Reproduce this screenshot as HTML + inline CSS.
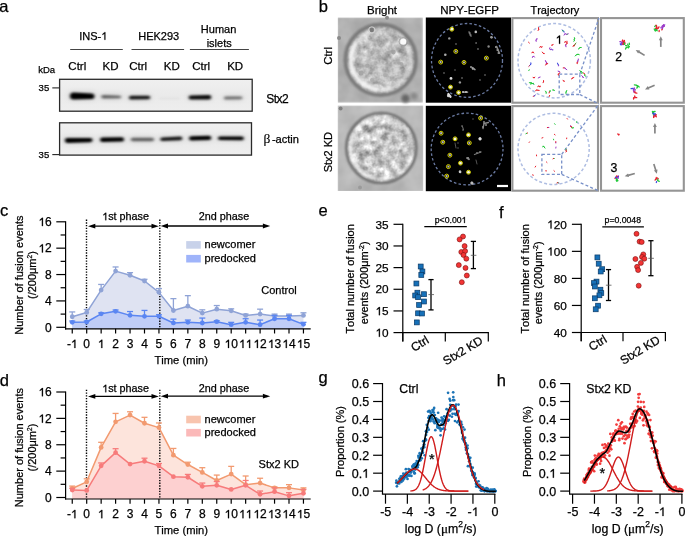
<!DOCTYPE html>
<html><head><meta charset="utf-8"><style>
html,body{margin:0;padding:0;background:#fff;width:685px;height:536px;overflow:hidden}
svg{display:block;font-family:"Liberation Sans", sans-serif;will-change:transform;font-kerning:none;font-variant-ligatures:none}
text{stroke:#000;stroke-width:0.25px}
</style></head><body>
<svg width="685" height="536" viewBox="0 0 685 536">
<defs>
<filter id="blur1" x="-50%" y="-100%" width="200%" height="300%"><feGaussianBlur stdDeviation="1.5 1.3"/></filter>
<linearGradient id="blotbg" x1="0" y1="0" x2="0" y2="1"><stop offset="0" stop-color="#f0f0f0"/><stop offset="0.5" stop-color="#eaeaea"/><stop offset="1" stop-color="#eeeeee"/></linearGradient>
<filter id="blur2" x="-50%" y="-100%" width="200%" height="300%"><feGaussianBlur stdDeviation="3 2.5"/></filter>
<filter id="bl06"><feGaussianBlur stdDeviation="0.6"/></filter>
<filter id="bl04" x="-20%" y="-20%" width="140%" height="140%"><feGaussianBlur stdDeviation="0.35"/></filter>
<filter id="bl1" x="-20%" y="-20%" width="140%" height="140%"><feGaussianBlur stdDeviation="1"/></filter>
<filter id="bl15" x="-20%" y="-20%" width="140%" height="140%"><feGaussianBlur stdDeviation="1.5"/></filter>
<filter id="bl2" x="-20%" y="-20%" width="140%" height="140%"><feGaussianBlur stdDeviation="2"/></filter>
<filter id="mot1" x="0" y="0" width="100%" height="100%" color-interpolation-filters="sRGB">
<feTurbulence type="fractalNoise" baseFrequency="0.13" numOctaves="3" seed="4"/>
<feColorMatrix type="matrix" values="0.33 0.33 0.33 0 0  0.33 0.33 0.33 0 0  0.33 0.33 0.33 0 0  0 0 0 0 1"/>
<feComponentTransfer><feFuncR type="linear" slope="0.95" intercept="0.265"/><feFuncG type="linear" slope="0.95" intercept="0.265"/><feFuncB type="linear" slope="0.95" intercept="0.265"/></feComponentTransfer>
<feGaussianBlur stdDeviation="0.7"/>
</filter>
<filter id="mot2" x="0" y="0" width="100%" height="100%" color-interpolation-filters="sRGB">
<feTurbulence type="fractalNoise" baseFrequency="0.12" numOctaves="3" seed="9"/>
<feColorMatrix type="matrix" values="0.33 0.33 0.33 0 0  0.33 0.33 0.33 0 0  0.33 0.33 0.33 0 0  0 0 0 0 1"/>
<feComponentTransfer><feFuncR type="linear" slope="1.35" intercept="0.11"/><feFuncG type="linear" slope="1.35" intercept="0.11"/><feFuncB type="linear" slope="1.35" intercept="0.11"/></feComponentTransfer>
<feGaussianBlur stdDeviation="0.6"/>
</filter>
<filter id="bgn1" x="0" y="0" width="100%" height="100%" color-interpolation-filters="sRGB">
<feTurbulence type="fractalNoise" baseFrequency="0.05" numOctaves="3" seed="2"/>
<feColorMatrix type="matrix" values="0.33 0.33 0.33 0 0  0.33 0.33 0.33 0 0  0.33 0.33 0.33 0 0  0 0 0 0 1"/>
<feComponentTransfer><feFuncR type="linear" slope="0.25" intercept="0.565"/><feFuncG type="linear" slope="0.25" intercept="0.565"/><feFuncB type="linear" slope="0.25" intercept="0.565"/></feComponentTransfer>
<feGaussianBlur stdDeviation="1.0"/>
</filter>
<filter id="bgn2" x="0" y="0" width="100%" height="100%" color-interpolation-filters="sRGB">
<feTurbulence type="fractalNoise" baseFrequency="0.05" numOctaves="3" seed="5"/>
<feColorMatrix type="matrix" values="0.33 0.33 0.33 0 0  0.33 0.33 0.33 0 0  0.33 0.33 0.33 0 0  0 0 0 0 1"/>
<feComponentTransfer><feFuncR type="linear" slope="0.25" intercept="0.605"/><feFuncG type="linear" slope="0.25" intercept="0.605"/><feFuncB type="linear" slope="0.25" intercept="0.605"/></feComponentTransfer>
<feGaussianBlur stdDeviation="1.0"/>
</filter>
</defs>
<text x="-0.80" y="11.70" font-size="16.5" text-anchor="start" fill="#000" >a</text>
<text x="318.80" y="12.00" font-size="16.5" text-anchor="start" fill="#000" >b</text>
<text x="0.00" y="216.30" font-size="16.5" text-anchor="start" fill="#000" >c</text>
<text x="-0.30" y="386.20" font-size="16.5" text-anchor="start" fill="#000" >d</text>
<text x="318.60" y="216.30" font-size="16.5" text-anchor="start" fill="#000" >e</text>
<text x="499.10" y="217.90" font-size="16.5" text-anchor="start" fill="#000" >f</text>
<text x="318.50" y="383.00" font-size="16.5" text-anchor="start" fill="#000" >g</text>
<text x="496.80" y="386.40" font-size="16.5" text-anchor="start" fill="#000" >h</text>
<text id="t1_0" x="93.30" y="39.80" font-size="11" text-anchor="middle" fill="#000" >INS- </text>
<path d="M590,0 L590,1130 L230,905 L230,1075 L620,1409 L770,1409 L770,0 Z" transform="translate(101.238,39.800) scale(0.00537,-0.00537)" fill="#000" stroke="#000" stroke-width="46.5"/>
<text x="158.70" y="39.80" font-size="11" text-anchor="middle" fill="#000" >HEK293</text>
<text x="218.60" y="33.10" font-size="11" text-anchor="middle" fill="#000" >Human</text>
<text x="219.20" y="47.10" font-size="11" text-anchor="middle" fill="#000" >islets</text>
<line x1="70.20" y1="49.50" x2="122.80" y2="49.50" stroke="#444" stroke-width="1.0" />
<line x1="131.50" y1="49.50" x2="184.10" y2="49.50" stroke="#444" stroke-width="1.0" />
<line x1="189.90" y1="49.50" x2="248.90" y2="49.50" stroke="#444" stroke-width="1.0" />
<text x="77.30" y="70.30" font-size="11.5" text-anchor="middle" fill="#000" >Ctrl</text>
<text x="110.50" y="70.30" font-size="11.5" text-anchor="middle" fill="#000" >KD</text>
<text x="138.10" y="70.30" font-size="11.5" text-anchor="middle" fill="#000" >Ctrl</text>
<text x="171.80" y="70.30" font-size="11.5" text-anchor="middle" fill="#000" >KD</text>
<text x="201.20" y="70.30" font-size="11.5" text-anchor="middle" fill="#000" >Ctrl</text>
<text x="235.20" y="70.30" font-size="11.5" text-anchor="middle" fill="#000" >KD</text>
<text x="38.20" y="73.20" font-size="9.5" text-anchor="start" fill="#000" >kDa</text>
<text x="38.60" y="91.10" font-size="9.5" text-anchor="start" fill="#000" >35</text>
<text x="38.60" y="157.90" font-size="9.5" text-anchor="start" fill="#000" >35</text>
<line x1="52.30" y1="87.90" x2="59.50" y2="87.90" stroke="#222" stroke-width="1.1" />
<line x1="52.30" y1="154.60" x2="59.50" y2="154.60" stroke="#222" stroke-width="1.1" />
<rect x="59.60" y="79.30" width="192.60" height="31.90" fill="url(#blotbg)" stroke="#2a2a2a" stroke-width="1.3" />
<rect x="59.60" y="122.80" width="191.90" height="32.30" fill="url(#blotbg)" stroke="#2a2a2a" stroke-width="1.3" />
<g filter="url(#blur2)" opacity="0.10">
<rect x="69.50" y="91.50" width="25.20" height="9.00" fill="#000"/>
<rect x="100.90" y="93.70" width="20.40" height="6.00" fill="#000"/>
<rect x="128.60" y="94.70" width="21.90" height="6.00" fill="#000"/>
<rect x="188.30" y="94.40" width="23.20" height="6.00" fill="#000"/>
<rect x="223.60" y="95.40" width="19.00" height="5.00" fill="#000"/>
<rect x="64.40" y="137.00" width="28.40" height="7.00" fill="#000"/>
<rect x="99.70" y="136.20" width="24.50" height="7.00" fill="#000"/>
<rect x="130.40" y="136.50" width="23.80" height="6.00" fill="#000"/>
<rect x="159.90" y="135.80" width="22.70" height="6.00" fill="#000"/>
<rect x="188.70" y="134.60" width="22.80" height="7.00" fill="#000"/>
<rect x="217.60" y="135.00" width="26.50" height="6.00" fill="#000"/>
</g>
<g filter="url(#blur1)">
<path d="M73.50,92.50 L91.60,93.40 A2.80,2.80 0 0 1 91.60,99.00 L73.50,99.50 A3.50,3.50 0 0 1 73.50,92.50 Z" fill="#000" fill-opacity="1.0"/>
<path d="M103.10,94.90 L119.70,95.70 A1.30,1.30 0 0 1 119.70,98.30 L103.10,98.50 A1.80,1.80 0 0 1 103.10,94.90 Z" fill="#000" fill-opacity="0.55"/>
<path d="M130.90,95.80 L148.40,95.70 A1.80,1.80 0 0 1 148.40,99.30 L130.90,99.60 A1.90,1.90 0 0 1 130.90,95.80 Z" fill="#000" fill-opacity="0.9"/>
<path d="M159.80,97.70 L179.20,97.70 A0.80,0.80 0 0 1 179.20,99.30 L159.80,99.30 A0.80,0.80 0 0 1 159.80,97.70 Z" fill="#000" fill-opacity="0.05"/>
<path d="M190.60,95.60 L209.00,95.00 A2.20,2.20 0 0 1 209.00,99.40 L190.60,99.40 A1.90,1.90 0 0 1 190.60,95.60 Z" fill="#000" fill-opacity="0.95"/>
<path d="M225.50,96.40 L240.90,96.50 A1.40,1.40 0 0 1 240.90,99.30 L225.50,99.40 A1.50,1.50 0 0 1 225.50,96.40 Z" fill="#000" fill-opacity="0.5"/>
</g>
<g filter="url(#blur1)">
<path d="M67.30,138.10 L90.40,138.00 A2.10,2.10 0 0 1 90.40,142.20 L67.30,142.90 A2.40,2.40 0 0 1 67.30,138.10 Z" fill="#000" fill-opacity="1.0"/>
<path d="M102.30,137.60 L121.80,137.20 A2.20,2.20 0 0 1 121.80,141.60 L102.30,142.00 A2.20,2.20 0 0 1 102.30,137.60 Z" fill="#000" fill-opacity="1.0"/>
<path d="M132.60,137.70 L152.30,137.80 A1.70,1.70 0 0 1 152.30,141.20 L132.60,141.30 A1.80,1.80 0 0 1 132.60,137.70 Z" fill="#000" fill-opacity="0.55"/>
<path d="M162.00,137.50 L180.50,136.60 A1.80,1.80 0 0 1 180.50,140.20 L162.00,140.90 A1.70,1.70 0 0 1 162.00,137.50 Z" fill="#000" fill-opacity="0.9"/>
<path d="M191.25,136.25 L209.05,135.75 A2.15,2.15 0 0 1 209.05,140.05 L191.25,140.55 A2.15,2.15 0 0 1 191.25,136.25 Z" fill="#000" fill-opacity="1.0"/>
<path d="M219.80,136.40 L242.00,136.60 A1.80,1.80 0 0 1 242.00,140.20 L219.80,140.00 A1.80,1.80 0 0 1 219.80,136.40 Z" fill="#000" fill-opacity="1.0"/>
</g>
<text x="266.30" y="103.00" font-size="12" text-anchor="start" fill="#000" letter-spacing="-0.55">Stx2</text>
<text x="263.6" y="143.2" font-size="12"><tspan font-family="Liberation Serif" font-size="13.5" stroke-width="0.15">β</tspan><tspan dx="1.4" font-size="11.1">-actin</tspan></text>
<text x="382.00" y="14.20" font-size="11.5" text-anchor="middle" fill="#000" >Bright</text>
<text x="469.60" y="14.00" font-size="11.5" text-anchor="middle" fill="#000" >NPY-EGFP</text>
<text x="554.90" y="13.80" font-size="11" text-anchor="middle" fill="#000" >Trajectory</text>
<text transform="translate(332.3,55.9) rotate(-90)" font-size="11.3" text-anchor="middle">Ctrl</text>
<text transform="translate(332.3,152.2) rotate(-90)" font-size="11" text-anchor="middle">Stx2 KD</text>
<clipPath id="clipt"><rect x="337.8" y="17.5" width="85.2" height="85.2"/></clipPath>
<clipPath id="cct"><circle cx="380.7" cy="59.8" r="34.8"/></clipPath>
<g clip-path="url(#clipt)">
<rect x="337.8" y="17.5" width="85.2" height="85.2" filter="url(#bgn1)"/>
<g clip-path="url(#cct)"><rect x="345.4" y="24.5" width="70.6" height="70.6" filter="url(#mot1)"/></g>
<g clip-path="url(#cct)" filter="url(#bl15)">
<path d="M378.10,89.49 A29.80,29.80 0 0 1 356.29,42.71" fill="none" stroke="#f8f8f8" stroke-width="4.5" opacity="0.95"/>
<path d="M352.70,49.61 A29.80,29.80 0 0 1 375.53,30.45" fill="none" stroke="#eeeeee" stroke-width="3.5" opacity="0.7"/>
<path d="M406.51,44.90 A29.80,29.80 0 0 1 406.51,74.70" fill="none" stroke="#e8e8e8" stroke-width="3.5" opacity="0.6"/>
<path d="M403.53,78.96 A29.80,29.80 0 0 1 378.10,89.49" fill="none" stroke="#f0f0f0" stroke-width="3.5" opacity="0.7"/>
</g>
<circle cx="380.7" cy="59.8" r="35.3" fill="none" stroke="#7a7a7a" stroke-width="3.8" filter="url(#bl1)"/>
</g>
<g filter="url(#bl06)">
<circle cx="403.30" cy="41.80" r="3.00" fill="#fafafa" stroke="none" stroke-width="1" />
<circle cx="403.30" cy="41.80" r="4.20" fill="none" stroke="#999" stroke-width="0.8" />
<circle cx="371.80" cy="30.00" r="2.20" fill="#7a7a7a" stroke="none" stroke-width="1" />
<circle cx="371.80" cy="30.00" r="3.20" fill="none" stroke="#d0d0d0" stroke-width="0.9" />
<circle cx="393.50" cy="52.10" r="2.30" fill="#9c9c9c" stroke="none" stroke-width="0" opacity="0.8"/>
<circle cx="388.80" cy="52.50" r="1.80" fill="#a8a8a8" stroke="none" stroke-width="0" opacity="0.8"/>
<circle cx="379.30" cy="56.10" r="1.80" fill="#a8a8a8" stroke="none" stroke-width="0" opacity="0.8"/>
<circle cx="367.40" cy="65.60" r="2.20" fill="#a4a4a4" stroke="none" stroke-width="0" opacity="0.8"/>
<circle cx="401.50" cy="64.00" r="2.00" fill="#a4a4a4" stroke="none" stroke-width="0" opacity="0.8"/>
<circle cx="361.00" cy="73.00" r="2.50" fill="#a0a0a0" stroke="none" stroke-width="0" opacity="0.8"/>
<circle cx="372.00" cy="80.00" r="2.00" fill="#a8a8a8" stroke="none" stroke-width="0" opacity="0.8"/>
<circle cx="385.00" cy="75.00" r="2.00" fill="#acacac" stroke="none" stroke-width="0" opacity="0.8"/>
<circle cx="383.00" cy="62.00" r="1.80" fill="#a8a8a8" stroke="none" stroke-width="0" opacity="0.8"/>
<circle cx="399.00" cy="63.00" r="1.80" fill="#a4a4a4" stroke="none" stroke-width="0" opacity="0.8"/>
<circle cx="339.00" cy="38.00" r="2.00" fill="#8a8a8a" stroke="none" stroke-width="1" />
<circle cx="387.00" cy="17.80" r="2.00" fill="#8a8a8a" stroke="none" stroke-width="1" />
</g>
<circle cx="405.50" cy="98.50" r="4.20" fill="#666" stroke="none" stroke-width="0" filter="url(#bl15)"/>
<circle cx="414.00" cy="96.00" r="3.50" fill="#8a8a8a" stroke="none" stroke-width="0" filter="url(#bl15)"/>
<clipPath id="clipb"><rect x="337.7" y="105.5" width="85.5" height="85.6"/></clipPath>
<clipPath id="ccb"><circle cx="381.3" cy="148.0" r="34.5"/></clipPath>
<g clip-path="url(#clipb)">
<rect x="337.7" y="105.5" width="85.5" height="85.6" filter="url(#bgn2)"/>
<g clip-path="url(#ccb)"><rect x="346.3" y="113.0" width="70.0" height="70.0" filter="url(#mot2)"/></g>
<g clip-path="url(#ccb)" filter="url(#bl15)">
<path d="M375.92,178.53 A31.00,31.00 0 0 1 352.17,137.40" fill="none" stroke="#f4f4f4" stroke-width="4" opacity="0.8"/>
<path d="M352.17,137.40 A31.00,31.00 0 0 1 391.90,118.87" fill="none" stroke="#f0f0f0" stroke-width="3.5" opacity="0.6"/>
<path d="M396.80,121.15 A31.00,31.00 0 0 1 412.30,148.00" fill="none" stroke="#eeeeee" stroke-width="3.5" opacity="0.5"/>
<path d="M412.30,148.00 A31.00,31.00 0 0 1 375.92,178.53" fill="none" stroke="#eeeeee" stroke-width="3.5" opacity="0.5"/>
</g>
<circle cx="381.3" cy="148.0" r="35.0" fill="none" stroke="#6e6e6e" stroke-width="2.6" filter="url(#bl1)"/>
</g>
<circle cx="340.60" cy="108.60" r="2.00" fill="#808080" stroke="none" stroke-width="0" filter="url(#bl06)"/>
<circle cx="360.00" cy="187.50" r="2.00" fill="#9a9a9a" stroke="none" stroke-width="0" filter="url(#bl06)"/>
<rect x="425.80" y="17.50" width="85.30" height="85.20" fill="#000" stroke="none" stroke-width="1" />
<g filter="url(#bl06)">
<circle cx="475.80" cy="31.90" r="1.30" fill="#bbb" stroke="none" stroke-width="1" />
<circle cx="469.60" cy="33.00" r="1.00" fill="#888" stroke="none" stroke-width="1" />
<circle cx="470.50" cy="35.00" r="1.00" fill="#888" stroke="none" stroke-width="1" />
<circle cx="449.30" cy="38.40" r="1.20" fill="#999" stroke="none" stroke-width="1" />
<circle cx="491.50" cy="37.30" r="1.30" fill="#999" stroke="none" stroke-width="1" />
<circle cx="496.00" cy="47.00" r="1.00" fill="#aaa" stroke="none" stroke-width="1" />
<circle cx="497.50" cy="50.00" r="1.10" fill="#aaa" stroke="none" stroke-width="1" />
<circle cx="498.50" cy="53.00" r="1.00" fill="#999" stroke="none" stroke-width="1" />
<circle cx="445.30" cy="54.70" r="1.30" fill="#aaa" stroke="none" stroke-width="1" />
<circle cx="472.90" cy="68.60" r="1.20" fill="#bbb" stroke="none" stroke-width="1" />
<circle cx="471.00" cy="67.00" r="1.00" fill="#999" stroke="none" stroke-width="1" />
<circle cx="451.00" cy="78.40" r="1.40" fill="#ddd" stroke="none" stroke-width="1" />
<circle cx="459.90" cy="82.40" r="1.20" fill="#999" stroke="none" stroke-width="1" />
<circle cx="463.00" cy="92.00" r="1.00" fill="#ccc" stroke="none" stroke-width="1" />
<circle cx="466.00" cy="92.00" r="1.00" fill="#ccc" stroke="none" stroke-width="1" />
<circle cx="448.50" cy="95.70" r="1.60" fill="#ccc" stroke="none" stroke-width="1" />
<circle cx="488.60" cy="46.50" r="1.20" fill="#888" stroke="none" stroke-width="1" />
<circle cx="476.10" cy="43.00" r="0.90" fill="#666" stroke="none" stroke-width="1" />
<circle cx="478.00" cy="49.00" r="0.90" fill="#666" stroke="none" stroke-width="1" />
<circle cx="456.00" cy="44.00" r="0.90" fill="#555" stroke="none" stroke-width="1" />
<circle cx="444.00" cy="73.00" r="0.90" fill="#555" stroke="none" stroke-width="1" />
<circle cx="485.00" cy="75.00" r="0.90" fill="#555" stroke="none" stroke-width="1" />
<circle cx="480.00" cy="80.00" r="0.90" fill="#555" stroke="none" stroke-width="1" />
<circle cx="455.00" cy="70.00" r="0.90" fill="#444" stroke="none" stroke-width="1" />
<circle cx="462.00" cy="78.00" r="1.00" fill="#555" stroke="none" stroke-width="1" />
</g>
<ellipse cx="467.0" cy="60.4" rx="35.5" ry="36.9" fill="none" stroke="#6a7aa2" stroke-width="1.3" stroke-dasharray="2.6 2.2"/>
<g filter="url(#bl04)">
<circle cx="451.80" cy="29.20" r="1.60" fill="#f4f4e0" stroke="none" stroke-width="0" />
<circle cx="451.80" cy="29.20" r="1.95" fill="none" stroke="#d8d400" stroke-width="1.0" />
<circle cx="455.80" cy="51.40" r="1.10" fill="#b0b0c0" stroke="none" stroke-width="0" />
<circle cx="455.80" cy="51.40" r="1.95" fill="none" stroke="#d8d400" stroke-width="1.0" />
<circle cx="440.70" cy="62.10" r="1.10" fill="#b0b0c0" stroke="none" stroke-width="0" />
<circle cx="440.70" cy="62.10" r="1.95" fill="none" stroke="#d8d400" stroke-width="1.0" />
<circle cx="464.00" cy="62.40" r="1.10" fill="#b0b0c0" stroke="none" stroke-width="0" />
<circle cx="464.00" cy="62.40" r="1.95" fill="none" stroke="#d8d400" stroke-width="1.0" />
<circle cx="486.40" cy="58.10" r="1.10" fill="#b0b0c0" stroke="none" stroke-width="0" />
<circle cx="486.40" cy="58.10" r="1.95" fill="none" stroke="#d8d400" stroke-width="1.0" />
<circle cx="450.50" cy="87.10" r="1.60" fill="#f4f4e0" stroke="none" stroke-width="0" />
<circle cx="450.50" cy="87.10" r="1.95" fill="none" stroke="#d8d400" stroke-width="1.0" />
<circle cx="458.60" cy="92.50" r="1.60" fill="#f4f4e0" stroke="none" stroke-width="0" />
<circle cx="458.60" cy="92.50" r="1.95" fill="none" stroke="#d8d400" stroke-width="1.0" />
</g>
<rect x="425.80" y="105.80" width="85.30" height="85.40" fill="#000" stroke="none" stroke-width="1" />
<g filter="url(#bl06)">
<circle cx="480.00" cy="138.80" r="1.60" fill="#ddd" stroke="none" stroke-width="1" />
<circle cx="471.90" cy="183.00" r="1.50" fill="#aaa" stroke="none" stroke-width="1" />
<circle cx="460.00" cy="171.80" r="1.30" fill="#bbb" stroke="none" stroke-width="1" />
<circle cx="484.00" cy="122.00" r="1.00" fill="#888" stroke="none" stroke-width="1" />
<circle cx="486.00" cy="125.00" r="1.00" fill="#888" stroke="none" stroke-width="1" />
<circle cx="483.00" cy="127.00" r="1.00" fill="#888" stroke="none" stroke-width="1" />
<circle cx="477.00" cy="153.00" r="1.00" fill="#777" stroke="none" stroke-width="1" />
<circle cx="480.00" cy="152.00" r="1.00" fill="#777" stroke="none" stroke-width="1" />
<circle cx="468.00" cy="158.00" r="1.10" fill="#999" stroke="none" stroke-width="1" />
<circle cx="462.00" cy="126.00" r="0.90" fill="#555" stroke="none" stroke-width="1" />
<circle cx="463.00" cy="130.00" r="0.90" fill="#555" stroke="none" stroke-width="1" />
<circle cx="473.00" cy="119.00" r="0.80" fill="#555" stroke="none" stroke-width="1" />
<circle cx="458.00" cy="143.00" r="0.80" fill="#555" stroke="none" stroke-width="1" />
<circle cx="458.00" cy="148.00" r="0.80" fill="#555" stroke="none" stroke-width="1" />
</g>
<ellipse cx="467.1" cy="149.0" rx="35.9" ry="35.9" fill="none" stroke="#6a7aa2" stroke-width="1.3" stroke-dasharray="2.6 2.2"/>
<g filter="url(#bl04)">
<circle cx="480.60" cy="118.10" r="1.10" fill="#b0b0c0" stroke="none" stroke-width="0" />
<circle cx="480.60" cy="118.10" r="1.95" fill="none" stroke="#d8d400" stroke-width="1.0" />
<circle cx="441.10" cy="133.20" r="1.10" fill="#b0b0c0" stroke="none" stroke-width="0" />
<circle cx="441.10" cy="133.20" r="1.95" fill="none" stroke="#d8d400" stroke-width="1.0" />
<circle cx="455.10" cy="138.80" r="1.60" fill="#f4f4e0" stroke="none" stroke-width="0" />
<circle cx="455.10" cy="138.80" r="1.95" fill="none" stroke="#d8d400" stroke-width="1.0" />
<circle cx="468.50" cy="134.90" r="1.60" fill="#f4f4e0" stroke="none" stroke-width="0" />
<circle cx="468.50" cy="134.90" r="1.95" fill="none" stroke="#d8d400" stroke-width="1.0" />
<circle cx="442.80" cy="142.20" r="1.10" fill="#b0b0c0" stroke="none" stroke-width="0" />
<circle cx="442.80" cy="142.20" r="1.95" fill="none" stroke="#d8d400" stroke-width="1.0" />
<circle cx="469.30" cy="142.90" r="1.10" fill="#b0b0c0" stroke="none" stroke-width="0" />
<circle cx="469.30" cy="142.90" r="1.95" fill="none" stroke="#d8d400" stroke-width="1.0" />
<circle cx="449.90" cy="155.20" r="1.10" fill="#b0b0c0" stroke="none" stroke-width="0" />
<circle cx="449.90" cy="155.20" r="1.95" fill="none" stroke="#d8d400" stroke-width="1.0" />
<circle cx="460.50" cy="163.10" r="1.60" fill="#f4f4e0" stroke="none" stroke-width="0" />
<circle cx="460.50" cy="163.10" r="1.95" fill="none" stroke="#d8d400" stroke-width="1.0" />
<circle cx="448.40" cy="166.60" r="1.10" fill="#b0b0c0" stroke="none" stroke-width="0" />
<circle cx="448.40" cy="166.60" r="1.95" fill="none" stroke="#d8d400" stroke-width="1.0" />
<circle cx="468.50" cy="172.20" r="1.60" fill="#f4f4e0" stroke="none" stroke-width="0" />
<circle cx="468.50" cy="172.20" r="1.95" fill="none" stroke="#d8d400" stroke-width="1.0" />
<circle cx="446.70" cy="176.10" r="1.10" fill="#b0b0c0" stroke="none" stroke-width="0" />
<circle cx="446.70" cy="176.10" r="1.95" fill="none" stroke="#d8d400" stroke-width="1.0" />
</g>
<rect x="497.00" y="184.90" width="11.00" height="2.20" fill="#fff" stroke="none" stroke-width="1" />
<g filter="url(#bl06)" stroke-linecap="round">
<line x1="496.60" y1="46.50" x2="499.40" y2="53.20" stroke="#8a8a8a" stroke-width="1.6" />
<line x1="469.00" y1="31.80" x2="471.00" y2="36.30" stroke="#777" stroke-width="1.3" />
<line x1="472.30" y1="67.50" x2="475.00" y2="69.60" stroke="#999" stroke-width="1.5" />
<line x1="463.50" y1="92.10" x2="467.60" y2="92.10" stroke="#bbb" stroke-width="1.4" />
<line x1="448.30" y1="94.00" x2="450.50" y2="96.80" stroke="#ddd" stroke-width="2.2" />
<line x1="491.30" y1="37.00" x2="491.60" y2="37.60" stroke="#999" stroke-width="1.6" />
<line x1="483.00" y1="128.50" x2="484.00" y2="123.50" stroke="#888" stroke-width="1.3" />
<line x1="484.00" y1="123.50" x2="488.50" y2="122.50" stroke="#888" stroke-width="1.3" />
<line x1="474.50" y1="154.50" x2="481.00" y2="152.00" stroke="#777" stroke-width="1.3" />
<line x1="462.30" y1="126.30" x2="463.50" y2="129.60" stroke="#666" stroke-width="1.1" />
<line x1="467.00" y1="158.00" x2="469.00" y2="159.30" stroke="#888" stroke-width="1.8" />
<line x1="471.90" y1="183.00" x2="472.20" y2="183.30" stroke="#bbb" stroke-width="2.6" />
<line x1="460.00" y1="171.50" x2="460.20" y2="172.20" stroke="#ccc" stroke-width="2.2" />
<line x1="480.00" y1="138.60" x2="480.20" y2="139.00" stroke="#ddd" stroke-width="2.4" />
<line x1="455.00" y1="143.00" x2="456.00" y2="148.00" stroke="#555" stroke-width="1.0" />
<line x1="476.00" y1="160.00" x2="477.00" y2="164.00" stroke="#555" stroke-width="1.0" />
</g>
<rect x="512.40" y="18.10" width="85.60" height="84.60" fill="#fff" stroke="#959595" stroke-width="2.1" />
<rect x="601.00" y="18.10" width="82.80" height="84.60" fill="#fff" stroke="#959595" stroke-width="2.1" />
<rect x="512.40" y="106.10" width="85.60" height="84.60" fill="#fff" stroke="#959595" stroke-width="2.1" />
<rect x="601.00" y="106.10" width="82.80" height="84.60" fill="#fff" stroke="#959595" stroke-width="2.1" />
<ellipse cx="554.2" cy="60.7" rx="36.2" ry="37.2" fill="none" stroke="#aebde2" stroke-width="1.5" stroke-dasharray="3 2.2"/>
<ellipse cx="553.6" cy="148.9" rx="35.6" ry="35.6" fill="none" stroke="#aebde2" stroke-width="1.5" stroke-dasharray="3 2.2"/>
<rect x="559.20" y="74.10" width="20.60" height="20.40" fill="none" stroke="#7890c8" stroke-width="1.3" stroke-dasharray="3 2.2"/>
<rect x="541.90" y="154.30" width="19.80" height="20.10" fill="none" stroke="#7890c8" stroke-width="1.3" stroke-dasharray="3 2.2"/>
<line x1="579.80" y1="74.10" x2="599.00" y2="18.00" stroke="#7890c8" stroke-width="1.3" stroke-dasharray="3 2.2"/>
<line x1="579.80" y1="94.50" x2="599.00" y2="104.00" stroke="#7890c8" stroke-width="1.3" stroke-dasharray="3 2.2"/>
<line x1="561.70" y1="154.30" x2="599.00" y2="104.00" stroke="#7890c8" stroke-width="1.3" stroke-dasharray="3 2.2"/>
<line x1="561.70" y1="174.40" x2="599.00" y2="191.00" stroke="#7890c8" stroke-width="1.3" stroke-dasharray="3 2.2"/>
<line x1="538.50" y1="27.60" x2="538.59" y2="28.71" stroke="#e8202c" stroke-width="1.0" stroke-linecap="round"/>
<line x1="538.59" y1="28.71" x2="538.70" y2="29.59" stroke="#e8202c" stroke-width="1.0" stroke-linecap="round"/>
<line x1="538.70" y1="29.59" x2="538.05" y2="30.60" stroke="#e8202c" stroke-width="1.0" stroke-linecap="round"/>
<line x1="562.20" y1="29.90" x2="562.63" y2="30.81" stroke="#3a48e0" stroke-width="1.0" stroke-linecap="round"/>
<line x1="562.63" y1="30.81" x2="563.76" y2="31.12" stroke="#22c83a" stroke-width="1.0" stroke-linecap="round"/>
<line x1="563.76" y1="31.12" x2="564.08" y2="32.22" stroke="#3a48e0" stroke-width="1.0" stroke-linecap="round"/>
<line x1="568.30" y1="33.80" x2="567.42" y2="34.16" stroke="#9a3cc8" stroke-width="1.0" stroke-linecap="round"/>
<line x1="567.42" y1="34.16" x2="566.65" y2="34.49" stroke="#22c83a" stroke-width="1.0" stroke-linecap="round"/>
<line x1="566.65" y1="34.49" x2="565.90" y2="33.87" stroke="#9a3cc8" stroke-width="1.0" stroke-linecap="round"/>
<line x1="565.90" y1="33.87" x2="564.70" y2="34.04" stroke="#9a3cc8" stroke-width="1.0" stroke-linecap="round"/>
<line x1="564.70" y1="34.04" x2="564.06" y2="35.12" stroke="#9a3cc8" stroke-width="1.0" stroke-linecap="round"/>
<line x1="574.40" y1="37.60" x2="574.63" y2="38.60" stroke="#22c83a" stroke-width="1.0" stroke-linecap="round"/>
<line x1="574.63" y1="38.60" x2="574.21" y2="39.30" stroke="#22c83a" stroke-width="1.0" stroke-linecap="round"/>
<line x1="574.21" y1="39.30" x2="574.41" y2="40.41" stroke="#22c83a" stroke-width="1.0" stroke-linecap="round"/>
<line x1="574.41" y1="40.41" x2="573.83" y2="41.37" stroke="#22c83a" stroke-width="1.0" stroke-linecap="round"/>
<line x1="576.00" y1="43.00" x2="575.19" y2="43.94" stroke="#22c83a" stroke-width="1.0" stroke-linecap="round"/>
<line x1="575.19" y1="43.94" x2="574.73" y2="44.80" stroke="#e8202c" stroke-width="1.0" stroke-linecap="round"/>
<line x1="574.73" y1="44.80" x2="574.38" y2="45.71" stroke="#22c83a" stroke-width="1.0" stroke-linecap="round"/>
<line x1="574.38" y1="45.71" x2="573.40" y2="45.72" stroke="#e8202c" stroke-width="1.0" stroke-linecap="round"/>
<line x1="573.40" y1="45.72" x2="573.05" y2="46.47" stroke="#e8202c" stroke-width="1.0" stroke-linecap="round"/>
<line x1="581.30" y1="47.50" x2="580.01" y2="47.48" stroke="#22c83a" stroke-width="1.0" stroke-linecap="round"/>
<line x1="580.01" y1="47.48" x2="579.32" y2="48.38" stroke="#22c83a" stroke-width="1.0" stroke-linecap="round"/>
<line x1="579.32" y1="48.38" x2="578.33" y2="49.07" stroke="#22c83a" stroke-width="1.0" stroke-linecap="round"/>
<line x1="528.50" y1="42.20" x2="529.42" y2="43.06" stroke="#e8202c" stroke-width="1.0" stroke-linecap="round"/>
<line x1="536.20" y1="41.40" x2="536.05" y2="40.27" stroke="#9a3cc8" stroke-width="1.0" stroke-linecap="round"/>
<line x1="536.05" y1="40.27" x2="536.41" y2="39.08" stroke="#9a3cc8" stroke-width="1.0" stroke-linecap="round"/>
<line x1="536.41" y1="39.08" x2="537.39" y2="38.90" stroke="#9a3cc8" stroke-width="1.0" stroke-linecap="round"/>
<line x1="542.30" y1="46.80" x2="541.45" y2="47.12" stroke="#e8202c" stroke-width="1.0" stroke-linecap="round"/>
<line x1="541.45" y1="47.12" x2="540.71" y2="46.67" stroke="#e8202c" stroke-width="1.0" stroke-linecap="round"/>
<line x1="540.71" y1="46.67" x2="539.65" y2="47.23" stroke="#e8202c" stroke-width="1.0" stroke-linecap="round"/>
<line x1="551.50" y1="45.20" x2="552.40" y2="44.97" stroke="#e8202c" stroke-width="1.0" stroke-linecap="round"/>
<line x1="552.40" y1="44.97" x2="553.18" y2="44.59" stroke="#e8202c" stroke-width="1.0" stroke-linecap="round"/>
<line x1="553.00" y1="49.80" x2="552.14" y2="49.74" stroke="#9a3cc8" stroke-width="1.0" stroke-linecap="round"/>
<line x1="552.14" y1="49.74" x2="551.48" y2="49.28" stroke="#3a48e0" stroke-width="1.0" stroke-linecap="round"/>
<line x1="551.48" y1="49.28" x2="550.40" y2="49.56" stroke="#9a3cc8" stroke-width="1.0" stroke-linecap="round"/>
<line x1="550.40" y1="49.56" x2="549.64" y2="48.87" stroke="#9a3cc8" stroke-width="1.0" stroke-linecap="round"/>
<line x1="549.64" y1="48.87" x2="549.95" y2="47.66" stroke="#9a3cc8" stroke-width="1.0" stroke-linecap="round"/>
<line x1="566.00" y1="46.80" x2="565.79" y2="45.88" stroke="#9a3cc8" stroke-width="1.0" stroke-linecap="round"/>
<line x1="565.79" y1="45.88" x2="565.66" y2="44.97" stroke="#9a3cc8" stroke-width="1.0" stroke-linecap="round"/>
<line x1="565.66" y1="44.97" x2="566.04" y2="44.28" stroke="#9a3cc8" stroke-width="1.0" stroke-linecap="round"/>
<line x1="566.04" y1="44.28" x2="567.08" y2="43.54" stroke="#e8202c" stroke-width="1.0" stroke-linecap="round"/>
<line x1="567.08" y1="43.54" x2="566.87" y2="42.47" stroke="#e8202c" stroke-width="1.0" stroke-linecap="round"/>
<line x1="566.87" y1="42.47" x2="567.05" y2="41.26" stroke="#e8202c" stroke-width="1.0" stroke-linecap="round"/>
<line x1="564.50" y1="42.20" x2="565.24" y2="41.91" stroke="#e8202c" stroke-width="1.0" stroke-linecap="round"/>
<line x1="565.24" y1="41.91" x2="565.98" y2="41.49" stroke="#e8202c" stroke-width="1.0" stroke-linecap="round"/>
<line x1="542.30" y1="52.10" x2="542.90" y2="52.84" stroke="#e8202c" stroke-width="1.0" stroke-linecap="round"/>
<line x1="542.90" y1="52.84" x2="543.47" y2="53.52" stroke="#e8202c" stroke-width="1.0" stroke-linecap="round"/>
<line x1="543.47" y1="53.52" x2="544.35" y2="53.58" stroke="#e8202c" stroke-width="1.0" stroke-linecap="round"/>
<line x1="533.90" y1="52.90" x2="532.98" y2="52.18" stroke="#e8202c" stroke-width="1.0" stroke-linecap="round"/>
<line x1="532.98" y1="52.18" x2="531.82" y2="52.67" stroke="#e8202c" stroke-width="1.0" stroke-linecap="round"/>
<line x1="532.40" y1="57.50" x2="532.89" y2="56.54" stroke="#9a3cc8" stroke-width="1.0" stroke-linecap="round"/>
<line x1="532.89" y1="56.54" x2="533.77" y2="56.32" stroke="#9a3cc8" stroke-width="1.0" stroke-linecap="round"/>
<line x1="533.77" y1="56.32" x2="534.47" y2="57.16" stroke="#9a3cc8" stroke-width="1.0" stroke-linecap="round"/>
<line x1="530.80" y1="62.80" x2="530.86" y2="64.09" stroke="#3a48e0" stroke-width="1.0" stroke-linecap="round"/>
<line x1="530.86" y1="64.09" x2="530.07" y2="65.00" stroke="#3a48e0" stroke-width="1.0" stroke-linecap="round"/>
<line x1="530.07" y1="65.00" x2="529.39" y2="65.83" stroke="#3a48e0" stroke-width="1.0" stroke-linecap="round"/>
<line x1="529.39" y1="65.83" x2="528.81" y2="66.39" stroke="#e8202c" stroke-width="1.0" stroke-linecap="round"/>
<line x1="545.40" y1="60.50" x2="545.92" y2="61.68" stroke="#9a3cc8" stroke-width="1.0" stroke-linecap="round"/>
<line x1="545.92" y1="61.68" x2="546.57" y2="62.36" stroke="#9a3cc8" stroke-width="1.0" stroke-linecap="round"/>
<line x1="546.57" y1="62.36" x2="546.23" y2="63.13" stroke="#9a3cc8" stroke-width="1.0" stroke-linecap="round"/>
<line x1="546.23" y1="63.13" x2="546.69" y2="63.80" stroke="#9a3cc8" stroke-width="1.0" stroke-linecap="round"/>
<line x1="547.70" y1="63.60" x2="546.72" y2="63.75" stroke="#e8202c" stroke-width="1.0" stroke-linecap="round"/>
<line x1="546.72" y1="63.75" x2="546.17" y2="64.34" stroke="#e8202c" stroke-width="1.0" stroke-linecap="round"/>
<line x1="546.17" y1="64.34" x2="545.66" y2="65.09" stroke="#e8202c" stroke-width="1.0" stroke-linecap="round"/>
<line x1="558.40" y1="65.90" x2="558.45" y2="64.95" stroke="#9a3cc8" stroke-width="1.0" stroke-linecap="round"/>
<line x1="558.45" y1="64.95" x2="557.75" y2="63.91" stroke="#3a48e0" stroke-width="1.0" stroke-linecap="round"/>
<line x1="557.75" y1="63.91" x2="557.57" y2="63.13" stroke="#3a48e0" stroke-width="1.0" stroke-linecap="round"/>
<line x1="575.20" y1="56.00" x2="575.99" y2="55.12" stroke="#22c83a" stroke-width="1.0" stroke-linecap="round"/>
<line x1="575.99" y1="55.12" x2="577.00" y2="54.52" stroke="#22c83a" stroke-width="1.0" stroke-linecap="round"/>
<line x1="577.00" y1="54.52" x2="578.22" y2="54.36" stroke="#22c83a" stroke-width="1.0" stroke-linecap="round"/>
<line x1="578.22" y1="54.36" x2="579.29" y2="54.74" stroke="#22c83a" stroke-width="1.0" stroke-linecap="round"/>
<line x1="578.30" y1="59.00" x2="578.23" y2="60.05" stroke="#9a3cc8" stroke-width="1.0" stroke-linecap="round"/>
<line x1="578.23" y1="60.05" x2="577.55" y2="61.10" stroke="#9a3cc8" stroke-width="1.0" stroke-linecap="round"/>
<line x1="577.55" y1="61.10" x2="577.75" y2="61.96" stroke="#9a3cc8" stroke-width="1.0" stroke-linecap="round"/>
<line x1="577.75" y1="61.96" x2="577.04" y2="62.87" stroke="#e8202c" stroke-width="1.0" stroke-linecap="round"/>
<line x1="577.04" y1="62.87" x2="577.31" y2="63.70" stroke="#e8202c" stroke-width="1.0" stroke-linecap="round"/>
<line x1="566.80" y1="69.70" x2="566.00" y2="69.18" stroke="#9a3cc8" stroke-width="1.0" stroke-linecap="round"/>
<line x1="566.00" y1="69.18" x2="565.31" y2="68.28" stroke="#9a3cc8" stroke-width="1.0" stroke-linecap="round"/>
<line x1="565.31" y1="68.28" x2="564.11" y2="67.85" stroke="#9a3cc8" stroke-width="1.0" stroke-linecap="round"/>
<line x1="564.11" y1="67.85" x2="563.20" y2="67.93" stroke="#e8202c" stroke-width="1.0" stroke-linecap="round"/>
<line x1="559.90" y1="72.00" x2="559.05" y2="71.50" stroke="#9a3cc8" stroke-width="1.0" stroke-linecap="round"/>
<line x1="559.05" y1="71.50" x2="558.08" y2="71.20" stroke="#9a3cc8" stroke-width="1.0" stroke-linecap="round"/>
<line x1="558.40" y1="75.10" x2="558.21" y2="74.29" stroke="#e8202c" stroke-width="1.0" stroke-linecap="round"/>
<line x1="558.21" y1="74.29" x2="558.92" y2="73.75" stroke="#e8202c" stroke-width="1.0" stroke-linecap="round"/>
<line x1="558.92" y1="73.75" x2="559.51" y2="72.81" stroke="#e8202c" stroke-width="1.0" stroke-linecap="round"/>
<line x1="529.30" y1="69.70" x2="528.80" y2="70.68" stroke="#22c83a" stroke-width="1.0" stroke-linecap="round"/>
<line x1="533.10" y1="77.40" x2="534.11" y2="77.74" stroke="#e8202c" stroke-width="1.0" stroke-linecap="round"/>
<line x1="534.11" y1="77.74" x2="534.86" y2="77.18" stroke="#e8202c" stroke-width="1.0" stroke-linecap="round"/>
<line x1="538.50" y1="78.10" x2="538.98" y2="77.40" stroke="#9a3cc8" stroke-width="1.0" stroke-linecap="round"/>
<line x1="538.98" y1="77.40" x2="540.14" y2="77.07" stroke="#9a3cc8" stroke-width="1.0" stroke-linecap="round"/>
<line x1="579.80" y1="70.50" x2="580.42" y2="71.37" stroke="#22c83a" stroke-width="1.0" stroke-linecap="round"/>
<line x1="580.42" y1="71.37" x2="581.57" y2="71.70" stroke="#22c83a" stroke-width="1.0" stroke-linecap="round"/>
<line x1="581.57" y1="71.70" x2="582.13" y2="72.83" stroke="#22c83a" stroke-width="1.0" stroke-linecap="round"/>
<line x1="582.13" y1="72.83" x2="581.78" y2="73.54" stroke="#22c83a" stroke-width="1.0" stroke-linecap="round"/>
<line x1="583.60" y1="72.80" x2="584.21" y2="73.66" stroke="#e8202c" stroke-width="1.0" stroke-linecap="round"/>
<line x1="584.21" y1="73.66" x2="584.74" y2="74.55" stroke="#e8202c" stroke-width="1.0" stroke-linecap="round"/>
<line x1="584.74" y1="74.55" x2="584.86" y2="75.67" stroke="#22c83a" stroke-width="1.0" stroke-linecap="round"/>
<line x1="584.86" y1="75.67" x2="585.56" y2="76.18" stroke="#22c83a" stroke-width="1.0" stroke-linecap="round"/>
<line x1="583.60" y1="77.40" x2="582.81" y2="77.15" stroke="#9a3cc8" stroke-width="1.0" stroke-linecap="round"/>
<line x1="582.81" y1="77.15" x2="582.36" y2="76.29" stroke="#9a3cc8" stroke-width="1.0" stroke-linecap="round"/>
<line x1="582.36" y1="76.29" x2="581.72" y2="75.71" stroke="#9a3cc8" stroke-width="1.0" stroke-linecap="round"/>
<line x1="529.30" y1="82.70" x2="530.56" y2="82.76" stroke="#22c83a" stroke-width="1.0" stroke-linecap="round"/>
<line x1="530.56" y1="82.76" x2="531.55" y2="82.89" stroke="#22c83a" stroke-width="1.0" stroke-linecap="round"/>
<line x1="531.55" y1="82.89" x2="532.51" y2="83.54" stroke="#22c83a" stroke-width="1.0" stroke-linecap="round"/>
<line x1="532.51" y1="83.54" x2="533.16" y2="84.04" stroke="#3a48e0" stroke-width="1.0" stroke-linecap="round"/>
<line x1="533.90" y1="84.30" x2="533.29" y2="83.37" stroke="#22c83a" stroke-width="1.0" stroke-linecap="round"/>
<line x1="533.29" y1="83.37" x2="532.33" y2="83.52" stroke="#22c83a" stroke-width="1.0" stroke-linecap="round"/>
<line x1="532.33" y1="83.52" x2="531.13" y2="83.78" stroke="#22c83a" stroke-width="1.0" stroke-linecap="round"/>
<line x1="531.13" y1="83.78" x2="530.39" y2="84.05" stroke="#22c83a" stroke-width="1.0" stroke-linecap="round"/>
<line x1="537.70" y1="86.60" x2="538.84" y2="86.05" stroke="#e8202c" stroke-width="1.0" stroke-linecap="round"/>
<line x1="538.84" y1="86.05" x2="539.83" y2="86.72" stroke="#e8202c" stroke-width="1.0" stroke-linecap="round"/>
<line x1="539.83" y1="86.72" x2="540.64" y2="86.19" stroke="#e8202c" stroke-width="1.0" stroke-linecap="round"/>
<line x1="539.20" y1="90.40" x2="537.94" y2="90.26" stroke="#e8202c" stroke-width="1.0" stroke-linecap="round"/>
<line x1="537.94" y1="90.26" x2="536.73" y2="90.02" stroke="#e8202c" stroke-width="1.0" stroke-linecap="round"/>
<line x1="536.73" y1="90.02" x2="535.59" y2="90.65" stroke="#e8202c" stroke-width="1.0" stroke-linecap="round"/>
<line x1="543.10" y1="82.70" x2="543.51" y2="81.69" stroke="#e8202c" stroke-width="1.0" stroke-linecap="round"/>
<line x1="543.51" y1="81.69" x2="543.54" y2="80.56" stroke="#e8202c" stroke-width="1.0" stroke-linecap="round"/>
<line x1="545.40" y1="91.10" x2="546.14" y2="92.14" stroke="#22c83a" stroke-width="1.0" stroke-linecap="round"/>
<line x1="546.14" y1="92.14" x2="546.15" y2="93.43" stroke="#22c83a" stroke-width="1.0" stroke-linecap="round"/>
<line x1="550.00" y1="90.40" x2="550.15" y2="91.36" stroke="#22c83a" stroke-width="1.0" stroke-linecap="round"/>
<line x1="550.15" y1="91.36" x2="549.35" y2="91.85" stroke="#22c83a" stroke-width="1.0" stroke-linecap="round"/>
<line x1="549.35" y1="91.85" x2="549.12" y2="92.95" stroke="#e8202c" stroke-width="1.0" stroke-linecap="round"/>
<line x1="554.50" y1="90.40" x2="553.56" y2="90.05" stroke="#22c83a" stroke-width="1.0" stroke-linecap="round"/>
<line x1="553.56" y1="90.05" x2="552.53" y2="89.99" stroke="#22c83a" stroke-width="1.0" stroke-linecap="round"/>
<line x1="564.50" y1="81.20" x2="563.71" y2="81.09" stroke="#e8202c" stroke-width="1.0" stroke-linecap="round"/>
<line x1="563.71" y1="81.09" x2="563.05" y2="80.23" stroke="#e8202c" stroke-width="1.0" stroke-linecap="round"/>
<line x1="571.40" y1="78.90" x2="572.25" y2="78.43" stroke="#e8202c" stroke-width="1.0" stroke-linecap="round"/>
<line x1="572.25" y1="78.43" x2="572.82" y2="77.89" stroke="#e8202c" stroke-width="1.0" stroke-linecap="round"/>
<line x1="572.82" y1="77.89" x2="573.83" y2="77.50" stroke="#e8202c" stroke-width="1.0" stroke-linecap="round"/>
<line x1="566.80" y1="90.40" x2="566.31" y2="91.50" stroke="#22c83a" stroke-width="1.0" stroke-linecap="round"/>
<line x1="566.31" y1="91.50" x2="566.01" y2="92.25" stroke="#22c83a" stroke-width="1.0" stroke-linecap="round"/>
<line x1="566.01" y1="92.25" x2="565.93" y2="93.46" stroke="#22c83a" stroke-width="1.0" stroke-linecap="round"/>
<line x1="535.40" y1="95.00" x2="534.67" y2="95.70" stroke="#3a48e0" stroke-width="1.0" stroke-linecap="round"/>
<line x1="534.67" y1="95.70" x2="533.88" y2="95.90" stroke="#3a48e0" stroke-width="1.0" stroke-linecap="round"/>
<line x1="533.88" y1="95.90" x2="533.31" y2="96.51" stroke="#e8202c" stroke-width="1.0" stroke-linecap="round"/>
<line x1="549.20" y1="96.50" x2="549.67" y2="95.37" stroke="#e8202c" stroke-width="1.0" stroke-linecap="round"/>
<line x1="567.50" y1="119.10" x2="567.08" y2="118.52" stroke="#e8202c" stroke-width="1.0" stroke-linecap="round"/>
<line x1="554.60" y1="123.70" x2="555.16" y2="124.46" stroke="#22c83a" stroke-width="1.0" stroke-linecap="round"/>
<line x1="570.60" y1="125.60" x2="570.67" y2="126.48" stroke="#9a3cc8" stroke-width="1.0" stroke-linecap="round"/>
<line x1="570.67" y1="126.48" x2="571.65" y2="126.86" stroke="#e8202c" stroke-width="1.0" stroke-linecap="round"/>
<line x1="571.65" y1="126.86" x2="571.82" y2="127.73" stroke="#e8202c" stroke-width="1.0" stroke-linecap="round"/>
<line x1="571.82" y1="127.73" x2="572.83" y2="127.94" stroke="#22c83a" stroke-width="1.0" stroke-linecap="round"/>
<line x1="572.83" y1="127.94" x2="573.57" y2="127.70" stroke="#22c83a" stroke-width="1.0" stroke-linecap="round"/>
<line x1="576.80" y1="122.50" x2="576.57" y2="121.77" stroke="#22c83a" stroke-width="1.0" stroke-linecap="round"/>
<line x1="548.90" y1="127.50" x2="548.00" y2="127.49" stroke="#9a3cc8" stroke-width="1.0" stroke-linecap="round"/>
<line x1="548.00" y1="127.49" x2="547.34" y2="127.59" stroke="#e8202c" stroke-width="1.0" stroke-linecap="round"/>
<line x1="527.60" y1="133.00" x2="526.72" y2="133.33" stroke="#e8202c" stroke-width="1.0" stroke-linecap="round"/>
<line x1="526.72" y1="133.33" x2="525.92" y2="133.72" stroke="#22c83a" stroke-width="1.0" stroke-linecap="round"/>
<line x1="555.10" y1="134.90" x2="554.36" y2="134.32" stroke="#e8202c" stroke-width="1.0" stroke-linecap="round"/>
<line x1="541.90" y1="138.00" x2="542.90" y2="137.66" stroke="#e8202c" stroke-width="1.0" stroke-linecap="round"/>
<line x1="553.50" y1="139.20" x2="553.65" y2="139.85" stroke="#22c83a" stroke-width="1.0" stroke-linecap="round"/>
<line x1="566.70" y1="138.00" x2="566.65" y2="138.75" stroke="#e8202c" stroke-width="1.0" stroke-linecap="round"/>
<line x1="529.50" y1="141.90" x2="529.13" y2="142.45" stroke="#e8202c" stroke-width="1.0" stroke-linecap="round"/>
<line x1="555.80" y1="143.00" x2="555.76" y2="142.29" stroke="#9a3cc8" stroke-width="1.0" stroke-linecap="round"/>
<line x1="555.76" y1="142.29" x2="555.78" y2="141.58" stroke="#e8202c" stroke-width="1.0" stroke-linecap="round"/>
<line x1="545.00" y1="148.10" x2="544.42" y2="147.33" stroke="#22c83a" stroke-width="1.0" stroke-linecap="round"/>
<line x1="544.42" y1="147.33" x2="544.05" y2="146.73" stroke="#22c83a" stroke-width="1.0" stroke-linecap="round"/>
<line x1="544.05" y1="146.73" x2="543.20" y2="146.37" stroke="#22c83a" stroke-width="1.0" stroke-linecap="round"/>
<line x1="543.20" y1="146.37" x2="542.57" y2="146.77" stroke="#22c83a" stroke-width="1.0" stroke-linecap="round"/>
<line x1="555.80" y1="148.10" x2="555.96" y2="147.03" stroke="#9a3cc8" stroke-width="1.0" stroke-linecap="round"/>
<line x1="565.90" y1="152.00" x2="566.45" y2="151.27" stroke="#e8202c" stroke-width="1.0" stroke-linecap="round"/>
<line x1="566.45" y1="151.27" x2="566.09" y2="150.51" stroke="#e8202c" stroke-width="1.0" stroke-linecap="round"/>
<line x1="566.09" y1="150.51" x2="566.35" y2="149.68" stroke="#e8202c" stroke-width="1.0" stroke-linecap="round"/>
<line x1="566.35" y1="149.68" x2="565.66" y2="149.03" stroke="#22c83a" stroke-width="1.0" stroke-linecap="round"/>
<line x1="536.50" y1="155.00" x2="536.56" y2="155.87" stroke="#e8202c" stroke-width="1.0" stroke-linecap="round"/>
<line x1="554.30" y1="158.50" x2="553.62" y2="158.48" stroke="#22c83a" stroke-width="1.0" stroke-linecap="round"/>
<line x1="553.62" y1="158.48" x2="553.00" y2="158.81" stroke="#e8202c" stroke-width="1.0" stroke-linecap="round"/>
<line x1="547.00" y1="162.50" x2="546.42" y2="161.96" stroke="#e8202c" stroke-width="1.0" stroke-linecap="round"/>
<line x1="535.70" y1="166.20" x2="535.15" y2="167.10" stroke="#e8202c" stroke-width="1.0" stroke-linecap="round"/>
<line x1="546.50" y1="170.90" x2="545.66" y2="170.83" stroke="#e8202c" stroke-width="1.0" stroke-linecap="round"/>
<line x1="554.60" y1="171.30" x2="553.93" y2="170.69" stroke="#e8202c" stroke-width="1.0" stroke-linecap="round"/>
<line x1="533.40" y1="175.20" x2="532.51" y2="174.90" stroke="#e8202c" stroke-width="1.0" stroke-linecap="round"/>
<line x1="559.00" y1="183.00" x2="558.35" y2="182.84" stroke="#9a3cc8" stroke-width="1.0" stroke-linecap="round"/>
<line x1="558.35" y1="182.84" x2="557.64" y2="182.66" stroke="#22c83a" stroke-width="1.0" stroke-linecap="round"/>
<line x1="557.64" y1="182.66" x2="556.98" y2="182.97" stroke="#e8202c" stroke-width="1.0" stroke-linecap="round"/>
<line x1="621.50" y1="43.71" x2="621.99" y2="42.61" stroke="#9a3cc8" stroke-width="1.3" stroke-linecap="round"/>
<line x1="622.93" y1="44.67" x2="624.10" y2="44.23" stroke="#3a48e0" stroke-width="1.3" stroke-linecap="round"/>
<line x1="621.06" y1="44.80" x2="620.25" y2="43.88" stroke="#3a48e0" stroke-width="1.3" stroke-linecap="round"/>
<line x1="621.31" y1="44.65" x2="621.23" y2="42.80" stroke="#3a48e0" stroke-width="1.3" stroke-linecap="round"/>
<line x1="622.35" y1="42.48" x2="621.62" y2="44.06" stroke="#9a3cc8" stroke-width="1.3" stroke-linecap="round"/>
<line x1="619.91" y1="41.70" x2="621.11" y2="41.54" stroke="#9a3cc8" stroke-width="1.3" stroke-linecap="round"/>
<line x1="622.97" y1="41.73" x2="621.89" y2="42.94" stroke="#9a3cc8" stroke-width="1.3" stroke-linecap="round"/>
<line x1="624.56" y1="41.78" x2="623.58" y2="43.07" stroke="#e8202c" stroke-width="1.3" stroke-linecap="round"/>
<line x1="623.95" y1="43.25" x2="624.89" y2="42.35" stroke="#e8202c" stroke-width="1.3" stroke-linecap="round"/>
<line x1="622.32" y1="40.87" x2="622.64" y2="40.03" stroke="#e8202c" stroke-width="1.3" stroke-linecap="round"/>
<line x1="623.38" y1="41.31" x2="623.95" y2="42.83" stroke="#e8202c" stroke-width="1.3" stroke-linecap="round"/>
<line x1="624.99" y1="43.66" x2="623.80" y2="42.91" stroke="#e8202c" stroke-width="1.3" stroke-linecap="round"/>
<line x1="624.43" y1="40.54" x2="623.17" y2="41.73" stroke="#e8202c" stroke-width="1.3" stroke-linecap="round"/>
<line x1="622.55" y1="43.99" x2="624.04" y2="44.13" stroke="#e8202c" stroke-width="1.3" stroke-linecap="round"/>
<line x1="628.34" y1="47.86" x2="629.37" y2="46.33" stroke="#22c83a" stroke-width="1.3" stroke-linecap="round"/>
<line x1="628.38" y1="45.92" x2="627.70" y2="44.17" stroke="#22c83a" stroke-width="1.3" stroke-linecap="round"/>
<line x1="626.78" y1="45.61" x2="625.59" y2="45.56" stroke="#22c83a" stroke-width="1.3" stroke-linecap="round"/>
<line x1="626.33" y1="47.30" x2="625.52" y2="49.07" stroke="#22c83a" stroke-width="1.3" stroke-linecap="round"/>
<line x1="624.63" y1="44.43" x2="624.26" y2="42.89" stroke="#22c83a" stroke-width="1.3" stroke-linecap="round"/>
<line x1="629.45" y1="44.36" x2="629.24" y2="43.09" stroke="#22c83a" stroke-width="1.3" stroke-linecap="round"/>
<line x1="626.60" y1="47.55" x2="628.26" y2="46.71" stroke="#22c83a" stroke-width="1.3" stroke-linecap="round"/>
<line x1="656.48" y1="29.13" x2="656.27" y2="27.99" stroke="#22c83a" stroke-width="1.3" stroke-linecap="round"/>
<line x1="656.29" y1="30.24" x2="657.20" y2="30.72" stroke="#22c83a" stroke-width="1.3" stroke-linecap="round"/>
<line x1="654.20" y1="29.04" x2="655.71" y2="29.69" stroke="#22c83a" stroke-width="1.3" stroke-linecap="round"/>
<line x1="655.51" y1="30.98" x2="655.12" y2="30.16" stroke="#22c83a" stroke-width="1.3" stroke-linecap="round"/>
<line x1="654.95" y1="30.58" x2="655.36" y2="29.61" stroke="#22c83a" stroke-width="1.3" stroke-linecap="round"/>
<line x1="656.23" y1="28.94" x2="656.61" y2="30.40" stroke="#22c83a" stroke-width="1.3" stroke-linecap="round"/>
<line x1="654.67" y1="26.44" x2="655.80" y2="25.54" stroke="#22c83a" stroke-width="1.3" stroke-linecap="round"/>
<line x1="661.81" y1="29.91" x2="662.28" y2="29.12" stroke="#e8202c" stroke-width="1.3" stroke-linecap="round"/>
<line x1="658.99" y1="26.89" x2="658.28" y2="28.19" stroke="#e8202c" stroke-width="1.3" stroke-linecap="round"/>
<line x1="656.59" y1="27.51" x2="656.60" y2="26.32" stroke="#e8202c" stroke-width="1.3" stroke-linecap="round"/>
<line x1="659.17" y1="30.45" x2="659.11" y2="31.54" stroke="#e8202c" stroke-width="1.3" stroke-linecap="round"/>
<line x1="656.82" y1="28.13" x2="655.60" y2="28.41" stroke="#e8202c" stroke-width="1.3" stroke-linecap="round"/>
<line x1="656.04" y1="25.15" x2="656.70" y2="26.04" stroke="#e8202c" stroke-width="1.3" stroke-linecap="round"/>
<line x1="657.42" y1="28.99" x2="658.00" y2="27.67" stroke="#e8202c" stroke-width="1.3" stroke-linecap="round"/>
<line x1="662.72" y1="26.81" x2="662.51" y2="28.53" stroke="#9a3cc8" stroke-width="1.3" stroke-linecap="round"/>
<line x1="661.48" y1="26.90" x2="660.90" y2="27.75" stroke="#9a3cc8" stroke-width="1.3" stroke-linecap="round"/>
<line x1="662.94" y1="26.80" x2="662.06" y2="28.37" stroke="#9a3cc8" stroke-width="1.3" stroke-linecap="round"/>
<line x1="663.56" y1="25.53" x2="664.30" y2="26.31" stroke="#9a3cc8" stroke-width="1.3" stroke-linecap="round"/>
<line x1="662.85" y1="25.88" x2="663.67" y2="24.69" stroke="#9a3cc8" stroke-width="1.3" stroke-linecap="round"/>
<line x1="663.62" y1="26.18" x2="664.67" y2="24.87" stroke="#9a3cc8" stroke-width="1.3" stroke-linecap="round"/>
<line x1="663.19" y1="26.58" x2="662.38" y2="25.76" stroke="#9a3cc8" stroke-width="1.3" stroke-linecap="round"/>
<line x1="638.00" y1="86.28" x2="637.19" y2="86.87" stroke="#22c83a" stroke-width="1.3" stroke-linecap="round"/>
<line x1="636.40" y1="85.37" x2="637.45" y2="85.60" stroke="#22c83a" stroke-width="1.3" stroke-linecap="round"/>
<line x1="636.82" y1="88.15" x2="637.35" y2="87.24" stroke="#22c83a" stroke-width="1.3" stroke-linecap="round"/>
<line x1="636.24" y1="85.04" x2="634.37" y2="84.78" stroke="#22c83a" stroke-width="1.3" stroke-linecap="round"/>
<line x1="637.99" y1="86.09" x2="639.25" y2="86.94" stroke="#22c83a" stroke-width="1.3" stroke-linecap="round"/>
<line x1="633.77" y1="89.76" x2="634.27" y2="87.83" stroke="#9a3cc8" stroke-width="1.3" stroke-linecap="round"/>
<line x1="633.42" y1="90.56" x2="634.27" y2="92.35" stroke="#9a3cc8" stroke-width="1.3" stroke-linecap="round"/>
<line x1="633.57" y1="89.37" x2="634.57" y2="88.79" stroke="#9a3cc8" stroke-width="1.3" stroke-linecap="round"/>
<line x1="633.03" y1="88.51" x2="631.07" y2="88.71" stroke="#3a48e0" stroke-width="1.3" stroke-linecap="round"/>
<line x1="634.86" y1="90.63" x2="635.23" y2="89.58" stroke="#9a3cc8" stroke-width="1.3" stroke-linecap="round"/>
<line x1="633.58" y1="97.73" x2="633.56" y2="99.11" stroke="#e8202c" stroke-width="1.3" stroke-linecap="round"/>
<line x1="634.20" y1="91.83" x2="635.43" y2="92.08" stroke="#e8202c" stroke-width="1.3" stroke-linecap="round"/>
<line x1="634.76" y1="97.91" x2="634.73" y2="95.94" stroke="#e8202c" stroke-width="1.3" stroke-linecap="round"/>
<line x1="635.14" y1="92.84" x2="636.85" y2="93.15" stroke="#e8202c" stroke-width="1.3" stroke-linecap="round"/>
<line x1="635.08" y1="97.30" x2="636.73" y2="97.63" stroke="#e8202c" stroke-width="1.3" stroke-linecap="round"/>
<line x1="653.65" y1="112.31" x2="653.21" y2="113.23" stroke="#22c83a" stroke-width="1.3" stroke-linecap="round"/>
<line x1="653.60" y1="111.73" x2="655.11" y2="111.35" stroke="#22c83a" stroke-width="1.3" stroke-linecap="round"/>
<line x1="653.48" y1="112.85" x2="653.36" y2="114.83" stroke="#22c83a" stroke-width="1.3" stroke-linecap="round"/>
<line x1="652.65" y1="112.63" x2="652.41" y2="111.33" stroke="#22c83a" stroke-width="1.3" stroke-linecap="round"/>
<line x1="654.93" y1="113.33" x2="655.72" y2="114.93" stroke="#3a48e0" stroke-width="1.3" stroke-linecap="round"/>
<line x1="654.20" y1="114.88" x2="653.83" y2="116.46" stroke="#3a48e0" stroke-width="1.3" stroke-linecap="round"/>
<line x1="654.12" y1="114.48" x2="655.50" y2="115.06" stroke="#3a48e0" stroke-width="1.3" stroke-linecap="round"/>
<line x1="653.87" y1="113.38" x2="652.83" y2="113.41" stroke="#3a48e0" stroke-width="1.3" stroke-linecap="round"/>
<line x1="653.91" y1="116.19" x2="653.65" y2="117.24" stroke="#e8202c" stroke-width="1.3" stroke-linecap="round"/>
<line x1="655.19" y1="115.71" x2="656.32" y2="116.82" stroke="#e8202c" stroke-width="1.3" stroke-linecap="round"/>
<line x1="653.90" y1="115.92" x2="653.62" y2="117.47" stroke="#e8202c" stroke-width="1.3" stroke-linecap="round"/>
<line x1="655.39" y1="115.21" x2="656.40" y2="114.82" stroke="#e8202c" stroke-width="1.3" stroke-linecap="round"/>
<line x1="618.17" y1="134.19" x2="619.24" y2="134.39" stroke="#e8202c" stroke-width="1.1" stroke-linecap="round"/>
<line x1="618.82" y1="135.12" x2="617.72" y2="133.94" stroke="#e8202c" stroke-width="1.1" stroke-linecap="round"/>
<line x1="616.93" y1="176.86" x2="618.39" y2="176.25" stroke="#e8202c" stroke-width="1.4" stroke-linecap="round"/>
<line x1="616.26" y1="177.01" x2="615.06" y2="178.36" stroke="#e8202c" stroke-width="1.4" stroke-linecap="round"/>
<line x1="617.29" y1="177.28" x2="616.78" y2="175.92" stroke="#e8202c" stroke-width="1.4" stroke-linecap="round"/>
<line x1="617.44" y1="177.80" x2="618.28" y2="176.31" stroke="#3a48e0" stroke-width="1.4" stroke-linecap="round"/>
<line x1="615.52" y1="177.35" x2="616.66" y2="178.32" stroke="#3a48e0" stroke-width="1.4" stroke-linecap="round"/>
<line x1="617.43" y1="177.33" x2="618.35" y2="178.01" stroke="#9a3cc8" stroke-width="1.4" stroke-linecap="round"/>
<line x1="617.02" y1="179.99" x2="616.52" y2="178.79" stroke="#22c83a" stroke-width="1.4" stroke-linecap="round"/>
<line x1="616.18" y1="180.01" x2="617.83" y2="180.71" stroke="#22c83a" stroke-width="1.4" stroke-linecap="round"/>
<line x1="616.81" y1="179.39" x2="616.89" y2="181.38" stroke="#22c83a" stroke-width="1.4" stroke-linecap="round"/>
<line x1="656.62" y1="179.07" x2="656.22" y2="177.31" stroke="#e8202c" stroke-width="1.2" stroke-linecap="round"/>
<line x1="656.05" y1="178.60" x2="655.06" y2="180.15" stroke="#e8202c" stroke-width="1.2" stroke-linecap="round"/>
<line x1="657.33" y1="177.95" x2="658.29" y2="178.78" stroke="#e8202c" stroke-width="1.2" stroke-linecap="round"/>
<line x1="656.70" y1="181.46" x2="656.28" y2="182.56" stroke="#3a48e0" stroke-width="1.2" stroke-linecap="round"/>
<line x1="657.64" y1="180.50" x2="657.74" y2="179.12" stroke="#22c83a" stroke-width="1.2" stroke-linecap="round"/>
<line x1="658.07" y1="180.73" x2="659.24" y2="181.37" stroke="#22c83a" stroke-width="1.2" stroke-linecap="round"/>
<line x1="644.60" y1="55.40" x2="638.68" y2="51.74" stroke="#858585" stroke-width="1.7" />
<path d="M635.70,49.90 L640.10,50.39 L638.10,53.62 Z" fill="#858585" stroke="none" stroke-width="1" />
<line x1="660.80" y1="46.90" x2="660.80" y2="39.80" stroke="#858585" stroke-width="1.7" />
<path d="M660.80,36.30 L662.70,40.30 L658.90,40.30 Z" fill="#858585" stroke="none" stroke-width="1" />
<line x1="654.60" y1="85.20" x2="648.21" y2="88.00" stroke="#858585" stroke-width="1.7" />
<path d="M645.00,89.40 L647.90,86.06 L649.43,89.54 Z" fill="#858585" stroke="none" stroke-width="1" />
<line x1="654.90" y1="133.60" x2="654.90" y2="126.40" stroke="#858585" stroke-width="1.7" />
<path d="M654.90,122.90 L656.80,126.90 L653.00,126.90 Z" fill="#858585" stroke="none" stroke-width="1" />
<line x1="653.80" y1="163.90" x2="655.85" y2="170.46" stroke="#858585" stroke-width="1.7" />
<path d="M656.90,173.80 L653.89,170.55 L657.52,169.42 Z" fill="#858585" stroke="none" stroke-width="1" />
<line x1="634.80" y1="173.50" x2="628.07" y2="175.36" stroke="#858585" stroke-width="1.7" />
<path d="M624.70,176.30 L628.05,173.40 L629.06,177.06 Z" fill="#858585" stroke="none" stroke-width="1" />
<text id="t1_1" x="558.90" y="43.80" font-size="12" text-anchor="middle" fill="#000" > </text>
<path d="M590,0 L590,1130 L230,905 L230,1075 L620,1409 L770,1409 L770,0 Z" transform="translate(555.556,43.800) scale(0.00586,-0.00586)" fill="#000" stroke="#000" stroke-width="42.7"/>
<text x="618.70" y="61.10" font-size="12.3" text-anchor="middle" fill="#000" >2</text>
<text x="614.00" y="171.70" font-size="12.3" text-anchor="middle" fill="#000" >3</text>
<polygon points="72.25,328.80 72.25,316.75 86.70,312.46 101.15,290.11 115.60,271.12 130.05,275.27 144.50,281.01 158.95,292.35 173.40,310.49 187.85,306.20 202.30,313.12 216.75,309.17 231.20,310.81 245.65,315.43 260.10,314.11 274.55,316.09 289.00,316.09 303.45,315.43 303.45,328.80" fill="#dfe3f2"/>
<polygon points="72.25,328.80 72.25,322.35 86.70,322.02 101.15,313.85 115.60,311.34 130.05,315.36 144.50,316.29 158.95,316.29 173.40,322.95 187.85,322.35 202.30,323.01 216.75,321.70 231.20,324.66 245.65,322.35 260.10,324.66 274.55,318.73 289.00,318.73 303.45,324.33 303.45,328.80" fill="#c0cdf7"/>
<line x1="86.50" y1="219.60" x2="86.50" y2="328.80" stroke="#000" stroke-width="1.4" stroke-dasharray="1.3 1.43"/>
<line x1="159.80" y1="219.60" x2="159.80" y2="328.80" stroke="#000" stroke-width="1.4" stroke-dasharray="1.3 1.43"/>
<polyline points="72.25,316.75 86.70,312.46 101.15,290.11 115.60,271.12 130.05,275.27 144.50,281.01 158.95,292.35 173.40,310.49 187.85,306.20 202.30,313.12 216.75,309.17 231.20,310.81 245.65,315.43 260.10,314.11 274.55,316.09 289.00,316.09 303.45,315.43" fill="none" stroke="#8fa3d6" stroke-width="1.5" stroke-linejoin="round"/>
<line x1="72.25" y1="316.75" x2="72.25" y2="311.94" stroke="#8fa3d6" stroke-width="1.3" />
<line x1="69.25" y1="311.94" x2="75.25" y2="311.94" stroke="#8fa3d6" stroke-width="1.3" />
<circle cx="72.25" cy="316.75" r="2.40" fill="#8fa3d6" stroke="none" stroke-width="1" />
<line x1="86.70" y1="312.46" x2="86.70" y2="309.50" stroke="#8fa3d6" stroke-width="1.3" />
<line x1="83.70" y1="309.50" x2="89.70" y2="309.50" stroke="#8fa3d6" stroke-width="1.3" />
<circle cx="86.70" cy="312.46" r="2.40" fill="#8fa3d6" stroke="none" stroke-width="1" />
<line x1="101.15" y1="290.11" x2="101.15" y2="284.44" stroke="#8fa3d6" stroke-width="1.3" />
<line x1="98.15" y1="284.44" x2="104.15" y2="284.44" stroke="#8fa3d6" stroke-width="1.3" />
<circle cx="101.15" cy="290.11" r="2.40" fill="#8fa3d6" stroke="none" stroke-width="1" />
<line x1="115.60" y1="271.12" x2="115.60" y2="266.96" stroke="#8fa3d6" stroke-width="1.3" />
<line x1="112.60" y1="266.96" x2="118.60" y2="266.96" stroke="#8fa3d6" stroke-width="1.3" />
<circle cx="115.60" cy="271.12" r="2.40" fill="#8fa3d6" stroke="none" stroke-width="1" />
<line x1="130.05" y1="275.27" x2="130.05" y2="272.64" stroke="#8fa3d6" stroke-width="1.3" />
<line x1="127.05" y1="272.64" x2="133.05" y2="272.64" stroke="#8fa3d6" stroke-width="1.3" />
<circle cx="130.05" cy="275.27" r="2.40" fill="#8fa3d6" stroke="none" stroke-width="1" />
<line x1="144.50" y1="281.01" x2="144.50" y2="279.30" stroke="#8fa3d6" stroke-width="1.3" />
<line x1="141.50" y1="279.30" x2="147.50" y2="279.30" stroke="#8fa3d6" stroke-width="1.3" />
<circle cx="144.50" cy="281.01" r="2.40" fill="#8fa3d6" stroke="none" stroke-width="1" />
<line x1="158.95" y1="292.35" x2="158.95" y2="288.59" stroke="#8fa3d6" stroke-width="1.3" />
<line x1="155.95" y1="288.59" x2="161.95" y2="288.59" stroke="#8fa3d6" stroke-width="1.3" />
<circle cx="158.95" cy="292.35" r="2.40" fill="#8fa3d6" stroke="none" stroke-width="1" />
<line x1="173.40" y1="310.49" x2="173.40" y2="298.62" stroke="#8fa3d6" stroke-width="1.3" />
<line x1="170.40" y1="298.62" x2="176.40" y2="298.62" stroke="#8fa3d6" stroke-width="1.3" />
<circle cx="173.40" cy="310.49" r="2.40" fill="#8fa3d6" stroke="none" stroke-width="1" />
<line x1="187.85" y1="306.20" x2="187.85" y2="295.65" stroke="#8fa3d6" stroke-width="1.3" />
<line x1="184.85" y1="295.65" x2="190.85" y2="295.65" stroke="#8fa3d6" stroke-width="1.3" />
<circle cx="187.85" cy="306.20" r="2.40" fill="#8fa3d6" stroke="none" stroke-width="1" />
<line x1="202.30" y1="313.12" x2="202.30" y2="309.83" stroke="#8fa3d6" stroke-width="1.3" />
<line x1="199.30" y1="309.83" x2="205.30" y2="309.83" stroke="#8fa3d6" stroke-width="1.3" />
<circle cx="202.30" cy="313.12" r="2.40" fill="#8fa3d6" stroke="none" stroke-width="1" />
<line x1="216.75" y1="309.17" x2="216.75" y2="305.54" stroke="#8fa3d6" stroke-width="1.3" />
<line x1="213.75" y1="305.54" x2="219.75" y2="305.54" stroke="#8fa3d6" stroke-width="1.3" />
<circle cx="216.75" cy="309.17" r="2.40" fill="#8fa3d6" stroke="none" stroke-width="1" />
<line x1="231.20" y1="310.81" x2="231.20" y2="308.84" stroke="#8fa3d6" stroke-width="1.3" />
<line x1="228.20" y1="308.84" x2="234.20" y2="308.84" stroke="#8fa3d6" stroke-width="1.3" />
<circle cx="231.20" cy="310.81" r="2.40" fill="#8fa3d6" stroke="none" stroke-width="1" />
<line x1="245.65" y1="315.43" x2="245.65" y2="314.11" stroke="#8fa3d6" stroke-width="1.3" />
<line x1="242.65" y1="314.11" x2="248.65" y2="314.11" stroke="#8fa3d6" stroke-width="1.3" />
<circle cx="245.65" cy="315.43" r="2.40" fill="#8fa3d6" stroke="none" stroke-width="1" />
<line x1="260.10" y1="314.11" x2="260.10" y2="309.17" stroke="#8fa3d6" stroke-width="1.3" />
<line x1="257.10" y1="309.17" x2="263.10" y2="309.17" stroke="#8fa3d6" stroke-width="1.3" />
<circle cx="260.10" cy="314.11" r="2.40" fill="#8fa3d6" stroke="none" stroke-width="1" />
<line x1="274.55" y1="316.09" x2="274.55" y2="314.11" stroke="#8fa3d6" stroke-width="1.3" />
<line x1="271.55" y1="314.11" x2="277.55" y2="314.11" stroke="#8fa3d6" stroke-width="1.3" />
<circle cx="274.55" cy="316.09" r="2.40" fill="#8fa3d6" stroke="none" stroke-width="1" />
<line x1="289.00" y1="316.09" x2="289.00" y2="314.11" stroke="#8fa3d6" stroke-width="1.3" />
<line x1="286.00" y1="314.11" x2="292.00" y2="314.11" stroke="#8fa3d6" stroke-width="1.3" />
<circle cx="289.00" cy="316.09" r="2.40" fill="#8fa3d6" stroke="none" stroke-width="1" />
<line x1="303.45" y1="315.43" x2="303.45" y2="312.79" stroke="#8fa3d6" stroke-width="1.3" />
<line x1="300.45" y1="312.79" x2="306.45" y2="312.79" stroke="#8fa3d6" stroke-width="1.3" />
<circle cx="303.45" cy="315.43" r="2.40" fill="#8fa3d6" stroke="none" stroke-width="1" />
<polyline points="72.25,322.35 86.70,322.02 101.15,313.85 115.60,311.34 130.05,315.36 144.50,316.29 158.95,316.29 173.40,322.95 187.85,322.35 202.30,323.01 216.75,321.70 231.20,324.66 245.65,322.35 260.10,324.66 274.55,318.73 289.00,318.73 303.45,324.33" fill="none" stroke="#5b86f2" stroke-width="1.5" stroke-linejoin="round"/>
<line x1="72.25" y1="322.35" x2="72.25" y2="321.04" stroke="#5b86f2" stroke-width="1.3" />
<line x1="69.25" y1="321.04" x2="75.25" y2="321.04" stroke="#5b86f2" stroke-width="1.3" />
<circle cx="72.25" cy="322.35" r="2.40" fill="#5b86f2" stroke="none" stroke-width="1" />
<line x1="86.70" y1="322.02" x2="86.70" y2="321.04" stroke="#5b86f2" stroke-width="1.3" />
<line x1="83.70" y1="321.04" x2="89.70" y2="321.04" stroke="#5b86f2" stroke-width="1.3" />
<circle cx="86.70" cy="322.02" r="2.40" fill="#5b86f2" stroke="none" stroke-width="1" />
<line x1="101.15" y1="313.85" x2="101.15" y2="312.86" stroke="#5b86f2" stroke-width="1.3" />
<line x1="98.15" y1="312.86" x2="104.15" y2="312.86" stroke="#5b86f2" stroke-width="1.3" />
<circle cx="101.15" cy="313.85" r="2.40" fill="#5b86f2" stroke="none" stroke-width="1" />
<line x1="115.60" y1="311.34" x2="115.60" y2="310.02" stroke="#5b86f2" stroke-width="1.3" />
<line x1="112.60" y1="310.02" x2="118.60" y2="310.02" stroke="#5b86f2" stroke-width="1.3" />
<circle cx="115.60" cy="311.34" r="2.40" fill="#5b86f2" stroke="none" stroke-width="1" />
<line x1="130.05" y1="315.36" x2="130.05" y2="311.54" stroke="#5b86f2" stroke-width="1.3" />
<line x1="127.05" y1="311.54" x2="133.05" y2="311.54" stroke="#5b86f2" stroke-width="1.3" />
<circle cx="130.05" cy="315.36" r="2.40" fill="#5b86f2" stroke="none" stroke-width="1" />
<line x1="144.50" y1="316.29" x2="144.50" y2="310.42" stroke="#5b86f2" stroke-width="1.3" />
<line x1="141.50" y1="310.42" x2="147.50" y2="310.42" stroke="#5b86f2" stroke-width="1.3" />
<circle cx="144.50" cy="316.29" r="2.40" fill="#5b86f2" stroke="none" stroke-width="1" />
<line x1="158.95" y1="316.29" x2="158.95" y2="314.77" stroke="#5b86f2" stroke-width="1.3" />
<line x1="155.95" y1="314.77" x2="161.95" y2="314.77" stroke="#5b86f2" stroke-width="1.3" />
<circle cx="158.95" cy="316.29" r="2.40" fill="#5b86f2" stroke="none" stroke-width="1" />
<line x1="173.40" y1="322.95" x2="173.40" y2="319.12" stroke="#5b86f2" stroke-width="1.3" />
<line x1="170.40" y1="319.12" x2="176.40" y2="319.12" stroke="#5b86f2" stroke-width="1.3" />
<circle cx="173.40" cy="322.95" r="2.40" fill="#5b86f2" stroke="none" stroke-width="1" />
<line x1="187.85" y1="322.35" x2="187.85" y2="320.05" stroke="#5b86f2" stroke-width="1.3" />
<line x1="184.85" y1="320.05" x2="190.85" y2="320.05" stroke="#5b86f2" stroke-width="1.3" />
<circle cx="187.85" cy="322.35" r="2.40" fill="#5b86f2" stroke="none" stroke-width="1" />
<line x1="202.30" y1="323.01" x2="202.30" y2="318.07" stroke="#5b86f2" stroke-width="1.3" />
<line x1="199.30" y1="318.07" x2="205.30" y2="318.07" stroke="#5b86f2" stroke-width="1.3" />
<circle cx="202.30" cy="323.01" r="2.40" fill="#5b86f2" stroke="none" stroke-width="1" />
<line x1="216.75" y1="321.70" x2="216.75" y2="320.71" stroke="#5b86f2" stroke-width="1.3" />
<line x1="213.75" y1="320.71" x2="219.75" y2="320.71" stroke="#5b86f2" stroke-width="1.3" />
<circle cx="216.75" cy="321.70" r="2.40" fill="#5b86f2" stroke="none" stroke-width="1" />
<line x1="231.20" y1="324.66" x2="231.20" y2="322.35" stroke="#5b86f2" stroke-width="1.3" />
<line x1="228.20" y1="322.35" x2="234.20" y2="322.35" stroke="#5b86f2" stroke-width="1.3" />
<circle cx="231.20" cy="324.66" r="2.40" fill="#5b86f2" stroke="none" stroke-width="1" />
<line x1="245.65" y1="322.35" x2="245.65" y2="318.73" stroke="#5b86f2" stroke-width="1.3" />
<line x1="242.65" y1="318.73" x2="248.65" y2="318.73" stroke="#5b86f2" stroke-width="1.3" />
<circle cx="245.65" cy="322.35" r="2.40" fill="#5b86f2" stroke="none" stroke-width="1" />
<line x1="260.10" y1="324.66" x2="260.10" y2="320.05" stroke="#5b86f2" stroke-width="1.3" />
<line x1="257.10" y1="320.05" x2="263.10" y2="320.05" stroke="#5b86f2" stroke-width="1.3" />
<circle cx="260.10" cy="324.66" r="2.40" fill="#5b86f2" stroke="none" stroke-width="1" />
<line x1="274.55" y1="318.73" x2="274.55" y2="315.43" stroke="#5b86f2" stroke-width="1.3" />
<line x1="271.55" y1="315.43" x2="277.55" y2="315.43" stroke="#5b86f2" stroke-width="1.3" />
<circle cx="274.55" cy="318.73" r="2.40" fill="#5b86f2" stroke="none" stroke-width="1" />
<line x1="289.00" y1="318.73" x2="289.00" y2="315.43" stroke="#5b86f2" stroke-width="1.3" />
<line x1="286.00" y1="315.43" x2="292.00" y2="315.43" stroke="#5b86f2" stroke-width="1.3" />
<circle cx="289.00" cy="318.73" r="2.40" fill="#5b86f2" stroke="none" stroke-width="1" />
<line x1="303.45" y1="324.33" x2="303.45" y2="322.35" stroke="#5b86f2" stroke-width="1.3" />
<line x1="300.45" y1="322.35" x2="306.45" y2="322.35" stroke="#5b86f2" stroke-width="1.3" />
<circle cx="303.45" cy="324.33" r="2.40" fill="#5b86f2" stroke="none" stroke-width="1" />
<line x1="65.60" y1="221.20" x2="65.60" y2="329.40" stroke="#000" stroke-width="1.2" />
<line x1="65.00" y1="328.80" x2="310.70" y2="328.80" stroke="#000" stroke-width="1.2" />
<line x1="56.30" y1="327.30" x2="65.60" y2="327.30" stroke="#000" stroke-width="1.2" />
<line x1="60.60" y1="314.11" x2="65.60" y2="314.11" stroke="#000" stroke-width="1.2" />
<line x1="56.30" y1="300.92" x2="65.60" y2="300.92" stroke="#000" stroke-width="1.2" />
<line x1="60.60" y1="287.74" x2="65.60" y2="287.74" stroke="#000" stroke-width="1.2" />
<line x1="56.30" y1="274.55" x2="65.60" y2="274.55" stroke="#000" stroke-width="1.2" />
<line x1="60.60" y1="261.36" x2="65.60" y2="261.36" stroke="#000" stroke-width="1.2" />
<line x1="56.30" y1="248.17" x2="65.60" y2="248.17" stroke="#000" stroke-width="1.2" />
<line x1="60.60" y1="234.98" x2="65.60" y2="234.98" stroke="#000" stroke-width="1.2" />
<line x1="56.30" y1="221.80" x2="65.60" y2="221.80" stroke="#000" stroke-width="1.2" />
<text x="51.80" y="331.60" font-size="12" text-anchor="end" fill="#000" >0</text>
<text x="51.80" y="305.22" font-size="12" text-anchor="end" fill="#000" >4</text>
<text x="51.80" y="278.85" font-size="12" text-anchor="end" fill="#000" >8</text>
<text id="t1_2" x="51.80" y="252.47" font-size="12" text-anchor="end" fill="#000" > 2</text>
<path d="M590,0 L590,1130 L230,905 L230,1075 L620,1409 L770,1409 L770,0 Z" transform="translate(38.441,252.470) scale(0.00586,-0.00586)" fill="#000" stroke="#000" stroke-width="42.7"/>
<text id="t1_3" x="51.80" y="226.10" font-size="12" text-anchor="end" fill="#000" > 6</text>
<path d="M590,0 L590,1130 L230,905 L230,1075 L620,1409 L770,1409 L770,0 Z" transform="translate(38.441,226.100) scale(0.00586,-0.00586)" fill="#000" stroke="#000" stroke-width="42.7"/>
<line x1="72.25" y1="328.80" x2="72.25" y2="333.50" stroke="#000" stroke-width="1.2" />
<text id="t1_4" x="72.25" y="348.00" font-size="12" text-anchor="middle" fill="#000" >- </text>
<path d="M590,0 L590,1130 L230,905 L230,1075 L620,1409 L770,1409 L770,0 Z" transform="translate(70.898,348.000) scale(0.00586,-0.00586)" fill="#000" stroke="#000" stroke-width="42.7"/>
<line x1="86.70" y1="328.80" x2="86.70" y2="333.50" stroke="#000" stroke-width="1.2" />
<text x="86.70" y="348.00" font-size="12" text-anchor="middle" fill="#000" >0</text>
<line x1="101.15" y1="328.80" x2="101.15" y2="333.50" stroke="#000" stroke-width="1.2" />
<text id="t1_5" x="101.15" y="348.00" font-size="12" text-anchor="middle" fill="#000" > </text>
<path d="M590,0 L590,1130 L230,905 L230,1075 L620,1409 L770,1409 L770,0 Z" transform="translate(97.806,348.000) scale(0.00586,-0.00586)" fill="#000" stroke="#000" stroke-width="42.7"/>
<line x1="115.60" y1="328.80" x2="115.60" y2="333.50" stroke="#000" stroke-width="1.2" />
<text x="115.60" y="348.00" font-size="12" text-anchor="middle" fill="#000" >2</text>
<line x1="130.05" y1="328.80" x2="130.05" y2="333.50" stroke="#000" stroke-width="1.2" />
<text x="130.05" y="348.00" font-size="12" text-anchor="middle" fill="#000" >3</text>
<line x1="144.50" y1="328.80" x2="144.50" y2="333.50" stroke="#000" stroke-width="1.2" />
<text x="144.50" y="348.00" font-size="12" text-anchor="middle" fill="#000" >4</text>
<line x1="158.95" y1="328.80" x2="158.95" y2="333.50" stroke="#000" stroke-width="1.2" />
<text x="158.95" y="348.00" font-size="12" text-anchor="middle" fill="#000" >5</text>
<line x1="173.40" y1="328.80" x2="173.40" y2="333.50" stroke="#000" stroke-width="1.2" />
<text x="173.40" y="348.00" font-size="12" text-anchor="middle" fill="#000" >6</text>
<line x1="187.85" y1="328.80" x2="187.85" y2="333.50" stroke="#000" stroke-width="1.2" />
<text x="187.85" y="348.00" font-size="12" text-anchor="middle" fill="#000" >7</text>
<line x1="202.30" y1="328.80" x2="202.30" y2="333.50" stroke="#000" stroke-width="1.2" />
<text x="202.30" y="348.00" font-size="12" text-anchor="middle" fill="#000" >8</text>
<line x1="216.75" y1="328.80" x2="216.75" y2="333.50" stroke="#000" stroke-width="1.2" />
<text x="216.75" y="348.00" font-size="12" text-anchor="middle" fill="#000" >9</text>
<line x1="231.20" y1="328.80" x2="231.20" y2="333.50" stroke="#000" stroke-width="1.2" />
<text id="t1_6" x="231.20" y="348.00" font-size="12" text-anchor="middle" fill="#000" > 0</text>
<path d="M590,0 L590,1130 L230,905 L230,1075 L620,1409 L770,1409 L770,0 Z" transform="translate(224.520,348.000) scale(0.00586,-0.00586)" fill="#000" stroke="#000" stroke-width="42.7"/>
<line x1="245.65" y1="328.80" x2="245.65" y2="333.50" stroke="#000" stroke-width="1.2" />
<text id="t1_7" x="245.65" y="348.00" font-size="12" text-anchor="middle" fill="#000" >  </text>
<path d="M590,0 L590,1130 L230,905 L230,1075 L620,1409 L770,1409 L770,0 Z" transform="translate(238.970,348.000) scale(0.00586,-0.00586)" fill="#000" stroke="#000" stroke-width="42.7"/>
<path d="M590,0 L590,1130 L230,905 L230,1075 L620,1409 L770,1409 L770,0 Z" transform="translate(245.642,348.000) scale(0.00586,-0.00586)" fill="#000" stroke="#000" stroke-width="42.7"/>
<line x1="260.10" y1="328.80" x2="260.10" y2="333.50" stroke="#000" stroke-width="1.2" />
<text id="t1_8" x="260.10" y="348.00" font-size="12" text-anchor="middle" fill="#000" > 2</text>
<path d="M590,0 L590,1130 L230,905 L230,1075 L620,1409 L770,1409 L770,0 Z" transform="translate(253.420,348.000) scale(0.00586,-0.00586)" fill="#000" stroke="#000" stroke-width="42.7"/>
<line x1="274.55" y1="328.80" x2="274.55" y2="333.50" stroke="#000" stroke-width="1.2" />
<text id="t1_9" x="274.55" y="348.00" font-size="12" text-anchor="middle" fill="#000" > 3</text>
<path d="M590,0 L590,1130 L230,905 L230,1075 L620,1409 L770,1409 L770,0 Z" transform="translate(267.870,348.000) scale(0.00586,-0.00586)" fill="#000" stroke="#000" stroke-width="42.7"/>
<line x1="289.00" y1="328.80" x2="289.00" y2="333.50" stroke="#000" stroke-width="1.2" />
<text id="t1_10" x="289.00" y="348.00" font-size="12" text-anchor="middle" fill="#000" > 4</text>
<path d="M590,0 L590,1130 L230,905 L230,1075 L620,1409 L770,1409 L770,0 Z" transform="translate(282.320,348.000) scale(0.00586,-0.00586)" fill="#000" stroke="#000" stroke-width="42.7"/>
<line x1="303.45" y1="328.80" x2="303.45" y2="333.50" stroke="#000" stroke-width="1.2" />
<text id="t1_11" x="303.45" y="348.00" font-size="12" text-anchor="middle" fill="#000" > 5</text>
<path d="M590,0 L590,1130 L230,905 L230,1075 L620,1409 L770,1409 L770,0 Z" transform="translate(296.770,348.000) scale(0.00586,-0.00586)" fill="#000" stroke="#000" stroke-width="42.7"/>
<text x="181.20" y="363.80" font-size="11.2" text-anchor="middle" fill="#000" >Time (min)</text>
<text transform="translate(22.6,275.10) rotate(-90)" font-size="11" text-anchor="middle">Number of fusion events</text>
<text transform="translate(36.4,275.10) rotate(-90)" font-size="11" text-anchor="middle">(/200μm<tspan font-size="6.5" dy="-4.2">2</tspan><tspan dy="4.2">)</tspan></text>
<line x1="92.00" y1="226.20" x2="154.80" y2="226.20" stroke="#000" stroke-width="1.3" />
<path d="M88.00,226.20 L95.30,223.80 L95.30,228.60 Z" fill="#000" stroke="none" stroke-width="1" />
<path d="M158.80,226.20 L151.50,223.80 L151.50,228.60 Z" fill="#000" stroke="none" stroke-width="1" />
<line x1="164.70" y1="226.00" x2="266.20" y2="226.00" stroke="#000" stroke-width="1.3" />
<path d="M160.70,226.00 L168.00,223.60 L168.00,228.40 Z" fill="#000" stroke="none" stroke-width="1" />
<path d="M270.20,226.00 L262.90,223.60 L262.90,228.40 Z" fill="#000" stroke="none" stroke-width="1" />
<text id="t1_12" x="125.60" y="220.20" font-size="10.8" text-anchor="middle" fill="#000" > st phase</text>
<path d="M590,0 L590,1130 L230,905 L230,1075 L620,1409 L770,1409 L770,0 Z" transform="translate(102.186,220.200) scale(0.00527,-0.00527)" fill="#000" stroke="#000" stroke-width="47.4"/>
<text x="224.00" y="220.20" font-size="10.8" text-anchor="middle" fill="#000" >2nd phase</text>
<rect x="186.20" y="241.10" width="14.60" height="7.60" fill="#c8d2ea" stroke="none" stroke-width="1" />
<rect x="186.20" y="254.90" width="14.60" height="7.60" fill="#9fb4fa" stroke="none" stroke-width="1" />
<text x="204.60" y="248.40" font-size="11" text-anchor="start" fill="#000" >newcomer</text>
<text x="204.60" y="262.10" font-size="11" text-anchor="start" fill="#000" >predocked</text>
<text x="279.00" y="293.60" font-size="11" text-anchor="middle" fill="#000" >Control</text>
<polygon points="72.25,499.00 72.25,488.47 86.70,481.81 101.15,447.39 115.60,421.87 130.05,415.07 144.50,423.25 158.95,427.60 173.40,455.17 187.85,464.53 202.30,472.44 216.75,480.49 231.20,474.09 245.65,484.64 260.10,483.06 274.55,487.87 289.00,487.87 303.45,490.11 303.45,499.00" fill="#fde4dc"/>
<polygon points="72.25,499.00 72.25,490.05 86.70,490.44 101.15,465.85 115.60,452.66 130.05,464.07 144.50,461.23 158.95,465.85 173.40,476.66 187.85,477.26 202.30,486.29 216.75,485.30 231.20,489.46 245.65,485.30 260.10,494.27 274.55,491.70 289.00,495.85 303.45,493.28 303.45,499.00" fill="#fdd0d0"/>
<line x1="86.50" y1="389.80" x2="86.50" y2="499.00" stroke="#000" stroke-width="1.4" stroke-dasharray="1.3 1.43"/>
<line x1="159.80" y1="389.80" x2="159.80" y2="499.00" stroke="#000" stroke-width="1.4" stroke-dasharray="1.3 1.43"/>
<polyline points="72.25,488.47 86.70,481.81 101.15,447.39 115.60,421.87 130.05,415.07 144.50,423.25 158.95,427.60 173.40,455.17 187.85,464.53 202.30,472.44 216.75,480.49 231.20,474.09 245.65,484.64 260.10,483.06 274.55,487.87 289.00,487.87 303.45,490.11" fill="none" stroke="#f29a70" stroke-width="1.5" stroke-linejoin="round"/>
<line x1="72.25" y1="488.47" x2="72.25" y2="486.09" stroke="#f29a70" stroke-width="1.3" />
<line x1="69.25" y1="486.09" x2="75.25" y2="486.09" stroke="#f29a70" stroke-width="1.3" />
<circle cx="72.25" cy="488.47" r="2.40" fill="#f29a70" stroke="none" stroke-width="1" />
<line x1="86.70" y1="481.81" x2="86.70" y2="478.84" stroke="#f29a70" stroke-width="1.3" />
<line x1="83.70" y1="478.84" x2="89.70" y2="478.84" stroke="#f29a70" stroke-width="1.3" />
<circle cx="86.70" cy="481.81" r="2.40" fill="#f29a70" stroke="none" stroke-width="1" />
<line x1="101.15" y1="447.39" x2="101.15" y2="442.31" stroke="#f29a70" stroke-width="1.3" />
<line x1="98.15" y1="442.31" x2="104.15" y2="442.31" stroke="#f29a70" stroke-width="1.3" />
<circle cx="101.15" cy="447.39" r="2.40" fill="#f29a70" stroke="none" stroke-width="1" />
<line x1="115.60" y1="421.87" x2="115.60" y2="413.43" stroke="#f29a70" stroke-width="1.3" />
<line x1="112.60" y1="413.43" x2="118.60" y2="413.43" stroke="#f29a70" stroke-width="1.3" />
<circle cx="115.60" cy="421.87" r="2.40" fill="#f29a70" stroke="none" stroke-width="1" />
<line x1="130.05" y1="415.07" x2="130.05" y2="411.78" stroke="#f29a70" stroke-width="1.3" />
<line x1="127.05" y1="411.78" x2="133.05" y2="411.78" stroke="#f29a70" stroke-width="1.3" />
<circle cx="130.05" cy="415.07" r="2.40" fill="#f29a70" stroke="none" stroke-width="1" />
<line x1="144.50" y1="423.25" x2="144.50" y2="417.32" stroke="#f29a70" stroke-width="1.3" />
<line x1="141.50" y1="417.32" x2="147.50" y2="417.32" stroke="#f29a70" stroke-width="1.3" />
<circle cx="144.50" cy="423.25" r="2.40" fill="#f29a70" stroke="none" stroke-width="1" />
<line x1="158.95" y1="427.60" x2="158.95" y2="422.99" stroke="#f29a70" stroke-width="1.3" />
<line x1="155.95" y1="422.99" x2="161.95" y2="422.99" stroke="#f29a70" stroke-width="1.3" />
<circle cx="158.95" cy="427.60" r="2.40" fill="#f29a70" stroke="none" stroke-width="1" />
<line x1="173.40" y1="455.17" x2="173.40" y2="448.44" stroke="#f29a70" stroke-width="1.3" />
<line x1="170.40" y1="448.44" x2="176.40" y2="448.44" stroke="#f29a70" stroke-width="1.3" />
<circle cx="173.40" cy="455.17" r="2.40" fill="#f29a70" stroke="none" stroke-width="1" />
<line x1="187.85" y1="464.53" x2="187.85" y2="462.22" stroke="#f29a70" stroke-width="1.3" />
<line x1="184.85" y1="462.22" x2="190.85" y2="462.22" stroke="#f29a70" stroke-width="1.3" />
<circle cx="187.85" cy="464.53" r="2.40" fill="#f29a70" stroke="none" stroke-width="1" />
<line x1="202.30" y1="472.44" x2="202.30" y2="467.70" stroke="#f29a70" stroke-width="1.3" />
<line x1="199.30" y1="467.70" x2="205.30" y2="467.70" stroke="#f29a70" stroke-width="1.3" />
<circle cx="202.30" cy="472.44" r="2.40" fill="#f29a70" stroke="none" stroke-width="1" />
<line x1="216.75" y1="480.49" x2="216.75" y2="475.08" stroke="#f29a70" stroke-width="1.3" />
<line x1="213.75" y1="475.08" x2="219.75" y2="475.08" stroke="#f29a70" stroke-width="1.3" />
<circle cx="216.75" cy="480.49" r="2.40" fill="#f29a70" stroke="none" stroke-width="1" />
<line x1="231.20" y1="474.09" x2="231.20" y2="466.38" stroke="#f29a70" stroke-width="1.3" />
<line x1="228.20" y1="466.38" x2="234.20" y2="466.38" stroke="#f29a70" stroke-width="1.3" />
<circle cx="231.20" cy="474.09" r="2.40" fill="#f29a70" stroke="none" stroke-width="1" />
<line x1="245.65" y1="484.64" x2="245.65" y2="476.00" stroke="#f29a70" stroke-width="1.3" />
<line x1="242.65" y1="476.00" x2="248.65" y2="476.00" stroke="#f29a70" stroke-width="1.3" />
<circle cx="245.65" cy="484.64" r="2.40" fill="#f29a70" stroke="none" stroke-width="1" />
<line x1="260.10" y1="483.06" x2="260.10" y2="478.25" stroke="#f29a70" stroke-width="1.3" />
<line x1="257.10" y1="478.25" x2="263.10" y2="478.25" stroke="#f29a70" stroke-width="1.3" />
<circle cx="260.10" cy="483.06" r="2.40" fill="#f29a70" stroke="none" stroke-width="1" />
<line x1="274.55" y1="487.87" x2="274.55" y2="486.95" stroke="#f29a70" stroke-width="1.3" />
<line x1="271.55" y1="486.95" x2="277.55" y2="486.95" stroke="#f29a70" stroke-width="1.3" />
<circle cx="274.55" cy="487.87" r="2.40" fill="#f29a70" stroke="none" stroke-width="1" />
<line x1="289.00" y1="487.87" x2="289.00" y2="484.64" stroke="#f29a70" stroke-width="1.3" />
<line x1="286.00" y1="484.64" x2="292.00" y2="484.64" stroke="#f29a70" stroke-width="1.3" />
<circle cx="289.00" cy="487.87" r="2.40" fill="#f29a70" stroke="none" stroke-width="1" />
<line x1="303.45" y1="490.11" x2="303.45" y2="487.87" stroke="#f29a70" stroke-width="1.3" />
<line x1="300.45" y1="487.87" x2="306.45" y2="487.87" stroke="#f29a70" stroke-width="1.3" />
<circle cx="303.45" cy="490.11" r="2.40" fill="#f29a70" stroke="none" stroke-width="1" />
<polyline points="72.25,490.05 86.70,490.44 101.15,465.85 115.60,452.66 130.05,464.07 144.50,461.23 158.95,465.85 173.40,476.66 187.85,477.26 202.30,486.29 216.75,485.30 231.20,489.46 245.65,485.30 260.10,494.27 274.55,491.70 289.00,495.85 303.45,493.28" fill="none" stroke="#f77b7b" stroke-width="1.5" stroke-linejoin="round"/>
<line x1="72.25" y1="490.05" x2="72.25" y2="488.27" stroke="#f77b7b" stroke-width="1.3" />
<line x1="69.25" y1="488.27" x2="75.25" y2="488.27" stroke="#f77b7b" stroke-width="1.3" />
<circle cx="72.25" cy="490.05" r="2.40" fill="#f77b7b" stroke="none" stroke-width="1" />
<circle cx="86.70" cy="490.44" r="2.40" fill="#f77b7b" stroke="none" stroke-width="1" />
<line x1="101.15" y1="465.85" x2="101.15" y2="462.95" stroke="#f77b7b" stroke-width="1.3" />
<line x1="98.15" y1="462.95" x2="104.15" y2="462.95" stroke="#f77b7b" stroke-width="1.3" />
<circle cx="101.15" cy="465.85" r="2.40" fill="#f77b7b" stroke="none" stroke-width="1" />
<line x1="115.60" y1="452.66" x2="115.60" y2="448.70" stroke="#f77b7b" stroke-width="1.3" />
<line x1="112.60" y1="448.70" x2="118.60" y2="448.70" stroke="#f77b7b" stroke-width="1.3" />
<circle cx="115.60" cy="452.66" r="2.40" fill="#f77b7b" stroke="none" stroke-width="1" />
<circle cx="130.05" cy="464.07" r="2.40" fill="#f77b7b" stroke="none" stroke-width="1" />
<line x1="144.50" y1="461.23" x2="144.50" y2="458.20" stroke="#f77b7b" stroke-width="1.3" />
<line x1="141.50" y1="458.20" x2="147.50" y2="458.20" stroke="#f77b7b" stroke-width="1.3" />
<circle cx="144.50" cy="461.23" r="2.40" fill="#f77b7b" stroke="none" stroke-width="1" />
<line x1="158.95" y1="465.85" x2="158.95" y2="463.54" stroke="#f77b7b" stroke-width="1.3" />
<line x1="155.95" y1="463.54" x2="161.95" y2="463.54" stroke="#f77b7b" stroke-width="1.3" />
<circle cx="158.95" cy="465.85" r="2.40" fill="#f77b7b" stroke="none" stroke-width="1" />
<circle cx="173.40" cy="476.66" r="2.40" fill="#f77b7b" stroke="none" stroke-width="1" />
<line x1="187.85" y1="477.26" x2="187.85" y2="474.42" stroke="#f77b7b" stroke-width="1.3" />
<line x1="184.85" y1="474.42" x2="190.85" y2="474.42" stroke="#f77b7b" stroke-width="1.3" />
<circle cx="187.85" cy="477.26" r="2.40" fill="#f77b7b" stroke="none" stroke-width="1" />
<line x1="202.30" y1="486.29" x2="202.30" y2="483.06" stroke="#f77b7b" stroke-width="1.3" />
<line x1="199.30" y1="483.06" x2="205.30" y2="483.06" stroke="#f77b7b" stroke-width="1.3" />
<circle cx="202.30" cy="486.29" r="2.40" fill="#f77b7b" stroke="none" stroke-width="1" />
<line x1="216.75" y1="485.30" x2="216.75" y2="481.48" stroke="#f77b7b" stroke-width="1.3" />
<line x1="213.75" y1="481.48" x2="219.75" y2="481.48" stroke="#f77b7b" stroke-width="1.3" />
<circle cx="216.75" cy="485.30" r="2.40" fill="#f77b7b" stroke="none" stroke-width="1" />
<circle cx="231.20" cy="489.46" r="2.40" fill="#f77b7b" stroke="none" stroke-width="1" />
<line x1="245.65" y1="485.30" x2="245.65" y2="480.49" stroke="#f77b7b" stroke-width="1.3" />
<line x1="242.65" y1="480.49" x2="248.65" y2="480.49" stroke="#f77b7b" stroke-width="1.3" />
<circle cx="245.65" cy="485.30" r="2.40" fill="#f77b7b" stroke="none" stroke-width="1" />
<line x1="260.10" y1="494.27" x2="260.10" y2="491.04" stroke="#f77b7b" stroke-width="1.3" />
<line x1="257.10" y1="491.04" x2="263.10" y2="491.04" stroke="#f77b7b" stroke-width="1.3" />
<circle cx="260.10" cy="494.27" r="2.40" fill="#f77b7b" stroke="none" stroke-width="1" />
<line x1="274.55" y1="491.70" x2="274.55" y2="487.87" stroke="#f77b7b" stroke-width="1.3" />
<line x1="271.55" y1="487.87" x2="277.55" y2="487.87" stroke="#f77b7b" stroke-width="1.3" />
<circle cx="274.55" cy="491.70" r="2.40" fill="#f77b7b" stroke="none" stroke-width="1" />
<line x1="289.00" y1="495.85" x2="289.00" y2="492.69" stroke="#f77b7b" stroke-width="1.3" />
<line x1="286.00" y1="492.69" x2="292.00" y2="492.69" stroke="#f77b7b" stroke-width="1.3" />
<circle cx="289.00" cy="495.85" r="2.40" fill="#f77b7b" stroke="none" stroke-width="1" />
<line x1="303.45" y1="493.28" x2="303.45" y2="489.46" stroke="#f77b7b" stroke-width="1.3" />
<line x1="300.45" y1="489.46" x2="306.45" y2="489.46" stroke="#f77b7b" stroke-width="1.3" />
<circle cx="303.45" cy="493.28" r="2.40" fill="#f77b7b" stroke="none" stroke-width="1" />
<line x1="65.60" y1="391.40" x2="65.60" y2="499.60" stroke="#000" stroke-width="1.2" />
<line x1="65.00" y1="499.00" x2="310.70" y2="499.00" stroke="#000" stroke-width="1.2" />
<line x1="56.30" y1="497.50" x2="65.60" y2="497.50" stroke="#000" stroke-width="1.2" />
<line x1="60.60" y1="484.31" x2="65.60" y2="484.31" stroke="#000" stroke-width="1.2" />
<line x1="56.30" y1="471.12" x2="65.60" y2="471.12" stroke="#000" stroke-width="1.2" />
<line x1="60.60" y1="457.94" x2="65.60" y2="457.94" stroke="#000" stroke-width="1.2" />
<line x1="56.30" y1="444.75" x2="65.60" y2="444.75" stroke="#000" stroke-width="1.2" />
<line x1="60.60" y1="431.56" x2="65.60" y2="431.56" stroke="#000" stroke-width="1.2" />
<line x1="56.30" y1="418.37" x2="65.60" y2="418.37" stroke="#000" stroke-width="1.2" />
<line x1="60.60" y1="405.18" x2="65.60" y2="405.18" stroke="#000" stroke-width="1.2" />
<line x1="56.30" y1="392.00" x2="65.60" y2="392.00" stroke="#000" stroke-width="1.2" />
<text x="51.80" y="501.80" font-size="12" text-anchor="end" fill="#000" >0</text>
<text x="51.80" y="475.42" font-size="12" text-anchor="end" fill="#000" >4</text>
<text x="51.80" y="449.05" font-size="12" text-anchor="end" fill="#000" >8</text>
<text id="t1_13" x="51.80" y="422.67" font-size="12" text-anchor="end" fill="#000" > 2</text>
<path d="M590,0 L590,1130 L230,905 L230,1075 L620,1409 L770,1409 L770,0 Z" transform="translate(38.441,422.670) scale(0.00586,-0.00586)" fill="#000" stroke="#000" stroke-width="42.7"/>
<text id="t1_14" x="51.80" y="396.30" font-size="12" text-anchor="end" fill="#000" > 6</text>
<path d="M590,0 L590,1130 L230,905 L230,1075 L620,1409 L770,1409 L770,0 Z" transform="translate(38.441,396.300) scale(0.00586,-0.00586)" fill="#000" stroke="#000" stroke-width="42.7"/>
<line x1="72.25" y1="499.00" x2="72.25" y2="503.70" stroke="#000" stroke-width="1.2" />
<text id="t1_15" x="72.25" y="518.20" font-size="12" text-anchor="middle" fill="#000" >- </text>
<path d="M590,0 L590,1130 L230,905 L230,1075 L620,1409 L770,1409 L770,0 Z" transform="translate(70.898,518.200) scale(0.00586,-0.00586)" fill="#000" stroke="#000" stroke-width="42.7"/>
<line x1="86.70" y1="499.00" x2="86.70" y2="503.70" stroke="#000" stroke-width="1.2" />
<text x="86.70" y="518.20" font-size="12" text-anchor="middle" fill="#000" >0</text>
<line x1="101.15" y1="499.00" x2="101.15" y2="503.70" stroke="#000" stroke-width="1.2" />
<text id="t1_16" x="101.15" y="518.20" font-size="12" text-anchor="middle" fill="#000" > </text>
<path d="M590,0 L590,1130 L230,905 L230,1075 L620,1409 L770,1409 L770,0 Z" transform="translate(97.806,518.200) scale(0.00586,-0.00586)" fill="#000" stroke="#000" stroke-width="42.7"/>
<line x1="115.60" y1="499.00" x2="115.60" y2="503.70" stroke="#000" stroke-width="1.2" />
<text x="115.60" y="518.20" font-size="12" text-anchor="middle" fill="#000" >2</text>
<line x1="130.05" y1="499.00" x2="130.05" y2="503.70" stroke="#000" stroke-width="1.2" />
<text x="130.05" y="518.20" font-size="12" text-anchor="middle" fill="#000" >3</text>
<line x1="144.50" y1="499.00" x2="144.50" y2="503.70" stroke="#000" stroke-width="1.2" />
<text x="144.50" y="518.20" font-size="12" text-anchor="middle" fill="#000" >4</text>
<line x1="158.95" y1="499.00" x2="158.95" y2="503.70" stroke="#000" stroke-width="1.2" />
<text x="158.95" y="518.20" font-size="12" text-anchor="middle" fill="#000" >5</text>
<line x1="173.40" y1="499.00" x2="173.40" y2="503.70" stroke="#000" stroke-width="1.2" />
<text x="173.40" y="518.20" font-size="12" text-anchor="middle" fill="#000" >6</text>
<line x1="187.85" y1="499.00" x2="187.85" y2="503.70" stroke="#000" stroke-width="1.2" />
<text x="187.85" y="518.20" font-size="12" text-anchor="middle" fill="#000" >7</text>
<line x1="202.30" y1="499.00" x2="202.30" y2="503.70" stroke="#000" stroke-width="1.2" />
<text x="202.30" y="518.20" font-size="12" text-anchor="middle" fill="#000" >8</text>
<line x1="216.75" y1="499.00" x2="216.75" y2="503.70" stroke="#000" stroke-width="1.2" />
<text x="216.75" y="518.20" font-size="12" text-anchor="middle" fill="#000" >9</text>
<line x1="231.20" y1="499.00" x2="231.20" y2="503.70" stroke="#000" stroke-width="1.2" />
<text id="t1_17" x="231.20" y="518.20" font-size="12" text-anchor="middle" fill="#000" > 0</text>
<path d="M590,0 L590,1130 L230,905 L230,1075 L620,1409 L770,1409 L770,0 Z" transform="translate(224.520,518.200) scale(0.00586,-0.00586)" fill="#000" stroke="#000" stroke-width="42.7"/>
<line x1="245.65" y1="499.00" x2="245.65" y2="503.70" stroke="#000" stroke-width="1.2" />
<text id="t1_18" x="245.65" y="518.20" font-size="12" text-anchor="middle" fill="#000" >  </text>
<path d="M590,0 L590,1130 L230,905 L230,1075 L620,1409 L770,1409 L770,0 Z" transform="translate(238.970,518.200) scale(0.00586,-0.00586)" fill="#000" stroke="#000" stroke-width="42.7"/>
<path d="M590,0 L590,1130 L230,905 L230,1075 L620,1409 L770,1409 L770,0 Z" transform="translate(245.642,518.200) scale(0.00586,-0.00586)" fill="#000" stroke="#000" stroke-width="42.7"/>
<line x1="260.10" y1="499.00" x2="260.10" y2="503.70" stroke="#000" stroke-width="1.2" />
<text id="t1_19" x="260.10" y="518.20" font-size="12" text-anchor="middle" fill="#000" > 2</text>
<path d="M590,0 L590,1130 L230,905 L230,1075 L620,1409 L770,1409 L770,0 Z" transform="translate(253.420,518.200) scale(0.00586,-0.00586)" fill="#000" stroke="#000" stroke-width="42.7"/>
<line x1="274.55" y1="499.00" x2="274.55" y2="503.70" stroke="#000" stroke-width="1.2" />
<text id="t1_20" x="274.55" y="518.20" font-size="12" text-anchor="middle" fill="#000" > 3</text>
<path d="M590,0 L590,1130 L230,905 L230,1075 L620,1409 L770,1409 L770,0 Z" transform="translate(267.870,518.200) scale(0.00586,-0.00586)" fill="#000" stroke="#000" stroke-width="42.7"/>
<line x1="289.00" y1="499.00" x2="289.00" y2="503.70" stroke="#000" stroke-width="1.2" />
<text id="t1_21" x="289.00" y="518.20" font-size="12" text-anchor="middle" fill="#000" > 4</text>
<path d="M590,0 L590,1130 L230,905 L230,1075 L620,1409 L770,1409 L770,0 Z" transform="translate(282.320,518.200) scale(0.00586,-0.00586)" fill="#000" stroke="#000" stroke-width="42.7"/>
<line x1="303.45" y1="499.00" x2="303.45" y2="503.70" stroke="#000" stroke-width="1.2" />
<text id="t1_22" x="303.45" y="518.20" font-size="12" text-anchor="middle" fill="#000" > 5</text>
<path d="M590,0 L590,1130 L230,905 L230,1075 L620,1409 L770,1409 L770,0 Z" transform="translate(296.770,518.200) scale(0.00586,-0.00586)" fill="#000" stroke="#000" stroke-width="42.7"/>
<text x="181.20" y="534.00" font-size="11.2" text-anchor="middle" fill="#000" >Time (min)</text>
<text transform="translate(22.6,447.60) rotate(-90)" font-size="11" text-anchor="middle">Number of fusion events</text>
<text transform="translate(36.4,447.60) rotate(-90)" font-size="11" text-anchor="middle">(/200μm<tspan font-size="6.5" dy="-4.2">2</tspan><tspan dy="4.2">)</tspan></text>
<line x1="92.00" y1="396.40" x2="154.80" y2="396.40" stroke="#000" stroke-width="1.3" />
<path d="M88.00,396.40 L95.30,394.00 L95.30,398.80 Z" fill="#000" stroke="none" stroke-width="1" />
<path d="M158.80,396.40 L151.50,394.00 L151.50,398.80 Z" fill="#000" stroke="none" stroke-width="1" />
<line x1="164.70" y1="396.20" x2="266.20" y2="396.20" stroke="#000" stroke-width="1.3" />
<path d="M160.70,396.20 L168.00,393.80 L168.00,398.60 Z" fill="#000" stroke="none" stroke-width="1" />
<path d="M270.20,396.20 L262.90,393.80 L262.90,398.60 Z" fill="#000" stroke="none" stroke-width="1" />
<text id="t1_23" x="125.60" y="392.24" font-size="10.8" text-anchor="middle" fill="#000" > st phase</text>
<path d="M590,0 L590,1130 L230,905 L230,1075 L620,1409 L770,1409 L770,0 Z" transform="translate(102.186,392.240) scale(0.00527,-0.00527)" fill="#000" stroke="#000" stroke-width="47.4"/>
<text x="224.00" y="392.24" font-size="10.8" text-anchor="middle" fill="#000" >2nd phase</text>
<rect x="186.20" y="415.70" width="14.60" height="7.60" fill="#f8c4ae" stroke="none" stroke-width="1" />
<rect x="186.20" y="428.90" width="14.60" height="7.60" fill="#fbb9b9" stroke="none" stroke-width="1" />
<text x="204.60" y="423.00" font-size="11" text-anchor="start" fill="#000" >newcomer</text>
<text x="204.60" y="436.10" font-size="11" text-anchor="start" fill="#000" >predocked</text>
<text x="278.80" y="468.00" font-size="11" text-anchor="middle" fill="#000" >Stx2 KD</text>
<line x1="402.80" y1="223.70" x2="402.80" y2="341.40" stroke="#000" stroke-width="1.2" />
<line x1="402.20" y1="332.60" x2="488.90" y2="332.60" stroke="#000" stroke-width="1.2" />
<line x1="402.80" y1="332.60" x2="402.80" y2="341.40" stroke="#000" stroke-width="1.2" />
<line x1="445.30" y1="332.60" x2="445.30" y2="341.40" stroke="#000" stroke-width="1.2" />
<line x1="488.30" y1="332.60" x2="488.30" y2="341.40" stroke="#000" stroke-width="1.2" />
<line x1="393.50" y1="332.60" x2="402.80" y2="332.60" stroke="#000" stroke-width="1.2" />
<text id="t1_24" x="388.60" y="336.80" font-size="11.8" text-anchor="end" fill="#000" > 0</text>
<path d="M590,0 L590,1130 L230,905 L230,1075 L620,1409 L770,1409 L770,0 Z" transform="translate(375.475,336.800) scale(0.00576,-0.00576)" fill="#000" stroke="#000" stroke-width="43.4"/>
<line x1="393.50" y1="310.94" x2="402.80" y2="310.94" stroke="#000" stroke-width="1.2" />
<text id="t1_25" x="388.60" y="315.14" font-size="11.8" text-anchor="end" fill="#000" > 5</text>
<path d="M590,0 L590,1130 L230,905 L230,1075 L620,1409 L770,1409 L770,0 Z" transform="translate(375.475,315.140) scale(0.00576,-0.00576)" fill="#000" stroke="#000" stroke-width="43.4"/>
<line x1="393.50" y1="289.28" x2="402.80" y2="289.28" stroke="#000" stroke-width="1.2" />
<text x="388.60" y="293.48" font-size="11.8" text-anchor="end" fill="#000" >20</text>
<line x1="393.50" y1="267.62" x2="402.80" y2="267.62" stroke="#000" stroke-width="1.2" />
<text x="388.60" y="271.82" font-size="11.8" text-anchor="end" fill="#000" >25</text>
<line x1="393.50" y1="245.96" x2="402.80" y2="245.96" stroke="#000" stroke-width="1.2" />
<text x="388.60" y="250.16" font-size="11.8" text-anchor="end" fill="#000" >30</text>
<line x1="393.50" y1="224.30" x2="402.80" y2="224.30" stroke="#000" stroke-width="1.2" />
<text x="388.60" y="228.50" font-size="11.8" text-anchor="end" fill="#000" >35</text>
<text transform="translate(354.10,278.90) rotate(-90)" font-size="11" text-anchor="middle">Total number of fusion</text>
<text transform="translate(367.60,282.80) rotate(-90)" font-size="11" text-anchor="middle">events (200μm<tspan font-size="7" dy="-4">-2</tspan><tspan dy="4">)</tspan></text>
<line x1="424.30" y1="226.60" x2="466.80" y2="226.60" stroke="#000" stroke-width="1.1" />
<text id="t1_26" x="450.60" y="223.00" font-size="8.7" text-anchor="middle" fill="#000" >p&lt;0.00 </text>
<path d="M590,0 L590,1130 L230,905 L230,1075 L620,1409 L770,1409 L770,0 Z" transform="translate(461.584,223.000) scale(0.00425,-0.00425)" fill="#000" stroke="#000" stroke-width="58.9"/>
<rect x="418.25" y="264.05" width="4.90" height="4.90" fill="#1670b8" stroke="#0b3a66" stroke-width="0.7" />
<rect x="419.95" y="269.05" width="4.90" height="4.90" fill="#1670b8" stroke="#0b3a66" stroke-width="0.7" />
<rect x="418.85" y="272.55" width="4.90" height="4.90" fill="#1670b8" stroke="#0b3a66" stroke-width="0.7" />
<rect x="413.95" y="281.05" width="4.90" height="4.90" fill="#1670b8" stroke="#0b3a66" stroke-width="0.7" />
<rect x="414.95" y="290.25" width="4.90" height="4.90" fill="#1670b8" stroke="#0b3a66" stroke-width="0.7" />
<rect x="412.75" y="293.05" width="4.90" height="4.90" fill="#1670b8" stroke="#0b3a66" stroke-width="0.7" />
<rect x="415.65" y="294.75" width="4.90" height="4.90" fill="#1670b8" stroke="#0b3a66" stroke-width="0.7" />
<rect x="421.45" y="291.75" width="4.90" height="4.90" fill="#1670b8" stroke="#0b3a66" stroke-width="0.7" />
<rect x="421.45" y="299.05" width="4.90" height="4.90" fill="#1670b8" stroke="#0b3a66" stroke-width="0.7" />
<rect x="416.65" y="302.55" width="4.90" height="4.90" fill="#1670b8" stroke="#0b3a66" stroke-width="0.7" />
<rect x="415.65" y="310.85" width="4.90" height="4.90" fill="#1670b8" stroke="#0b3a66" stroke-width="0.7" />
<rect x="419.55" y="311.05" width="4.90" height="4.90" fill="#1670b8" stroke="#0b3a66" stroke-width="0.7" />
<rect x="414.35" y="319.95" width="4.90" height="4.90" fill="#1670b8" stroke="#0b3a66" stroke-width="0.7" />
<circle cx="463.00" cy="236.50" r="2.50" fill="#f23434" stroke="#7a1010" stroke-width="0.6" />
<circle cx="459.60" cy="239.40" r="2.50" fill="#f23434" stroke="#7a1010" stroke-width="0.6" />
<circle cx="464.60" cy="246.10" r="2.50" fill="#f23434" stroke="#7a1010" stroke-width="0.6" />
<circle cx="461.30" cy="252.00" r="2.50" fill="#f23434" stroke="#7a1010" stroke-width="0.6" />
<circle cx="465.10" cy="251.10" r="2.50" fill="#f23434" stroke="#7a1010" stroke-width="0.6" />
<circle cx="463.50" cy="255.00" r="2.50" fill="#f23434" stroke="#7a1010" stroke-width="0.6" />
<circle cx="466.30" cy="258.70" r="2.50" fill="#f23434" stroke="#7a1010" stroke-width="0.6" />
<circle cx="458.80" cy="265.10" r="2.50" fill="#f23434" stroke="#7a1010" stroke-width="0.6" />
<circle cx="465.50" cy="267.90" r="2.50" fill="#f23434" stroke="#7a1010" stroke-width="0.6" />
<circle cx="466.80" cy="275.50" r="2.50" fill="#f23434" stroke="#7a1010" stroke-width="0.6" />
<circle cx="461.80" cy="282.20" r="2.50" fill="#f23434" stroke="#7a1010" stroke-width="0.6" />
<line x1="431.00" y1="279.60" x2="431.00" y2="309.90" stroke="#000" stroke-width="1.3" />
<line x1="428.40" y1="279.60" x2="433.60" y2="279.60" stroke="#000" stroke-width="1.3" />
<line x1="428.40" y1="309.90" x2="433.60" y2="309.90" stroke="#000" stroke-width="1.3" />
<line x1="428.40" y1="294.60" x2="434.00" y2="294.60" stroke="#555" stroke-width="0.8" />
<line x1="473.40" y1="241.40" x2="473.40" y2="268.60" stroke="#000" stroke-width="1.3" />
<line x1="470.80" y1="241.40" x2="476.00" y2="241.40" stroke="#000" stroke-width="1.3" />
<line x1="470.80" y1="268.60" x2="476.00" y2="268.60" stroke="#000" stroke-width="1.3" />
<line x1="470.80" y1="255.30" x2="476.40" y2="255.30" stroke="#555" stroke-width="0.8" />
<text transform="translate(421.90,347.10) rotate(-31)" font-size="12" text-anchor="middle">Ctrl</text>
<text transform="translate(464.90,354.20) rotate(-31)" font-size="12" text-anchor="middle">Stx2 KD</text>
<line x1="581.20" y1="223.70" x2="581.20" y2="341.20" stroke="#000" stroke-width="1.2" />
<line x1="580.60" y1="332.50" x2="666.00" y2="332.50" stroke="#000" stroke-width="1.2" />
<line x1="581.20" y1="332.50" x2="581.20" y2="341.20" stroke="#000" stroke-width="1.2" />
<line x1="623.00" y1="332.50" x2="623.00" y2="341.20" stroke="#000" stroke-width="1.2" />
<line x1="665.40" y1="332.50" x2="665.40" y2="341.20" stroke="#000" stroke-width="1.2" />
<line x1="571.90" y1="332.50" x2="581.20" y2="332.50" stroke="#000" stroke-width="1.2" />
<text x="566.80" y="336.70" font-size="11.8" text-anchor="end" fill="#000" >40</text>
<line x1="571.90" y1="305.45" x2="581.20" y2="305.45" stroke="#000" stroke-width="1.2" />
<text x="566.80" y="309.65" font-size="11.8" text-anchor="end" fill="#000" >60</text>
<line x1="571.90" y1="278.40" x2="581.20" y2="278.40" stroke="#000" stroke-width="1.2" />
<text x="566.80" y="282.60" font-size="11.8" text-anchor="end" fill="#000" >80</text>
<line x1="571.90" y1="251.35" x2="581.20" y2="251.35" stroke="#000" stroke-width="1.2" />
<text id="t1_27" x="566.80" y="255.55" font-size="11.8" text-anchor="end" fill="#000" > 00</text>
<path d="M590,0 L590,1130 L230,905 L230,1075 L620,1409 L770,1409 L770,0 Z" transform="translate(547.112,255.550) scale(0.00576,-0.00576)" fill="#000" stroke="#000" stroke-width="43.4"/>
<line x1="571.90" y1="224.30" x2="581.20" y2="224.30" stroke="#000" stroke-width="1.2" />
<text id="t1_28" x="566.80" y="228.50" font-size="11.8" text-anchor="end" fill="#000" > 20</text>
<path d="M590,0 L590,1130 L230,905 L230,1075 L620,1409 L770,1409 L770,0 Z" transform="translate(547.112,228.500) scale(0.00576,-0.00576)" fill="#000" stroke="#000" stroke-width="43.4"/>
<text transform="translate(528.70,278.90) rotate(-90)" font-size="11" text-anchor="middle">Total number of fusion</text>
<text transform="translate(542.30,282.80) rotate(-90)" font-size="11" text-anchor="middle">events (200μm<tspan font-size="7" dy="-4">-2</tspan><tspan dy="4">)</tspan></text>
<line x1="602.30" y1="226.90" x2="643.90" y2="226.90" stroke="#000" stroke-width="1.1" />
<text x="622.80" y="223.00" font-size="8.7" text-anchor="middle" fill="#000" >p=0.0048</text>
<rect x="594.95" y="254.95" width="4.90" height="4.90" fill="#1670b8" stroke="#0b3a66" stroke-width="0.7" />
<rect x="596.25" y="261.25" width="4.90" height="4.90" fill="#1670b8" stroke="#0b3a66" stroke-width="0.7" />
<rect x="599.75" y="266.75" width="4.90" height="4.90" fill="#1670b8" stroke="#0b3a66" stroke-width="0.7" />
<rect x="598.25" y="269.05" width="4.90" height="4.90" fill="#1670b8" stroke="#0b3a66" stroke-width="0.7" />
<rect x="594.05" y="279.15" width="4.90" height="4.90" fill="#1670b8" stroke="#0b3a66" stroke-width="0.7" />
<rect x="591.45" y="280.65" width="4.90" height="4.90" fill="#1670b8" stroke="#0b3a66" stroke-width="0.7" />
<rect x="592.35" y="284.05" width="4.90" height="4.90" fill="#1670b8" stroke="#0b3a66" stroke-width="0.7" />
<rect x="597.95" y="287.25" width="4.90" height="4.90" fill="#1670b8" stroke="#0b3a66" stroke-width="0.7" />
<rect x="598.85" y="290.65" width="4.90" height="4.90" fill="#1670b8" stroke="#0b3a66" stroke-width="0.7" />
<rect x="596.95" y="292.85" width="4.90" height="4.90" fill="#1670b8" stroke="#0b3a66" stroke-width="0.7" />
<rect x="592.35" y="295.85" width="4.90" height="4.90" fill="#1670b8" stroke="#0b3a66" stroke-width="0.7" />
<rect x="595.65" y="303.25" width="4.90" height="4.90" fill="#1670b8" stroke="#0b3a66" stroke-width="0.7" />
<rect x="593.25" y="306.85" width="4.90" height="4.90" fill="#1670b8" stroke="#0b3a66" stroke-width="0.7" />
<circle cx="636.50" cy="233.80" r="2.50" fill="#f23434" stroke="#7a1010" stroke-width="0.6" />
<circle cx="639.60" cy="241.60" r="2.50" fill="#f23434" stroke="#7a1010" stroke-width="0.6" />
<circle cx="641.70" cy="242.00" r="2.50" fill="#f23434" stroke="#7a1010" stroke-width="0.6" />
<circle cx="643.30" cy="254.40" r="2.50" fill="#f23434" stroke="#7a1010" stroke-width="0.6" />
<circle cx="642.00" cy="257.00" r="2.50" fill="#f23434" stroke="#7a1010" stroke-width="0.6" />
<circle cx="635.40" cy="259.00" r="2.50" fill="#f23434" stroke="#7a1010" stroke-width="0.6" />
<circle cx="644.30" cy="258.70" r="2.50" fill="#f23434" stroke="#7a1010" stroke-width="0.6" />
<circle cx="640.90" cy="262.90" r="2.50" fill="#f23434" stroke="#7a1010" stroke-width="0.6" />
<circle cx="637.10" cy="266.80" r="2.50" fill="#f23434" stroke="#7a1010" stroke-width="0.6" />
<circle cx="638.10" cy="270.10" r="2.50" fill="#f23434" stroke="#7a1010" stroke-width="0.6" />
<circle cx="638.70" cy="285.70" r="2.50" fill="#f23434" stroke="#7a1010" stroke-width="0.6" />
<line x1="608.50" y1="269.60" x2="608.50" y2="300.50" stroke="#000" stroke-width="1.3" />
<line x1="605.90" y1="269.60" x2="611.10" y2="269.60" stroke="#000" stroke-width="1.3" />
<line x1="605.90" y1="300.50" x2="611.10" y2="300.50" stroke="#000" stroke-width="1.3" />
<line x1="605.90" y1="285.20" x2="611.50" y2="285.20" stroke="#555" stroke-width="0.8" />
<line x1="650.90" y1="240.70" x2="650.90" y2="275.70" stroke="#000" stroke-width="1.3" />
<line x1="648.30" y1="240.70" x2="653.50" y2="240.70" stroke="#000" stroke-width="1.3" />
<line x1="648.30" y1="275.70" x2="653.50" y2="275.70" stroke="#000" stroke-width="1.3" />
<line x1="648.30" y1="258.30" x2="653.90" y2="258.30" stroke="#555" stroke-width="0.8" />
<text transform="translate(599.80,346.50) rotate(-31)" font-size="12" text-anchor="middle">Ctrl</text>
<text transform="translate(642.00,353.60) rotate(-31)" font-size="12" text-anchor="middle">Stx2 KD</text>
<line x1="382.50" y1="383.00" x2="382.50" y2="494.10" stroke="#000" stroke-width="1.2" />
<line x1="381.90" y1="494.10" x2="495.40" y2="494.10" stroke="#000" stroke-width="1.2" />
<line x1="373.10" y1="491.10" x2="382.50" y2="491.10" stroke="#000" stroke-width="1.2" />
<text x="369.10" y="495.60" font-size="12.5" text-anchor="end" fill="#000" >0.0</text>
<line x1="373.10" y1="473.18" x2="382.50" y2="473.18" stroke="#000" stroke-width="1.2" />
<text id="t1_29" x="369.10" y="477.68" font-size="12.5" text-anchor="end" fill="#000" >0. </text>
<path d="M590,0 L590,1130 L230,905 L230,1075 L620,1409 L770,1409 L770,0 Z" transform="translate(362.131,477.680) scale(0.00610,-0.00610)" fill="#000" stroke="#000" stroke-width="41.0"/>
<line x1="373.10" y1="455.26" x2="382.50" y2="455.26" stroke="#000" stroke-width="1.2" />
<text x="369.10" y="459.76" font-size="12.5" text-anchor="end" fill="#000" >0.2</text>
<line x1="373.10" y1="437.34" x2="382.50" y2="437.34" stroke="#000" stroke-width="1.2" />
<text x="369.10" y="441.84" font-size="12.5" text-anchor="end" fill="#000" >0.3</text>
<line x1="373.10" y1="419.42" x2="382.50" y2="419.42" stroke="#000" stroke-width="1.2" />
<text x="369.10" y="423.92" font-size="12.5" text-anchor="end" fill="#000" >0.4</text>
<line x1="373.10" y1="401.50" x2="382.50" y2="401.50" stroke="#000" stroke-width="1.2" />
<text x="369.10" y="406.00" font-size="12.5" text-anchor="end" fill="#000" >0.5</text>
<line x1="373.10" y1="383.58" x2="382.50" y2="383.58" stroke="#000" stroke-width="1.2" />
<text x="369.10" y="388.08" font-size="12.5" text-anchor="end" fill="#000" >0.6</text>
<line x1="385.50" y1="494.10" x2="385.50" y2="503.70" stroke="#000" stroke-width="1.2" />
<text x="385.70" y="516.00" font-size="12.5" text-anchor="middle" fill="#000" >-5</text>
<line x1="407.36" y1="494.10" x2="407.36" y2="503.70" stroke="#000" stroke-width="1.2" />
<text x="407.56" y="516.00" font-size="12.5" text-anchor="middle" fill="#000" >-4</text>
<line x1="429.22" y1="494.10" x2="429.22" y2="503.70" stroke="#000" stroke-width="1.2" />
<text x="429.42" y="516.00" font-size="12.5" text-anchor="middle" fill="#000" >-3</text>
<line x1="451.08" y1="494.10" x2="451.08" y2="503.70" stroke="#000" stroke-width="1.2" />
<text x="451.28" y="516.00" font-size="12.5" text-anchor="middle" fill="#000" >-2</text>
<line x1="472.94" y1="494.10" x2="472.94" y2="503.70" stroke="#000" stroke-width="1.2" />
<text id="t1_30" x="473.14" y="516.00" font-size="12.5" text-anchor="middle" fill="#000" >- </text>
<path d="M590,0 L590,1130 L230,905 L230,1075 L620,1409 L770,1409 L770,0 Z" transform="translate(471.734,516.000) scale(0.00610,-0.00610)" fill="#000" stroke="#000" stroke-width="41.0"/>
<line x1="494.80" y1="494.10" x2="494.80" y2="503.70" stroke="#000" stroke-width="1.2" />
<text x="495.00" y="516.00" font-size="12.5" text-anchor="middle" fill="#000" >0</text>
<text x="404.74" y="533.0" font-size="12.3">log D (<tspan font-family="Liberation Serif" font-size="13">μ</tspan>m<tspan font-size="8.5" dy="-6">2</tspan><tspan dy="6">/s)</tspan></text>
<text transform="translate(344.30,441.5) rotate(-90)" font-size="11" text-anchor="middle">Proportion (%)</text>
<text x="399.30" y="392.50" font-size="12.3" text-anchor="start" fill="#000" >Ctrl</text>
<circle cx="396.39" cy="480.66" r="1.35" fill="#1c74b6" stroke="none" stroke-width="1" />
<circle cx="396.15" cy="482.75" r="1.35" fill="#1c74b6" stroke="none" stroke-width="1" />
<circle cx="397.14" cy="483.06" r="1.35" fill="#1c74b6" stroke="none" stroke-width="1" />
<circle cx="396.91" cy="486.35" r="1.35" fill="#1c74b6" stroke="none" stroke-width="1" />
<circle cx="397.69" cy="483.16" r="1.35" fill="#1c74b6" stroke="none" stroke-width="1" />
<circle cx="397.63" cy="483.02" r="1.35" fill="#1c74b6" stroke="none" stroke-width="1" />
<circle cx="398.86" cy="482.22" r="1.35" fill="#1c74b6" stroke="none" stroke-width="1" />
<circle cx="398.73" cy="482.96" r="1.35" fill="#1c74b6" stroke="none" stroke-width="1" />
<circle cx="399.19" cy="481.55" r="1.35" fill="#1c74b6" stroke="none" stroke-width="1" />
<circle cx="399.52" cy="482.09" r="1.35" fill="#1c74b6" stroke="none" stroke-width="1" />
<circle cx="399.25" cy="483.44" r="1.35" fill="#1c74b6" stroke="none" stroke-width="1" />
<circle cx="399.32" cy="478.78" r="1.35" fill="#1c74b6" stroke="none" stroke-width="1" />
<circle cx="400.15" cy="478.46" r="1.35" fill="#1c74b6" stroke="none" stroke-width="1" />
<circle cx="400.79" cy="476.44" r="1.35" fill="#1c74b6" stroke="none" stroke-width="1" />
<circle cx="400.89" cy="479.50" r="1.35" fill="#1c74b6" stroke="none" stroke-width="1" />
<circle cx="401.39" cy="480.13" r="1.35" fill="#1c74b6" stroke="none" stroke-width="1" />
<circle cx="401.75" cy="480.11" r="1.35" fill="#1c74b6" stroke="none" stroke-width="1" />
<circle cx="401.43" cy="481.93" r="1.35" fill="#1c74b6" stroke="none" stroke-width="1" />
<circle cx="402.21" cy="476.21" r="1.35" fill="#1c74b6" stroke="none" stroke-width="1" />
<circle cx="402.97" cy="480.38" r="1.35" fill="#1c74b6" stroke="none" stroke-width="1" />
<circle cx="402.62" cy="480.26" r="1.35" fill="#1c74b6" stroke="none" stroke-width="1" />
<circle cx="402.55" cy="477.79" r="1.35" fill="#1c74b6" stroke="none" stroke-width="1" />
<circle cx="403.34" cy="473.67" r="1.35" fill="#1c74b6" stroke="none" stroke-width="1" />
<circle cx="403.60" cy="476.13" r="1.35" fill="#1c74b6" stroke="none" stroke-width="1" />
<circle cx="404.15" cy="478.67" r="1.35" fill="#1c74b6" stroke="none" stroke-width="1" />
<circle cx="404.12" cy="477.64" r="1.35" fill="#1c74b6" stroke="none" stroke-width="1" />
<circle cx="404.70" cy="474.19" r="1.35" fill="#1c74b6" stroke="none" stroke-width="1" />
<circle cx="404.41" cy="475.70" r="1.35" fill="#1c74b6" stroke="none" stroke-width="1" />
<circle cx="405.53" cy="476.82" r="1.35" fill="#1c74b6" stroke="none" stroke-width="1" />
<circle cx="406.04" cy="475.22" r="1.35" fill="#1c74b6" stroke="none" stroke-width="1" />
<circle cx="406.28" cy="472.53" r="1.35" fill="#1c74b6" stroke="none" stroke-width="1" />
<circle cx="405.86" cy="469.18" r="1.35" fill="#1c74b6" stroke="none" stroke-width="1" />
<circle cx="406.66" cy="476.79" r="1.35" fill="#1c74b6" stroke="none" stroke-width="1" />
<circle cx="406.11" cy="474.97" r="1.35" fill="#1c74b6" stroke="none" stroke-width="1" />
<circle cx="407.28" cy="475.13" r="1.35" fill="#1c74b6" stroke="none" stroke-width="1" />
<circle cx="407.51" cy="478.95" r="1.35" fill="#1c74b6" stroke="none" stroke-width="1" />
<circle cx="407.58" cy="474.89" r="1.35" fill="#1c74b6" stroke="none" stroke-width="1" />
<circle cx="408.25" cy="474.89" r="1.35" fill="#1c74b6" stroke="none" stroke-width="1" />
<circle cx="408.51" cy="469.07" r="1.35" fill="#1c74b6" stroke="none" stroke-width="1" />
<circle cx="409.04" cy="472.07" r="1.35" fill="#1c74b6" stroke="none" stroke-width="1" />
<circle cx="409.14" cy="475.74" r="1.35" fill="#1c74b6" stroke="none" stroke-width="1" />
<circle cx="409.49" cy="469.52" r="1.35" fill="#1c74b6" stroke="none" stroke-width="1" />
<circle cx="409.23" cy="471.94" r="1.35" fill="#1c74b6" stroke="none" stroke-width="1" />
<circle cx="409.76" cy="475.43" r="1.35" fill="#1c74b6" stroke="none" stroke-width="1" />
<circle cx="410.25" cy="472.15" r="1.35" fill="#1c74b6" stroke="none" stroke-width="1" />
<circle cx="410.77" cy="471.93" r="1.35" fill="#1c74b6" stroke="none" stroke-width="1" />
<circle cx="411.01" cy="472.51" r="1.35" fill="#1c74b6" stroke="none" stroke-width="1" />
<circle cx="411.72" cy="469.85" r="1.35" fill="#1c74b6" stroke="none" stroke-width="1" />
<circle cx="411.42" cy="475.93" r="1.35" fill="#1c74b6" stroke="none" stroke-width="1" />
<circle cx="411.90" cy="470.30" r="1.35" fill="#1c74b6" stroke="none" stroke-width="1" />
<circle cx="412.35" cy="466.56" r="1.35" fill="#1c74b6" stroke="none" stroke-width="1" />
<circle cx="412.53" cy="466.81" r="1.35" fill="#1c74b6" stroke="none" stroke-width="1" />
<circle cx="413.04" cy="465.91" r="1.35" fill="#1c74b6" stroke="none" stroke-width="1" />
<circle cx="413.08" cy="465.68" r="1.35" fill="#1c74b6" stroke="none" stroke-width="1" />
<circle cx="413.92" cy="464.44" r="1.35" fill="#1c74b6" stroke="none" stroke-width="1" />
<circle cx="413.78" cy="471.64" r="1.35" fill="#1c74b6" stroke="none" stroke-width="1" />
<circle cx="414.47" cy="465.86" r="1.35" fill="#1c74b6" stroke="none" stroke-width="1" />
<circle cx="414.49" cy="473.41" r="1.35" fill="#1c74b6" stroke="none" stroke-width="1" />
<circle cx="415.21" cy="469.60" r="1.35" fill="#1c74b6" stroke="none" stroke-width="1" />
<circle cx="414.76" cy="473.20" r="1.35" fill="#1c74b6" stroke="none" stroke-width="1" />
<circle cx="415.58" cy="464.38" r="1.35" fill="#1c74b6" stroke="none" stroke-width="1" />
<circle cx="415.65" cy="463.28" r="1.35" fill="#1c74b6" stroke="none" stroke-width="1" />
<circle cx="416.14" cy="467.43" r="1.35" fill="#1c74b6" stroke="none" stroke-width="1" />
<circle cx="416.71" cy="461.10" r="1.35" fill="#1c74b6" stroke="none" stroke-width="1" />
<circle cx="416.42" cy="467.89" r="1.35" fill="#1c74b6" stroke="none" stroke-width="1" />
<circle cx="416.69" cy="464.77" r="1.35" fill="#1c74b6" stroke="none" stroke-width="1" />
<circle cx="417.09" cy="464.07" r="1.35" fill="#1c74b6" stroke="none" stroke-width="1" />
<circle cx="417.73" cy="467.19" r="1.35" fill="#1c74b6" stroke="none" stroke-width="1" />
<circle cx="417.49" cy="461.66" r="1.35" fill="#1c74b6" stroke="none" stroke-width="1" />
<circle cx="418.33" cy="455.96" r="1.35" fill="#1c74b6" stroke="none" stroke-width="1" />
<circle cx="418.28" cy="464.94" r="1.35" fill="#1c74b6" stroke="none" stroke-width="1" />
<circle cx="418.63" cy="457.76" r="1.35" fill="#1c74b6" stroke="none" stroke-width="1" />
<circle cx="419.15" cy="460.61" r="1.35" fill="#1c74b6" stroke="none" stroke-width="1" />
<circle cx="419.67" cy="453.21" r="1.35" fill="#1c74b6" stroke="none" stroke-width="1" />
<circle cx="419.72" cy="456.90" r="1.35" fill="#1c74b6" stroke="none" stroke-width="1" />
<circle cx="420.07" cy="455.38" r="1.35" fill="#1c74b6" stroke="none" stroke-width="1" />
<circle cx="420.51" cy="454.61" r="1.35" fill="#1c74b6" stroke="none" stroke-width="1" />
<circle cx="420.77" cy="455.12" r="1.35" fill="#1c74b6" stroke="none" stroke-width="1" />
<circle cx="420.45" cy="460.35" r="1.35" fill="#1c74b6" stroke="none" stroke-width="1" />
<circle cx="421.36" cy="448.69" r="1.35" fill="#1c74b6" stroke="none" stroke-width="1" />
<circle cx="421.81" cy="458.32" r="1.35" fill="#1c74b6" stroke="none" stroke-width="1" />
<circle cx="422.39" cy="450.81" r="1.35" fill="#1c74b6" stroke="none" stroke-width="1" />
<circle cx="422.96" cy="448.01" r="1.35" fill="#1c74b6" stroke="none" stroke-width="1" />
<circle cx="422.91" cy="452.71" r="1.35" fill="#1c74b6" stroke="none" stroke-width="1" />
<circle cx="423.08" cy="447.17" r="1.35" fill="#1c74b6" stroke="none" stroke-width="1" />
<circle cx="423.12" cy="441.17" r="1.35" fill="#1c74b6" stroke="none" stroke-width="1" />
<circle cx="423.71" cy="444.84" r="1.35" fill="#1c74b6" stroke="none" stroke-width="1" />
<circle cx="424.21" cy="447.22" r="1.35" fill="#1c74b6" stroke="none" stroke-width="1" />
<circle cx="424.66" cy="455.27" r="1.35" fill="#1c74b6" stroke="none" stroke-width="1" />
<circle cx="424.41" cy="444.53" r="1.35" fill="#1c74b6" stroke="none" stroke-width="1" />
<circle cx="425.02" cy="441.10" r="1.35" fill="#1c74b6" stroke="none" stroke-width="1" />
<circle cx="425.49" cy="439.15" r="1.35" fill="#1c74b6" stroke="none" stroke-width="1" />
<circle cx="426.08" cy="439.91" r="1.35" fill="#1c74b6" stroke="none" stroke-width="1" />
<circle cx="425.98" cy="431.35" r="1.35" fill="#1c74b6" stroke="none" stroke-width="1" />
<circle cx="426.08" cy="434.88" r="1.35" fill="#1c74b6" stroke="none" stroke-width="1" />
<circle cx="426.36" cy="430.81" r="1.35" fill="#1c74b6" stroke="none" stroke-width="1" />
<circle cx="426.77" cy="424.86" r="1.35" fill="#1c74b6" stroke="none" stroke-width="1" />
<circle cx="427.01" cy="432.08" r="1.35" fill="#1c74b6" stroke="none" stroke-width="1" />
<circle cx="427.71" cy="427.48" r="1.35" fill="#1c74b6" stroke="none" stroke-width="1" />
<circle cx="428.09" cy="411.54" r="1.35" fill="#1c74b6" stroke="none" stroke-width="1" />
<circle cx="428.32" cy="417.74" r="1.35" fill="#1c74b6" stroke="none" stroke-width="1" />
<circle cx="428.76" cy="429.66" r="1.35" fill="#1c74b6" stroke="none" stroke-width="1" />
<circle cx="428.64" cy="421.10" r="1.35" fill="#1c74b6" stroke="none" stroke-width="1" />
<circle cx="429.18" cy="416.02" r="1.35" fill="#1c74b6" stroke="none" stroke-width="1" />
<circle cx="429.29" cy="410.79" r="1.35" fill="#1c74b6" stroke="none" stroke-width="1" />
<circle cx="429.72" cy="416.80" r="1.35" fill="#1c74b6" stroke="none" stroke-width="1" />
<circle cx="430.35" cy="420.44" r="1.35" fill="#1c74b6" stroke="none" stroke-width="1" />
<circle cx="430.34" cy="421.13" r="1.35" fill="#1c74b6" stroke="none" stroke-width="1" />
<circle cx="430.17" cy="411.67" r="1.35" fill="#1c74b6" stroke="none" stroke-width="1" />
<circle cx="430.91" cy="413.42" r="1.35" fill="#1c74b6" stroke="none" stroke-width="1" />
<circle cx="431.11" cy="418.55" r="1.35" fill="#1c74b6" stroke="none" stroke-width="1" />
<circle cx="431.22" cy="416.20" r="1.35" fill="#1c74b6" stroke="none" stroke-width="1" />
<circle cx="431.72" cy="417.59" r="1.35" fill="#1c74b6" stroke="none" stroke-width="1" />
<circle cx="432.50" cy="410.05" r="1.35" fill="#1c74b6" stroke="none" stroke-width="1" />
<circle cx="433.01" cy="419.46" r="1.35" fill="#1c74b6" stroke="none" stroke-width="1" />
<circle cx="432.75" cy="411.90" r="1.35" fill="#1c74b6" stroke="none" stroke-width="1" />
<circle cx="433.46" cy="409.78" r="1.35" fill="#1c74b6" stroke="none" stroke-width="1" />
<circle cx="433.82" cy="412.54" r="1.35" fill="#1c74b6" stroke="none" stroke-width="1" />
<circle cx="433.53" cy="421.57" r="1.35" fill="#1c74b6" stroke="none" stroke-width="1" />
<circle cx="434.14" cy="407.95" r="1.35" fill="#1c74b6" stroke="none" stroke-width="1" />
<circle cx="434.45" cy="421.56" r="1.35" fill="#1c74b6" stroke="none" stroke-width="1" />
<circle cx="434.83" cy="415.09" r="1.35" fill="#1c74b6" stroke="none" stroke-width="1" />
<circle cx="434.68" cy="423.25" r="1.35" fill="#1c74b6" stroke="none" stroke-width="1" />
<circle cx="435.33" cy="430.13" r="1.35" fill="#1c74b6" stroke="none" stroke-width="1" />
<circle cx="436.01" cy="418.45" r="1.35" fill="#1c74b6" stroke="none" stroke-width="1" />
<circle cx="436.38" cy="418.77" r="1.35" fill="#1c74b6" stroke="none" stroke-width="1" />
<circle cx="436.85" cy="421.71" r="1.35" fill="#1c74b6" stroke="none" stroke-width="1" />
<circle cx="436.60" cy="420.20" r="1.35" fill="#1c74b6" stroke="none" stroke-width="1" />
<circle cx="437.49" cy="426.44" r="1.35" fill="#1c74b6" stroke="none" stroke-width="1" />
<circle cx="437.49" cy="427.53" r="1.35" fill="#1c74b6" stroke="none" stroke-width="1" />
<circle cx="437.28" cy="424.64" r="1.35" fill="#1c74b6" stroke="none" stroke-width="1" />
<circle cx="438.15" cy="412.77" r="1.35" fill="#1c74b6" stroke="none" stroke-width="1" />
<circle cx="438.18" cy="419.73" r="1.35" fill="#1c74b6" stroke="none" stroke-width="1" />
<circle cx="438.72" cy="427.96" r="1.35" fill="#1c74b6" stroke="none" stroke-width="1" />
<circle cx="438.88" cy="421.91" r="1.35" fill="#1c74b6" stroke="none" stroke-width="1" />
<circle cx="439.54" cy="428.21" r="1.35" fill="#1c74b6" stroke="none" stroke-width="1" />
<circle cx="439.61" cy="428.22" r="1.35" fill="#1c74b6" stroke="none" stroke-width="1" />
<circle cx="439.78" cy="420.59" r="1.35" fill="#1c74b6" stroke="none" stroke-width="1" />
<circle cx="440.42" cy="428.66" r="1.35" fill="#1c74b6" stroke="none" stroke-width="1" />
<circle cx="440.56" cy="435.30" r="1.35" fill="#1c74b6" stroke="none" stroke-width="1" />
<circle cx="440.70" cy="430.64" r="1.35" fill="#1c74b6" stroke="none" stroke-width="1" />
<circle cx="441.46" cy="424.64" r="1.35" fill="#1c74b6" stroke="none" stroke-width="1" />
<circle cx="441.33" cy="424.26" r="1.35" fill="#1c74b6" stroke="none" stroke-width="1" />
<circle cx="441.59" cy="417.58" r="1.35" fill="#1c74b6" stroke="none" stroke-width="1" />
<circle cx="441.93" cy="429.00" r="1.35" fill="#1c74b6" stroke="none" stroke-width="1" />
<circle cx="442.01" cy="420.32" r="1.35" fill="#1c74b6" stroke="none" stroke-width="1" />
<circle cx="442.56" cy="421.96" r="1.35" fill="#1c74b6" stroke="none" stroke-width="1" />
<circle cx="443.51" cy="425.16" r="1.35" fill="#1c74b6" stroke="none" stroke-width="1" />
<circle cx="443.10" cy="419.04" r="1.35" fill="#1c74b6" stroke="none" stroke-width="1" />
<circle cx="443.66" cy="420.74" r="1.35" fill="#1c74b6" stroke="none" stroke-width="1" />
<circle cx="443.68" cy="428.43" r="1.35" fill="#1c74b6" stroke="none" stroke-width="1" />
<circle cx="444.13" cy="416.25" r="1.35" fill="#1c74b6" stroke="none" stroke-width="1" />
<circle cx="445.01" cy="429.51" r="1.35" fill="#1c74b6" stroke="none" stroke-width="1" />
<circle cx="445.16" cy="420.93" r="1.35" fill="#1c74b6" stroke="none" stroke-width="1" />
<circle cx="445.08" cy="420.41" r="1.35" fill="#1c74b6" stroke="none" stroke-width="1" />
<circle cx="445.56" cy="416.86" r="1.35" fill="#1c74b6" stroke="none" stroke-width="1" />
<circle cx="445.66" cy="423.18" r="1.35" fill="#1c74b6" stroke="none" stroke-width="1" />
<circle cx="445.99" cy="417.86" r="1.35" fill="#1c74b6" stroke="none" stroke-width="1" />
<circle cx="446.27" cy="417.59" r="1.35" fill="#1c74b6" stroke="none" stroke-width="1" />
<circle cx="446.59" cy="409.21" r="1.35" fill="#1c74b6" stroke="none" stroke-width="1" />
<circle cx="447.23" cy="420.02" r="1.35" fill="#1c74b6" stroke="none" stroke-width="1" />
<circle cx="447.62" cy="413.34" r="1.35" fill="#1c74b6" stroke="none" stroke-width="1" />
<circle cx="447.91" cy="414.66" r="1.35" fill="#1c74b6" stroke="none" stroke-width="1" />
<circle cx="448.05" cy="420.81" r="1.35" fill="#1c74b6" stroke="none" stroke-width="1" />
<circle cx="448.06" cy="392.79" r="1.35" fill="#1c74b6" stroke="none" stroke-width="1" />
<circle cx="448.71" cy="410.79" r="1.35" fill="#1c74b6" stroke="none" stroke-width="1" />
<circle cx="448.80" cy="419.87" r="1.35" fill="#1c74b6" stroke="none" stroke-width="1" />
<circle cx="449.60" cy="398.89" r="1.35" fill="#1c74b6" stroke="none" stroke-width="1" />
<circle cx="449.83" cy="415.65" r="1.35" fill="#1c74b6" stroke="none" stroke-width="1" />
<circle cx="450.19" cy="404.81" r="1.35" fill="#1c74b6" stroke="none" stroke-width="1" />
<circle cx="450.22" cy="400.69" r="1.35" fill="#1c74b6" stroke="none" stroke-width="1" />
<circle cx="450.16" cy="411.00" r="1.35" fill="#1c74b6" stroke="none" stroke-width="1" />
<circle cx="451.20" cy="408.99" r="1.35" fill="#1c74b6" stroke="none" stroke-width="1" />
<circle cx="451.59" cy="409.40" r="1.35" fill="#1c74b6" stroke="none" stroke-width="1" />
<circle cx="451.19" cy="406.11" r="1.35" fill="#1c74b6" stroke="none" stroke-width="1" />
<circle cx="451.94" cy="416.75" r="1.35" fill="#1c74b6" stroke="none" stroke-width="1" />
<circle cx="452.53" cy="413.78" r="1.35" fill="#1c74b6" stroke="none" stroke-width="1" />
<circle cx="452.25" cy="405.71" r="1.35" fill="#1c74b6" stroke="none" stroke-width="1" />
<circle cx="453.31" cy="397.09" r="1.35" fill="#1c74b6" stroke="none" stroke-width="1" />
<circle cx="453.08" cy="400.16" r="1.35" fill="#1c74b6" stroke="none" stroke-width="1" />
<circle cx="453.20" cy="392.34" r="1.35" fill="#1c74b6" stroke="none" stroke-width="1" />
<circle cx="454.16" cy="400.15" r="1.35" fill="#1c74b6" stroke="none" stroke-width="1" />
<circle cx="454.20" cy="409.22" r="1.35" fill="#1c74b6" stroke="none" stroke-width="1" />
<circle cx="454.26" cy="406.82" r="1.35" fill="#1c74b6" stroke="none" stroke-width="1" />
<circle cx="454.98" cy="421.00" r="1.35" fill="#1c74b6" stroke="none" stroke-width="1" />
<circle cx="454.56" cy="413.84" r="1.35" fill="#1c74b6" stroke="none" stroke-width="1" />
<circle cx="455.86" cy="414.86" r="1.35" fill="#1c74b6" stroke="none" stroke-width="1" />
<circle cx="455.49" cy="406.41" r="1.35" fill="#1c74b6" stroke="none" stroke-width="1" />
<circle cx="456.10" cy="404.56" r="1.35" fill="#1c74b6" stroke="none" stroke-width="1" />
<circle cx="456.23" cy="413.82" r="1.35" fill="#1c74b6" stroke="none" stroke-width="1" />
<circle cx="456.77" cy="414.87" r="1.35" fill="#1c74b6" stroke="none" stroke-width="1" />
<circle cx="457.20" cy="422.32" r="1.35" fill="#1c74b6" stroke="none" stroke-width="1" />
<circle cx="457.07" cy="413.67" r="1.35" fill="#1c74b6" stroke="none" stroke-width="1" />
<circle cx="457.81" cy="412.22" r="1.35" fill="#1c74b6" stroke="none" stroke-width="1" />
<circle cx="457.85" cy="412.06" r="1.35" fill="#1c74b6" stroke="none" stroke-width="1" />
<circle cx="458.06" cy="421.25" r="1.35" fill="#1c74b6" stroke="none" stroke-width="1" />
<circle cx="458.50" cy="404.61" r="1.35" fill="#1c74b6" stroke="none" stroke-width="1" />
<circle cx="458.61" cy="411.05" r="1.35" fill="#1c74b6" stroke="none" stroke-width="1" />
<circle cx="458.98" cy="420.49" r="1.35" fill="#1c74b6" stroke="none" stroke-width="1" />
<circle cx="459.76" cy="424.45" r="1.35" fill="#1c74b6" stroke="none" stroke-width="1" />
<circle cx="459.78" cy="424.50" r="1.35" fill="#1c74b6" stroke="none" stroke-width="1" />
<circle cx="460.44" cy="423.01" r="1.35" fill="#1c74b6" stroke="none" stroke-width="1" />
<circle cx="460.57" cy="425.41" r="1.35" fill="#1c74b6" stroke="none" stroke-width="1" />
<circle cx="460.51" cy="423.91" r="1.35" fill="#1c74b6" stroke="none" stroke-width="1" />
<circle cx="460.59" cy="423.75" r="1.35" fill="#1c74b6" stroke="none" stroke-width="1" />
<circle cx="461.23" cy="421.92" r="1.35" fill="#1c74b6" stroke="none" stroke-width="1" />
<circle cx="461.80" cy="424.62" r="1.35" fill="#1c74b6" stroke="none" stroke-width="1" />
<circle cx="462.05" cy="432.79" r="1.35" fill="#1c74b6" stroke="none" stroke-width="1" />
<circle cx="462.14" cy="431.40" r="1.35" fill="#1c74b6" stroke="none" stroke-width="1" />
<circle cx="462.94" cy="436.69" r="1.35" fill="#1c74b6" stroke="none" stroke-width="1" />
<circle cx="462.54" cy="438.86" r="1.35" fill="#1c74b6" stroke="none" stroke-width="1" />
<circle cx="462.98" cy="427.37" r="1.35" fill="#1c74b6" stroke="none" stroke-width="1" />
<circle cx="463.66" cy="440.43" r="1.35" fill="#1c74b6" stroke="none" stroke-width="1" />
<circle cx="464.52" cy="429.56" r="1.35" fill="#1c74b6" stroke="none" stroke-width="1" />
<circle cx="464.37" cy="442.09" r="1.35" fill="#1c74b6" stroke="none" stroke-width="1" />
<circle cx="464.31" cy="440.37" r="1.35" fill="#1c74b6" stroke="none" stroke-width="1" />
<circle cx="465.05" cy="437.68" r="1.35" fill="#1c74b6" stroke="none" stroke-width="1" />
<circle cx="465.39" cy="443.83" r="1.35" fill="#1c74b6" stroke="none" stroke-width="1" />
<circle cx="465.78" cy="443.42" r="1.35" fill="#1c74b6" stroke="none" stroke-width="1" />
<circle cx="465.74" cy="447.53" r="1.35" fill="#1c74b6" stroke="none" stroke-width="1" />
<circle cx="465.95" cy="449.87" r="1.35" fill="#1c74b6" stroke="none" stroke-width="1" />
<circle cx="466.51" cy="449.95" r="1.35" fill="#1c74b6" stroke="none" stroke-width="1" />
<circle cx="466.91" cy="453.34" r="1.35" fill="#1c74b6" stroke="none" stroke-width="1" />
<circle cx="467.53" cy="445.61" r="1.35" fill="#1c74b6" stroke="none" stroke-width="1" />
<circle cx="467.98" cy="454.16" r="1.35" fill="#1c74b6" stroke="none" stroke-width="1" />
<circle cx="467.56" cy="448.36" r="1.35" fill="#1c74b6" stroke="none" stroke-width="1" />
<circle cx="467.93" cy="466.17" r="1.35" fill="#1c74b6" stroke="none" stroke-width="1" />
<circle cx="468.37" cy="457.53" r="1.35" fill="#1c74b6" stroke="none" stroke-width="1" />
<circle cx="468.63" cy="456.94" r="1.35" fill="#1c74b6" stroke="none" stroke-width="1" />
<circle cx="469.14" cy="461.21" r="1.35" fill="#1c74b6" stroke="none" stroke-width="1" />
<circle cx="469.46" cy="457.84" r="1.35" fill="#1c74b6" stroke="none" stroke-width="1" />
<circle cx="469.72" cy="460.65" r="1.35" fill="#1c74b6" stroke="none" stroke-width="1" />
<circle cx="470.32" cy="464.80" r="1.35" fill="#1c74b6" stroke="none" stroke-width="1" />
<circle cx="470.24" cy="463.78" r="1.35" fill="#1c74b6" stroke="none" stroke-width="1" />
<circle cx="470.33" cy="457.86" r="1.35" fill="#1c74b6" stroke="none" stroke-width="1" />
<circle cx="470.51" cy="466.66" r="1.35" fill="#1c74b6" stroke="none" stroke-width="1" />
<circle cx="470.97" cy="467.64" r="1.35" fill="#1c74b6" stroke="none" stroke-width="1" />
<circle cx="471.28" cy="470.78" r="1.35" fill="#1c74b6" stroke="none" stroke-width="1" />
<circle cx="471.37" cy="470.27" r="1.35" fill="#1c74b6" stroke="none" stroke-width="1" />
<circle cx="472.36" cy="475.04" r="1.35" fill="#1c74b6" stroke="none" stroke-width="1" />
<circle cx="472.55" cy="473.20" r="1.35" fill="#1c74b6" stroke="none" stroke-width="1" />
<circle cx="472.71" cy="467.63" r="1.35" fill="#1c74b6" stroke="none" stroke-width="1" />
<circle cx="472.90" cy="472.12" r="1.35" fill="#1c74b6" stroke="none" stroke-width="1" />
<circle cx="473.04" cy="474.15" r="1.35" fill="#1c74b6" stroke="none" stroke-width="1" />
<circle cx="473.53" cy="474.07" r="1.35" fill="#1c74b6" stroke="none" stroke-width="1" />
<circle cx="474.57" cy="473.32" r="1.35" fill="#1c74b6" stroke="none" stroke-width="1" />
<circle cx="473.82" cy="477.07" r="1.35" fill="#1c74b6" stroke="none" stroke-width="1" />
<circle cx="474.76" cy="474.85" r="1.35" fill="#1c74b6" stroke="none" stroke-width="1" />
<circle cx="475.23" cy="477.80" r="1.35" fill="#1c74b6" stroke="none" stroke-width="1" />
<circle cx="475.39" cy="480.40" r="1.35" fill="#1c74b6" stroke="none" stroke-width="1" />
<circle cx="475.59" cy="478.13" r="1.35" fill="#1c74b6" stroke="none" stroke-width="1" />
<circle cx="476.19" cy="486.56" r="1.35" fill="#1c74b6" stroke="none" stroke-width="1" />
<circle cx="476.02" cy="483.80" r="1.35" fill="#1c74b6" stroke="none" stroke-width="1" />
<circle cx="476.77" cy="482.86" r="1.35" fill="#1c74b6" stroke="none" stroke-width="1" />
<circle cx="477.32" cy="485.48" r="1.35" fill="#1c74b6" stroke="none" stroke-width="1" />
<circle cx="476.98" cy="484.63" r="1.35" fill="#1c74b6" stroke="none" stroke-width="1" />
<circle cx="477.36" cy="485.90" r="1.35" fill="#1c74b6" stroke="none" stroke-width="1" />
<circle cx="477.93" cy="486.35" r="1.35" fill="#1c74b6" stroke="none" stroke-width="1" />
<circle cx="478.47" cy="481.25" r="1.35" fill="#1c74b6" stroke="none" stroke-width="1" />
<circle cx="478.88" cy="485.06" r="1.35" fill="#1c74b6" stroke="none" stroke-width="1" />
<circle cx="479.02" cy="486.53" r="1.35" fill="#1c74b6" stroke="none" stroke-width="1" />
<circle cx="478.98" cy="484.75" r="1.35" fill="#1c74b6" stroke="none" stroke-width="1" />
<circle cx="479.18" cy="487.49" r="1.35" fill="#1c74b6" stroke="none" stroke-width="1" />
<circle cx="479.86" cy="486.11" r="1.35" fill="#1c74b6" stroke="none" stroke-width="1" />
<circle cx="480.21" cy="487.22" r="1.35" fill="#1c74b6" stroke="none" stroke-width="1" />
<circle cx="480.14" cy="485.63" r="1.35" fill="#1c74b6" stroke="none" stroke-width="1" />
<circle cx="480.76" cy="490.34" r="1.35" fill="#1c74b6" stroke="none" stroke-width="1" />
<circle cx="481.15" cy="487.43" r="1.35" fill="#1c74b6" stroke="none" stroke-width="1" />
<circle cx="481.65" cy="488.58" r="1.35" fill="#1c74b6" stroke="none" stroke-width="1" />
<circle cx="481.44" cy="490.60" r="1.35" fill="#1c74b6" stroke="none" stroke-width="1" />
<circle cx="482.16" cy="487.69" r="1.35" fill="#1c74b6" stroke="none" stroke-width="1" />
<circle cx="482.02" cy="490.56" r="1.35" fill="#1c74b6" stroke="none" stroke-width="1" />
<circle cx="482.53" cy="487.33" r="1.35" fill="#1c74b6" stroke="none" stroke-width="1" />
<circle cx="482.94" cy="489.01" r="1.35" fill="#1c74b6" stroke="none" stroke-width="1" />
<circle cx="483.68" cy="488.92" r="1.35" fill="#1c74b6" stroke="none" stroke-width="1" />
<circle cx="484.47" cy="489.89" r="1.35" fill="#1c74b6" stroke="none" stroke-width="1" />
<circle cx="483.98" cy="488.94" r="1.35" fill="#1c74b6" stroke="none" stroke-width="1" />
<circle cx="484.36" cy="491.10" r="1.35" fill="#1c74b6" stroke="none" stroke-width="1" />
<circle cx="484.81" cy="490.27" r="1.35" fill="#1c74b6" stroke="none" stroke-width="1" />
<circle cx="484.51" cy="491.10" r="1.35" fill="#1c74b6" stroke="none" stroke-width="1" />
<circle cx="485.38" cy="490.21" r="1.35" fill="#1c74b6" stroke="none" stroke-width="1" />
<circle cx="485.17" cy="490.72" r="1.35" fill="#1c74b6" stroke="none" stroke-width="1" />
<circle cx="486.24" cy="489.96" r="1.35" fill="#1c74b6" stroke="none" stroke-width="1" />
<circle cx="486.51" cy="491.10" r="1.35" fill="#1c74b6" stroke="none" stroke-width="1" />
<circle cx="486.58" cy="488.56" r="1.35" fill="#1c74b6" stroke="none" stroke-width="1" />
<circle cx="486.55" cy="488.02" r="1.35" fill="#1c74b6" stroke="none" stroke-width="1" />
<circle cx="487.52" cy="491.10" r="1.35" fill="#1c74b6" stroke="none" stroke-width="1" />
<circle cx="487.47" cy="491.08" r="1.35" fill="#1c74b6" stroke="none" stroke-width="1" />
<circle cx="487.75" cy="490.75" r="1.35" fill="#1c74b6" stroke="none" stroke-width="1" />
<circle cx="488.19" cy="489.57" r="1.35" fill="#1c74b6" stroke="none" stroke-width="1" />
<circle cx="487.90" cy="488.81" r="1.35" fill="#1c74b6" stroke="none" stroke-width="1" />
<circle cx="488.78" cy="491.10" r="1.35" fill="#1c74b6" stroke="none" stroke-width="1" />
<circle cx="489.25" cy="491.10" r="1.35" fill="#1c74b6" stroke="none" stroke-width="1" />
<circle cx="489.39" cy="491.10" r="1.35" fill="#1c74b6" stroke="none" stroke-width="1" />
<circle cx="489.66" cy="491.10" r="1.35" fill="#1c74b6" stroke="none" stroke-width="1" />
<circle cx="489.69" cy="491.10" r="1.35" fill="#1c74b6" stroke="none" stroke-width="1" />
<circle cx="490.42" cy="490.89" r="1.35" fill="#1c74b6" stroke="none" stroke-width="1" />
<circle cx="490.62" cy="491.10" r="1.35" fill="#1c74b6" stroke="none" stroke-width="1" />
<circle cx="490.89" cy="489.49" r="1.35" fill="#1c74b6" stroke="none" stroke-width="1" />
<circle cx="491.06" cy="490.24" r="1.35" fill="#1c74b6" stroke="none" stroke-width="1" />
<circle cx="491.75" cy="491.10" r="1.35" fill="#1c74b6" stroke="none" stroke-width="1" />
<circle cx="492.17" cy="491.10" r="1.35" fill="#1c74b6" stroke="none" stroke-width="1" />
<circle cx="492.26" cy="491.10" r="1.35" fill="#1c74b6" stroke="none" stroke-width="1" />
<circle cx="492.71" cy="489.64" r="1.35" fill="#1c74b6" stroke="none" stroke-width="1" />
<circle cx="493.14" cy="491.10" r="1.35" fill="#1c74b6" stroke="none" stroke-width="1" />
<circle cx="493.52" cy="491.10" r="1.35" fill="#1c74b6" stroke="none" stroke-width="1" />
<circle cx="493.48" cy="491.10" r="1.35" fill="#1c74b6" stroke="none" stroke-width="1" />
<circle cx="493.68" cy="490.92" r="1.35" fill="#1c74b6" stroke="none" stroke-width="1" />
<circle cx="493.95" cy="491.10" r="1.35" fill="#1c74b6" stroke="none" stroke-width="1" />
<circle cx="494.38" cy="489.34" r="1.35" fill="#1c74b6" stroke="none" stroke-width="1" />
<circle cx="494.84" cy="491.06" r="1.35" fill="#1c74b6" stroke="none" stroke-width="1" />
<circle cx="495.25" cy="490.78" r="1.35" fill="#1c74b6" stroke="none" stroke-width="1" />
<circle cx="495.21" cy="491.10" r="1.35" fill="#1c74b6" stroke="none" stroke-width="1" />
<circle cx="495.68" cy="491.10" r="1.35" fill="#1c74b6" stroke="none" stroke-width="1" />
<path d="M397.09,483.22 L397.40,482.93 L397.71,482.65 L398.02,482.36 L398.32,482.07 L398.63,481.78 L398.94,481.48 L399.25,481.19 L399.56,480.89 L399.87,480.59 L400.18,480.28 L400.49,479.98 L400.80,479.67 L401.11,479.36 L401.42,479.05 L401.73,478.73 L402.04,478.42 L402.35,478.10 L402.66,477.78 L402.97,477.45 L403.28,477.13 L403.59,476.80 L403.90,476.47 L404.21,476.14 L404.52,475.81 L404.83,475.49 L405.14,475.16 L405.45,474.84 L405.76,474.52 L406.07,474.21 L406.38,473.90 L406.69,473.60 L407.00,473.31 L407.31,473.02 L407.62,472.73 L407.93,472.46 L408.24,472.19 L408.55,471.93 L408.86,471.67 L409.17,471.43 L409.48,471.19 L409.79,470.96 L410.09,470.74 L410.40,470.53 L410.71,470.32 L411.02,470.12 L411.33,469.93 L411.64,469.74 L411.95,469.56 L412.26,469.38 L412.57,469.20 L412.88,469.03 L413.19,468.85 L413.50,468.67 L413.81,468.49 L414.12,468.31 L414.43,468.11 L414.74,467.92 L415.05,467.71 L415.36,467.49 L415.67,467.26 L415.98,466.97 L416.29,466.56 L416.60,466.06 L416.91,465.48 L417.22,464.84 L417.53,464.14 L417.84,463.41 L418.15,462.67 L418.46,461.92 L418.77,461.18 L419.08,460.47 L419.39,459.78 L419.70,459.06 L420.01,458.31 L420.32,457.50 L420.63,456.65 L420.94,455.75 L421.25,454.78 L421.56,453.75 L421.87,452.66 L422.17,451.50 L422.48,450.27 L422.79,448.96 L423.10,447.56 L423.41,446.09 L423.72,444.56 L424.03,442.99 L424.34,441.38 L424.65,439.76 L424.96,438.14 L425.27,436.54 L425.58,434.98 L425.89,433.43 L426.20,431.89 L426.51,430.36 L426.82,428.86 L427.13,427.39 L427.44,425.96 L427.75,424.59 L428.06,423.28 L428.37,422.04 L428.68,420.89 L428.99,419.84 L429.30,418.88 L429.61,418.02 L429.92,417.26 L430.23,416.61 L430.54,416.06 L430.85,415.62 L431.16,415.28 L431.47,415.03 L431.78,414.88 L432.09,414.83 L432.40,414.86 L432.71,414.99 L433.02,415.20 L433.33,415.50 L433.64,415.87 L433.94,416.31 L434.25,416.82 L434.56,417.39 L434.87,418.00 L435.18,418.66 L435.49,419.33 L435.80,420.01 L436.11,420.68 L436.42,421.34 L436.73,421.98 L437.04,422.59 L437.35,423.16 L437.66,423.68 L437.97,424.15 L438.28,424.56 L438.59,424.91 L438.90,425.19 L439.21,425.40 L439.52,425.54 L439.83,425.61 L440.14,425.60 L440.45,425.52 L440.76,425.36 L441.07,425.18 L441.38,425.04 L441.69,424.92 L442.00,424.80 L442.31,424.68 L442.62,424.53 L442.93,424.35 L443.24,424.11 L443.55,423.81 L443.86,423.42 L444.17,422.95 L444.48,422.36 L444.79,421.66 L445.10,420.84 L445.41,419.97 L445.72,419.07 L446.02,418.15 L446.33,417.22 L446.64,416.28 L446.95,415.34 L447.26,414.41 L447.57,413.50 L447.88,412.60 L448.19,411.73 L448.50,410.89 L448.81,410.09 L449.12,409.33 L449.43,408.62 L449.74,407.96 L450.05,407.34 L450.36,406.78 L450.67,406.28 L450.98,405.83 L451.29,405.46 L451.60,405.15 L451.91,404.92 L452.22,404.76 L452.53,404.68 L452.84,404.68 L453.15,404.76 L453.46,404.92 L453.77,405.16 L454.08,405.47 L454.39,405.86 L454.70,406.33 L455.01,406.86 L455.32,407.47 L455.63,408.14 L455.94,408.88 L456.25,409.68 L456.56,410.54 L456.87,411.46 L457.18,412.44 L457.49,413.46 L457.79,414.54 L458.10,415.66 L458.41,416.82 L458.72,418.02 L459.03,419.26 L459.34,420.53 L459.65,421.83 L459.96,423.15 L460.27,424.49 L460.58,425.85 L460.89,427.22 L461.20,428.60 L461.51,429.97 L461.82,431.29 L462.13,432.56 L462.44,433.77 L462.75,434.95 L463.06,436.10 L463.37,437.22 L463.68,438.33 L463.99,439.44 L464.30,440.55 L464.61,441.67 L464.92,442.82 L465.23,444.00 L465.54,445.21 L465.85,446.48 L466.16,447.81 L466.47,449.20 L466.78,450.60 L467.09,451.99 L467.40,453.36 L467.71,454.71 L468.02,456.05 L468.33,457.36 L468.64,458.65 L468.95,459.92 L469.26,461.17 L469.57,462.39 L469.87,463.58 L470.18,464.75 L470.49,465.89 L470.80,467.00 L471.11,468.08 L471.42,469.13 L471.73,470.17 L472.04,471.20 L472.35,472.22 L472.66,473.21 L472.97,474.18 L473.28,475.13 L473.59,476.05 L473.90,476.95 L474.21,477.82 L474.52,478.65 L474.83,479.45 L475.14,480.22 L475.45,480.95 L475.76,481.64 L476.07,482.28 L476.38,482.89 L476.69,483.45 L477.00,483.96 L477.31,484.44 L477.62,484.88 L477.93,485.31 L478.24,485.71 L478.55,486.10 L478.86,486.46 L479.17,486.80 L479.48,487.13 L479.79,487.44 L480.10,487.73 L480.41,488.00 L480.72,488.26 L481.03,488.50 L481.34,488.73 L481.64,488.94 L481.95,489.14 L482.26,489.33 L482.57,489.50 L482.88,489.66 L483.19,489.82 L483.50,489.96 L483.81,490.09 L484.12,490.22 L484.43,490.33 L484.74,490.44 L485.05,490.53 L485.36,490.62 L485.67,490.71 L485.98,490.79 L486.29,490.86 L486.60,490.92 L486.91,490.98 L487.22,491.03 L487.53,491.08 L487.84,491.13 L488.15,491.17 L488.46,491.20 L488.77,491.24 L489.08,491.27 L489.39,491.29 L489.70,491.31 L490.01,491.33 L490.32,491.35 L490.63,491.36 L490.94,491.37 L491.25,491.38 L491.56,491.39 L491.87,491.39 L492.18,491.40 L492.49,491.40 L492.80,491.40 L493.11,491.39 L493.42,491.39 L493.72,491.38 L494.03,491.38 L494.34,491.37 L494.65,491.36 L494.96,491.35 L495.27,491.34 L495.58,491.32 L495.89,491.31" fill="none" stroke="#000" stroke-width="1.6" stroke-linejoin="round"/>
<path d="M397.09,483.36 L397.41,483.06 L397.74,482.75 L398.06,482.44 L398.39,482.12 L398.71,481.80 L399.04,481.47 L399.36,481.14 L399.69,480.80 L400.01,480.46 L400.34,480.12 L400.67,479.77 L400.99,479.43 L401.32,479.08 L401.64,478.72 L401.97,478.37 L402.29,478.01 L402.62,477.66 L402.94,477.30 L403.27,476.95 L403.59,476.59 L403.92,476.24 L404.24,475.89 L404.57,475.55 L404.90,475.20 L405.22,474.86 L405.55,474.53 L405.87,474.20 L406.20,473.87 L406.52,473.56 L406.85,473.24 L407.17,472.94 L407.50,472.64 L407.82,472.36 L408.15,472.08 L408.47,471.81 L408.80,471.55 L409.13,471.30 L409.45,471.06 L409.78,470.83 L410.10,470.62 L410.43,470.42 L410.75,470.23 L411.08,470.05 L411.40,469.89 L411.73,469.74 L412.05,469.60 L412.38,469.48 L412.71,469.38 L413.03,469.29 L413.36,469.21 L413.68,469.15 L414.01,469.10 L414.33,469.07 L414.66,469.06 L414.98,469.06 L415.31,469.08 L415.63,469.13 L415.96,469.19 L416.28,469.27 L416.61,469.37 L416.94,469.50 L417.26,469.64 L417.59,469.80 L417.91,469.97 L418.24,470.17 L418.56,470.38 L418.89,470.61 L419.21,470.86 L419.54,471.12 L419.86,471.40 L420.19,471.69 L420.51,471.99 L420.84,472.31 L421.17,472.63 L421.49,472.97 L421.82,473.32 L422.14,473.68 L422.47,474.05 L422.79,474.42 L423.12,474.81 L423.44,475.19 L423.77,475.59 L424.09,475.98 L424.42,476.38 L424.75,476.79 L425.07,477.19 L425.40,477.60 L425.72,478.00 L426.05,478.41 L426.37,478.81 L426.70,479.22 L427.02,479.62 L427.35,480.01 L427.67,480.40 L428.00,480.79 L428.32,481.18 L428.65,481.55 L428.98,481.93 L429.30,482.29 L429.63,482.65 L429.95,483.00 L430.28,483.35 L430.60,483.68 L430.93,484.01 L431.25,484.33 L431.58,484.64 L431.90,484.95 L432.23,485.24 L432.55,485.53 L432.88,485.80 L433.21,486.07 L433.53,486.33 L433.86,486.58 L434.18,486.82 L434.51,487.05 L434.83,487.27 L435.16,487.48 L435.48,487.69 L435.81,487.88 L436.13,488.07 L436.46,488.25 L436.79,488.42 L437.11,488.59 L437.44,488.74 L437.76,488.89 L438.09,489.03 L438.41,489.16 L438.74,489.29 L439.06,489.41 L439.39,489.52 L439.71,489.63 L440.04,489.73 L440.36,489.82 L440.69,489.91 L441.02,490.00 L441.34,490.08 L441.67,490.15 L441.99,490.22 L442.32,490.29 L442.64,490.35 L442.97,490.41 L443.29,490.46 L443.62,490.51 L443.94,490.56 L444.27,490.60 L444.59,490.64 L444.92,490.68 L445.25,490.71 L445.57,490.74 L445.90,490.77 L446.22,490.80 L446.55,490.83 L446.87,490.85 L447.20,490.87 L447.52,490.89 L447.85,490.91 L448.17,490.93 L448.50,490.94 L448.83,490.96 L449.15,490.97 L449.48,490.98 L449.80,490.99 L450.13,491.00 L450.45,491.01 L450.78,491.02 L451.10,491.03 L451.43,491.04 L451.75,491.04 L452.08,491.05 L452.40,491.05 L452.73,491.06 L453.06,491.06 L453.38,491.07 L453.71,491.07 L454.03,491.07 L454.36,491.08 L454.68,491.08 L455.01,491.08 L455.33,491.08 L455.66,491.08 L455.98,491.09 L456.31,491.09 L456.63,491.09 L456.96,491.09 L457.29,491.09 L457.61,491.09 L457.94,491.09 L458.26,491.09 L458.59,491.09 L458.91,491.10 L459.24,491.10 L459.56,491.10 L459.89,491.10 L460.21,491.10 L460.54,491.10 L460.87,491.10 L461.19,491.10 L461.52,491.10 L461.84,491.10 L462.17,491.10 L462.49,491.10 L462.82,491.10 L463.14,491.10 L463.47,491.10 L463.79,491.10 L464.12,491.10 L464.44,491.10 L464.77,491.10 L465.10,491.10 L465.42,491.10 L465.75,491.10 L466.07,491.10 L466.40,491.10 L466.72,491.10 L467.05,491.10 L467.37,491.10 L467.70,491.10 L468.02,491.10 L468.35,491.10" fill="none" stroke="#d01c1c" stroke-width="1.4"/>
<path d="M410.42,490.99 L410.68,490.97 L410.95,490.95 L411.21,490.92 L411.48,490.89 L411.74,490.86 L412.01,490.82 L412.27,490.78 L412.54,490.73 L412.80,490.67 L413.07,490.61 L413.33,490.54 L413.59,490.46 L413.86,490.37 L414.12,490.27 L414.39,490.15 L414.65,490.02 L414.92,489.88 L415.18,489.72 L415.45,489.55 L415.71,489.35 L415.98,489.13 L416.24,488.89 L416.50,488.63 L416.77,488.34 L417.03,488.03 L417.30,487.68 L417.56,487.31 L417.83,486.90 L418.09,486.45 L418.36,485.97 L418.62,485.45 L418.88,484.89 L419.15,484.29 L419.41,483.65 L419.68,482.96 L419.94,482.23 L420.21,481.45 L420.47,480.62 L420.74,479.74 L421.00,478.81 L421.27,477.84 L421.53,476.82 L421.79,475.74 L422.06,474.63 L422.32,473.46 L422.59,472.25 L422.85,471.00 L423.12,469.71 L423.38,468.38 L423.65,467.02 L423.91,465.62 L424.18,464.20 L424.44,462.76 L424.70,461.30 L424.97,459.83 L425.23,458.35 L425.50,456.87 L425.76,455.39 L426.03,453.93 L426.29,452.48 L426.56,451.06 L426.82,449.67 L427.08,448.31 L427.35,447.00 L427.61,445.75 L427.88,444.55 L428.14,443.41 L428.41,442.34 L428.67,441.35 L428.94,440.44 L429.20,439.62 L429.47,438.89 L429.73,438.26 L429.99,437.72 L430.26,437.29 L430.52,436.97 L430.79,436.75 L431.05,436.64 L431.32,436.64 L431.58,436.74 L431.85,436.96 L432.11,437.29 L432.38,437.72 L432.64,438.25 L432.90,438.88 L433.17,439.61 L433.43,440.43 L433.70,441.33 L433.96,442.32 L434.23,443.39 L434.49,444.52 L434.76,445.72 L435.02,446.98 L435.28,448.29 L435.55,449.64 L435.81,451.03 L436.08,452.45 L436.34,453.90 L436.61,455.37 L436.87,456.84 L437.14,458.32 L437.40,459.80 L437.67,461.27 L437.93,462.73 L438.19,464.18 L438.46,465.60 L438.72,466.99 L438.99,468.35 L439.25,469.68 L439.52,470.98 L439.78,472.23 L440.05,473.44 L440.31,474.60 L440.58,475.72 L440.84,476.80 L441.10,477.82 L441.37,478.80 L441.63,479.72 L441.90,480.60 L442.16,481.43 L442.43,482.21 L442.69,482.95 L442.96,483.64 L443.22,484.28 L443.48,484.88 L443.75,485.44 L444.01,485.96 L444.28,486.44 L444.54,486.89 L444.81,487.30 L445.07,487.68 L445.34,488.02 L445.60,488.34 L445.87,488.63 L446.13,488.89 L446.39,489.13 L446.66,489.35 L446.92,489.54 L447.19,489.72 L447.45,489.88 L447.72,490.02 L447.98,490.15 L448.25,490.26 L448.51,490.37 L448.78,490.46 L449.04,490.54 L449.30,490.61 L449.57,490.67 L449.83,490.73 L450.10,490.78 L450.36,490.82 L450.63,490.86 L450.89,490.89 L451.16,490.92 L451.42,490.95 L451.68,490.97 L451.95,490.99 L452.21,491.00 L452.48,491.02 L452.74,491.03 L453.01,491.04 L453.27,491.05 L453.54,491.06 L453.80,491.06 L454.07,491.07 L454.33,491.08 L454.59,491.08 L454.86,491.08 L455.12,491.09 L455.39,491.09 L455.65,491.09 L455.92,491.09 L456.18,491.09 L456.45,491.09 L456.71,491.10 L456.98,491.10 L457.24,491.10 L457.50,491.10 L457.77,491.10 L458.03,491.10 L458.30,491.10 L458.56,491.10 L458.83,491.10 L459.09,491.10 L459.36,491.10 L459.62,491.10 L459.88,491.10 L460.15,491.10 L460.41,491.10 L460.68,491.10 L460.94,491.10 L461.21,491.10 L461.47,491.10 L461.74,491.10 L462.00,491.10 L462.27,491.10 L462.53,491.10 L462.79,491.10 L463.06,491.10 L463.32,491.10 L463.59,491.10 L463.85,491.10 L464.12,491.10 L464.38,491.10 L464.65,491.10 L464.91,491.10 L465.18,491.10 L465.44,491.10 L465.70,491.10 L465.97,491.10 L466.23,491.10 L466.50,491.10 L466.76,491.10 L467.03,491.10 L467.29,491.10 L467.56,491.10 L467.82,491.10 L468.08,491.10 L468.35,491.10" fill="none" stroke="#d01c1c" stroke-width="1.4"/>
<path d="M422.66,490.02 L422.94,489.93 L423.22,489.83 L423.50,489.73 L423.78,489.61 L424.06,489.49 L424.34,489.37 L424.63,489.23 L424.91,489.08 L425.19,488.93 L425.47,488.76 L425.75,488.59 L426.03,488.40 L426.31,488.20 L426.59,487.98 L426.87,487.76 L427.15,487.52 L427.43,487.27 L427.71,487.00 L427.99,486.71 L428.27,486.41 L428.55,486.10 L428.83,485.76 L429.11,485.41 L429.39,485.04 L429.67,484.65 L429.95,484.23 L430.24,483.80 L430.52,483.35 L430.80,482.87 L431.08,482.38 L431.36,481.86 L431.64,481.31 L431.92,480.74 L432.20,480.15 L432.48,479.53 L432.76,478.88 L433.04,478.21 L433.32,477.51 L433.60,476.79 L433.88,476.03 L434.16,475.25 L434.44,474.44 L434.72,473.60 L435.00,472.74 L435.28,471.84 L435.56,470.92 L435.84,469.97 L436.13,468.99 L436.41,467.98 L436.69,466.94 L436.97,465.88 L437.25,464.79 L437.53,463.67 L437.81,462.53 L438.09,461.36 L438.37,460.16 L438.65,458.94 L438.93,457.70 L439.21,456.44 L439.49,455.16 L439.77,453.85 L440.05,452.53 L440.33,451.19 L440.61,449.83 L440.89,448.46 L441.17,447.08 L441.45,445.68 L441.74,444.28 L442.02,442.87 L442.30,441.45 L442.58,440.03 L442.86,438.61 L443.14,437.19 L443.42,435.77 L443.70,434.36 L443.98,432.96 L444.26,431.56 L444.54,430.18 L444.82,428.81 L445.10,427.45 L445.38,426.12 L445.66,424.81 L445.94,423.52 L446.22,422.26 L446.50,421.02 L446.78,419.82 L447.06,418.65 L447.34,417.52 L447.63,416.42 L447.91,415.37 L448.19,414.35 L448.47,413.38 L448.75,412.46 L449.03,411.59 L449.31,410.76 L449.59,409.99 L449.87,409.27 L450.15,408.61 L450.43,408.00 L450.71,407.45 L450.99,406.97 L451.27,406.54 L451.55,406.17 L451.83,405.86 L452.11,405.62 L452.39,405.44 L452.67,405.32 L452.95,405.27 L453.24,405.28 L453.52,405.34 L453.80,405.46 L454.08,405.64 L454.36,405.88 L454.64,406.17 L454.92,406.51 L455.20,406.91 L455.48,407.36 L455.76,407.87 L456.04,408.42 L456.32,409.03 L456.60,409.68 L456.88,410.38 L457.16,411.13 L457.44,411.93 L457.72,412.77 L458.00,413.65 L458.28,414.57 L458.56,415.53 L458.84,416.53 L459.13,417.56 L459.41,418.63 L459.69,419.72 L459.97,420.85 L460.25,422.00 L460.53,423.18 L460.81,424.39 L461.09,425.62 L461.37,426.86 L461.65,428.12 L461.93,429.40 L462.21,430.70 L462.49,432.00 L462.77,433.32 L463.05,434.64 L463.33,435.97 L463.61,437.30 L463.89,438.64 L464.17,439.97 L464.45,441.31 L464.74,442.64 L465.02,443.97 L465.30,445.29 L465.58,446.60 L465.86,447.91 L466.14,449.20 L466.42,450.48 L466.70,451.75 L466.98,453.00 L467.26,454.24 L467.54,455.46 L467.82,456.67 L468.10,457.85 L468.38,459.02 L468.66,460.16 L468.94,461.28 L469.22,462.39 L469.50,463.47 L469.78,464.52 L470.06,465.55 L470.34,466.56 L470.63,467.55 L470.91,468.51 L471.19,469.44 L471.47,470.35 L471.75,471.24 L472.03,472.10 L472.31,472.93 L472.59,473.74 L472.87,474.52 L473.15,475.28 L473.43,476.02 L473.71,476.73 L473.99,477.41 L474.27,478.07 L474.55,478.71 L474.83,479.32 L475.11,479.91 L475.39,480.48 L475.67,481.03 L475.95,481.55 L476.23,482.06 L476.52,482.54 L476.80,483.00 L477.08,483.44 L477.36,483.86 L477.64,484.27 L477.92,484.65 L478.20,485.02 L478.48,485.37 L478.76,485.70 L479.04,486.02 L479.32,486.32 L479.60,486.61 L479.88,486.88 L480.16,487.14 L480.44,487.39 L480.72,487.62 L481.00,487.84 L481.28,488.05 L481.56,488.25 L481.84,488.43 L482.13,488.61 L482.41,488.77 L482.69,488.93 L482.97,489.07 L483.25,489.21 L483.53,489.34 L483.81,489.46 L484.09,489.58" fill="none" stroke="#d01c1c" stroke-width="1.4"/>
<text x="431.80" y="463.70" font-size="14.5" text-anchor="middle" fill="#000" >*</text>
<line x1="569.60" y1="383.00" x2="569.60" y2="494.10" stroke="#000" stroke-width="1.2" />
<line x1="569.00" y1="494.10" x2="682.50" y2="494.10" stroke="#000" stroke-width="1.2" />
<line x1="560.20" y1="491.10" x2="569.60" y2="491.10" stroke="#000" stroke-width="1.2" />
<text x="556.20" y="495.60" font-size="12.5" text-anchor="end" fill="#000" >0.0</text>
<line x1="560.20" y1="473.18" x2="569.60" y2="473.18" stroke="#000" stroke-width="1.2" />
<text id="t1_31" x="556.20" y="477.68" font-size="12.5" text-anchor="end" fill="#000" >0. </text>
<path d="M590,0 L590,1130 L230,905 L230,1075 L620,1409 L770,1409 L770,0 Z" transform="translate(549.231,477.680) scale(0.00610,-0.00610)" fill="#000" stroke="#000" stroke-width="41.0"/>
<line x1="560.20" y1="455.26" x2="569.60" y2="455.26" stroke="#000" stroke-width="1.2" />
<text x="556.20" y="459.76" font-size="12.5" text-anchor="end" fill="#000" >0.2</text>
<line x1="560.20" y1="437.34" x2="569.60" y2="437.34" stroke="#000" stroke-width="1.2" />
<text x="556.20" y="441.84" font-size="12.5" text-anchor="end" fill="#000" >0.3</text>
<line x1="560.20" y1="419.42" x2="569.60" y2="419.42" stroke="#000" stroke-width="1.2" />
<text x="556.20" y="423.92" font-size="12.5" text-anchor="end" fill="#000" >0.4</text>
<line x1="560.20" y1="401.50" x2="569.60" y2="401.50" stroke="#000" stroke-width="1.2" />
<text x="556.20" y="406.00" font-size="12.5" text-anchor="end" fill="#000" >0.5</text>
<line x1="560.20" y1="383.58" x2="569.60" y2="383.58" stroke="#000" stroke-width="1.2" />
<text x="556.20" y="388.08" font-size="12.5" text-anchor="end" fill="#000" >0.6</text>
<line x1="572.60" y1="494.10" x2="572.60" y2="503.70" stroke="#000" stroke-width="1.2" />
<text x="572.80" y="516.00" font-size="12.5" text-anchor="middle" fill="#000" >-5</text>
<line x1="594.46" y1="494.10" x2="594.46" y2="503.70" stroke="#000" stroke-width="1.2" />
<text x="594.66" y="516.00" font-size="12.5" text-anchor="middle" fill="#000" >-4</text>
<line x1="616.32" y1="494.10" x2="616.32" y2="503.70" stroke="#000" stroke-width="1.2" />
<text x="616.52" y="516.00" font-size="12.5" text-anchor="middle" fill="#000" >-3</text>
<line x1="638.18" y1="494.10" x2="638.18" y2="503.70" stroke="#000" stroke-width="1.2" />
<text x="638.38" y="516.00" font-size="12.5" text-anchor="middle" fill="#000" >-2</text>
<line x1="660.04" y1="494.10" x2="660.04" y2="503.70" stroke="#000" stroke-width="1.2" />
<text id="t1_32" x="660.24" y="516.00" font-size="12.5" text-anchor="middle" fill="#000" >- </text>
<path d="M590,0 L590,1130 L230,905 L230,1075 L620,1409 L770,1409 L770,0 Z" transform="translate(658.834,516.000) scale(0.00610,-0.00610)" fill="#000" stroke="#000" stroke-width="41.0"/>
<line x1="681.90" y1="494.10" x2="681.90" y2="503.70" stroke="#000" stroke-width="1.2" />
<text x="682.10" y="516.00" font-size="12.5" text-anchor="middle" fill="#000" >0</text>
<text x="591.84" y="533.0" font-size="12.3">log D (<tspan font-family="Liberation Serif" font-size="13">μ</tspan>m<tspan font-size="8.5" dy="-6">2</tspan><tspan dy="6">/s)</tspan></text>
<text transform="translate(531.40,441.5) rotate(-90)" font-size="11" text-anchor="middle">Proportion (%)</text>
<text x="586.30" y="392.50" font-size="12.3" text-anchor="start" fill="#000" >Stx2 KD</text>
<circle cx="583.41" cy="481.53" r="1.35" fill="#f23c3c" stroke="none" stroke-width="1" />
<circle cx="583.79" cy="480.09" r="1.35" fill="#f23c3c" stroke="none" stroke-width="1" />
<circle cx="584.43" cy="482.54" r="1.35" fill="#f23c3c" stroke="none" stroke-width="1" />
<circle cx="584.20" cy="478.67" r="1.35" fill="#f23c3c" stroke="none" stroke-width="1" />
<circle cx="585.51" cy="480.45" r="1.35" fill="#f23c3c" stroke="none" stroke-width="1" />
<circle cx="585.14" cy="482.41" r="1.35" fill="#f23c3c" stroke="none" stroke-width="1" />
<circle cx="585.59" cy="479.96" r="1.35" fill="#f23c3c" stroke="none" stroke-width="1" />
<circle cx="586.33" cy="476.77" r="1.35" fill="#f23c3c" stroke="none" stroke-width="1" />
<circle cx="586.23" cy="476.81" r="1.35" fill="#f23c3c" stroke="none" stroke-width="1" />
<circle cx="586.58" cy="479.58" r="1.35" fill="#f23c3c" stroke="none" stroke-width="1" />
<circle cx="586.65" cy="475.06" r="1.35" fill="#f23c3c" stroke="none" stroke-width="1" />
<circle cx="587.14" cy="476.13" r="1.35" fill="#f23c3c" stroke="none" stroke-width="1" />
<circle cx="587.06" cy="474.37" r="1.35" fill="#f23c3c" stroke="none" stroke-width="1" />
<circle cx="587.63" cy="474.02" r="1.35" fill="#f23c3c" stroke="none" stroke-width="1" />
<circle cx="587.98" cy="477.06" r="1.35" fill="#f23c3c" stroke="none" stroke-width="1" />
<circle cx="588.03" cy="472.81" r="1.35" fill="#f23c3c" stroke="none" stroke-width="1" />
<circle cx="588.87" cy="474.63" r="1.35" fill="#f23c3c" stroke="none" stroke-width="1" />
<circle cx="589.04" cy="468.57" r="1.35" fill="#f23c3c" stroke="none" stroke-width="1" />
<circle cx="588.75" cy="470.06" r="1.35" fill="#f23c3c" stroke="none" stroke-width="1" />
<circle cx="589.76" cy="471.23" r="1.35" fill="#f23c3c" stroke="none" stroke-width="1" />
<circle cx="589.63" cy="473.40" r="1.35" fill="#f23c3c" stroke="none" stroke-width="1" />
<circle cx="590.34" cy="470.03" r="1.35" fill="#f23c3c" stroke="none" stroke-width="1" />
<circle cx="590.30" cy="469.15" r="1.35" fill="#f23c3c" stroke="none" stroke-width="1" />
<circle cx="590.73" cy="472.40" r="1.35" fill="#f23c3c" stroke="none" stroke-width="1" />
<circle cx="591.25" cy="462.14" r="1.35" fill="#f23c3c" stroke="none" stroke-width="1" />
<circle cx="591.97" cy="466.76" r="1.35" fill="#f23c3c" stroke="none" stroke-width="1" />
<circle cx="591.38" cy="462.41" r="1.35" fill="#f23c3c" stroke="none" stroke-width="1" />
<circle cx="592.00" cy="470.10" r="1.35" fill="#f23c3c" stroke="none" stroke-width="1" />
<circle cx="592.32" cy="461.40" r="1.35" fill="#f23c3c" stroke="none" stroke-width="1" />
<circle cx="593.01" cy="469.89" r="1.35" fill="#f23c3c" stroke="none" stroke-width="1" />
<circle cx="592.98" cy="467.26" r="1.35" fill="#f23c3c" stroke="none" stroke-width="1" />
<circle cx="593.47" cy="463.08" r="1.35" fill="#f23c3c" stroke="none" stroke-width="1" />
<circle cx="594.03" cy="464.12" r="1.35" fill="#f23c3c" stroke="none" stroke-width="1" />
<circle cx="594.19" cy="471.25" r="1.35" fill="#f23c3c" stroke="none" stroke-width="1" />
<circle cx="594.20" cy="466.84" r="1.35" fill="#f23c3c" stroke="none" stroke-width="1" />
<circle cx="594.51" cy="460.12" r="1.35" fill="#f23c3c" stroke="none" stroke-width="1" />
<circle cx="594.87" cy="455.55" r="1.35" fill="#f23c3c" stroke="none" stroke-width="1" />
<circle cx="595.30" cy="458.89" r="1.35" fill="#f23c3c" stroke="none" stroke-width="1" />
<circle cx="595.35" cy="462.37" r="1.35" fill="#f23c3c" stroke="none" stroke-width="1" />
<circle cx="595.88" cy="458.33" r="1.35" fill="#f23c3c" stroke="none" stroke-width="1" />
<circle cx="596.36" cy="464.46" r="1.35" fill="#f23c3c" stroke="none" stroke-width="1" />
<circle cx="596.41" cy="458.43" r="1.35" fill="#f23c3c" stroke="none" stroke-width="1" />
<circle cx="596.72" cy="464.44" r="1.35" fill="#f23c3c" stroke="none" stroke-width="1" />
<circle cx="597.24" cy="459.47" r="1.35" fill="#f23c3c" stroke="none" stroke-width="1" />
<circle cx="597.69" cy="459.55" r="1.35" fill="#f23c3c" stroke="none" stroke-width="1" />
<circle cx="597.44" cy="455.94" r="1.35" fill="#f23c3c" stroke="none" stroke-width="1" />
<circle cx="597.85" cy="459.52" r="1.35" fill="#f23c3c" stroke="none" stroke-width="1" />
<circle cx="598.77" cy="453.87" r="1.35" fill="#f23c3c" stroke="none" stroke-width="1" />
<circle cx="598.74" cy="458.56" r="1.35" fill="#f23c3c" stroke="none" stroke-width="1" />
<circle cx="598.78" cy="454.56" r="1.35" fill="#f23c3c" stroke="none" stroke-width="1" />
<circle cx="599.41" cy="454.44" r="1.35" fill="#f23c3c" stroke="none" stroke-width="1" />
<circle cx="600.11" cy="463.71" r="1.35" fill="#f23c3c" stroke="none" stroke-width="1" />
<circle cx="599.85" cy="456.59" r="1.35" fill="#f23c3c" stroke="none" stroke-width="1" />
<circle cx="600.08" cy="456.31" r="1.35" fill="#f23c3c" stroke="none" stroke-width="1" />
<circle cx="600.58" cy="459.03" r="1.35" fill="#f23c3c" stroke="none" stroke-width="1" />
<circle cx="601.38" cy="455.18" r="1.35" fill="#f23c3c" stroke="none" stroke-width="1" />
<circle cx="601.11" cy="460.99" r="1.35" fill="#f23c3c" stroke="none" stroke-width="1" />
<circle cx="601.74" cy="453.16" r="1.35" fill="#f23c3c" stroke="none" stroke-width="1" />
<circle cx="602.18" cy="453.04" r="1.35" fill="#f23c3c" stroke="none" stroke-width="1" />
<circle cx="602.39" cy="453.55" r="1.35" fill="#f23c3c" stroke="none" stroke-width="1" />
<circle cx="602.46" cy="444.95" r="1.35" fill="#f23c3c" stroke="none" stroke-width="1" />
<circle cx="603.04" cy="452.80" r="1.35" fill="#f23c3c" stroke="none" stroke-width="1" />
<circle cx="603.23" cy="453.64" r="1.35" fill="#f23c3c" stroke="none" stroke-width="1" />
<circle cx="603.71" cy="456.49" r="1.35" fill="#f23c3c" stroke="none" stroke-width="1" />
<circle cx="603.92" cy="452.25" r="1.35" fill="#f23c3c" stroke="none" stroke-width="1" />
<circle cx="604.17" cy="456.93" r="1.35" fill="#f23c3c" stroke="none" stroke-width="1" />
<circle cx="604.00" cy="447.94" r="1.35" fill="#f23c3c" stroke="none" stroke-width="1" />
<circle cx="604.94" cy="455.24" r="1.35" fill="#f23c3c" stroke="none" stroke-width="1" />
<circle cx="605.05" cy="451.82" r="1.35" fill="#f23c3c" stroke="none" stroke-width="1" />
<circle cx="604.86" cy="444.29" r="1.35" fill="#f23c3c" stroke="none" stroke-width="1" />
<circle cx="605.71" cy="447.27" r="1.35" fill="#f23c3c" stroke="none" stroke-width="1" />
<circle cx="606.11" cy="450.59" r="1.35" fill="#f23c3c" stroke="none" stroke-width="1" />
<circle cx="606.32" cy="445.55" r="1.35" fill="#f23c3c" stroke="none" stroke-width="1" />
<circle cx="606.03" cy="450.89" r="1.35" fill="#f23c3c" stroke="none" stroke-width="1" />
<circle cx="606.80" cy="446.86" r="1.35" fill="#f23c3c" stroke="none" stroke-width="1" />
<circle cx="607.05" cy="449.49" r="1.35" fill="#f23c3c" stroke="none" stroke-width="1" />
<circle cx="607.54" cy="452.77" r="1.35" fill="#f23c3c" stroke="none" stroke-width="1" />
<circle cx="607.34" cy="446.50" r="1.35" fill="#f23c3c" stroke="none" stroke-width="1" />
<circle cx="608.33" cy="443.67" r="1.35" fill="#f23c3c" stroke="none" stroke-width="1" />
<circle cx="608.71" cy="448.52" r="1.35" fill="#f23c3c" stroke="none" stroke-width="1" />
<circle cx="609.04" cy="451.16" r="1.35" fill="#f23c3c" stroke="none" stroke-width="1" />
<circle cx="609.19" cy="448.03" r="1.35" fill="#f23c3c" stroke="none" stroke-width="1" />
<circle cx="609.50" cy="455.70" r="1.35" fill="#f23c3c" stroke="none" stroke-width="1" />
<circle cx="610.10" cy="447.17" r="1.35" fill="#f23c3c" stroke="none" stroke-width="1" />
<circle cx="610.27" cy="448.73" r="1.35" fill="#f23c3c" stroke="none" stroke-width="1" />
<circle cx="610.36" cy="433.92" r="1.35" fill="#f23c3c" stroke="none" stroke-width="1" />
<circle cx="610.87" cy="445.27" r="1.35" fill="#f23c3c" stroke="none" stroke-width="1" />
<circle cx="611.29" cy="449.29" r="1.35" fill="#f23c3c" stroke="none" stroke-width="1" />
<circle cx="611.74" cy="437.36" r="1.35" fill="#f23c3c" stroke="none" stroke-width="1" />
<circle cx="611.86" cy="441.73" r="1.35" fill="#f23c3c" stroke="none" stroke-width="1" />
<circle cx="611.85" cy="440.08" r="1.35" fill="#f23c3c" stroke="none" stroke-width="1" />
<circle cx="612.25" cy="438.82" r="1.35" fill="#f23c3c" stroke="none" stroke-width="1" />
<circle cx="612.75" cy="438.14" r="1.35" fill="#f23c3c" stroke="none" stroke-width="1" />
<circle cx="613.09" cy="440.45" r="1.35" fill="#f23c3c" stroke="none" stroke-width="1" />
<circle cx="613.59" cy="433.29" r="1.35" fill="#f23c3c" stroke="none" stroke-width="1" />
<circle cx="613.15" cy="434.86" r="1.35" fill="#f23c3c" stroke="none" stroke-width="1" />
<circle cx="613.77" cy="439.44" r="1.35" fill="#f23c3c" stroke="none" stroke-width="1" />
<circle cx="613.98" cy="437.27" r="1.35" fill="#f23c3c" stroke="none" stroke-width="1" />
<circle cx="614.88" cy="440.70" r="1.35" fill="#f23c3c" stroke="none" stroke-width="1" />
<circle cx="615.11" cy="433.88" r="1.35" fill="#f23c3c" stroke="none" stroke-width="1" />
<circle cx="615.32" cy="430.98" r="1.35" fill="#f23c3c" stroke="none" stroke-width="1" />
<circle cx="615.76" cy="430.91" r="1.35" fill="#f23c3c" stroke="none" stroke-width="1" />
<circle cx="615.72" cy="430.59" r="1.35" fill="#f23c3c" stroke="none" stroke-width="1" />
<circle cx="616.32" cy="434.04" r="1.35" fill="#f23c3c" stroke="none" stroke-width="1" />
<circle cx="616.51" cy="424.54" r="1.35" fill="#f23c3c" stroke="none" stroke-width="1" />
<circle cx="616.84" cy="433.66" r="1.35" fill="#f23c3c" stroke="none" stroke-width="1" />
<circle cx="617.10" cy="432.04" r="1.35" fill="#f23c3c" stroke="none" stroke-width="1" />
<circle cx="617.70" cy="433.71" r="1.35" fill="#f23c3c" stroke="none" stroke-width="1" />
<circle cx="618.04" cy="431.19" r="1.35" fill="#f23c3c" stroke="none" stroke-width="1" />
<circle cx="617.71" cy="432.72" r="1.35" fill="#f23c3c" stroke="none" stroke-width="1" />
<circle cx="618.26" cy="420.19" r="1.35" fill="#f23c3c" stroke="none" stroke-width="1" />
<circle cx="618.74" cy="428.81" r="1.35" fill="#f23c3c" stroke="none" stroke-width="1" />
<circle cx="619.18" cy="440.26" r="1.35" fill="#f23c3c" stroke="none" stroke-width="1" />
<circle cx="618.93" cy="433.43" r="1.35" fill="#f23c3c" stroke="none" stroke-width="1" />
<circle cx="619.43" cy="438.81" r="1.35" fill="#f23c3c" stroke="none" stroke-width="1" />
<circle cx="619.90" cy="426.32" r="1.35" fill="#f23c3c" stroke="none" stroke-width="1" />
<circle cx="620.76" cy="423.69" r="1.35" fill="#f23c3c" stroke="none" stroke-width="1" />
<circle cx="620.39" cy="433.71" r="1.35" fill="#f23c3c" stroke="none" stroke-width="1" />
<circle cx="620.83" cy="428.01" r="1.35" fill="#f23c3c" stroke="none" stroke-width="1" />
<circle cx="621.24" cy="432.59" r="1.35" fill="#f23c3c" stroke="none" stroke-width="1" />
<circle cx="621.54" cy="429.36" r="1.35" fill="#f23c3c" stroke="none" stroke-width="1" />
<circle cx="621.93" cy="422.32" r="1.35" fill="#f23c3c" stroke="none" stroke-width="1" />
<circle cx="622.19" cy="433.72" r="1.35" fill="#f23c3c" stroke="none" stroke-width="1" />
<circle cx="622.47" cy="438.61" r="1.35" fill="#f23c3c" stroke="none" stroke-width="1" />
<circle cx="622.91" cy="428.22" r="1.35" fill="#f23c3c" stroke="none" stroke-width="1" />
<circle cx="623.22" cy="429.44" r="1.35" fill="#f23c3c" stroke="none" stroke-width="1" />
<circle cx="623.57" cy="428.72" r="1.35" fill="#f23c3c" stroke="none" stroke-width="1" />
<circle cx="623.89" cy="426.94" r="1.35" fill="#f23c3c" stroke="none" stroke-width="1" />
<circle cx="623.80" cy="436.18" r="1.35" fill="#f23c3c" stroke="none" stroke-width="1" />
<circle cx="624.47" cy="443.13" r="1.35" fill="#f23c3c" stroke="none" stroke-width="1" />
<circle cx="624.78" cy="427.10" r="1.35" fill="#f23c3c" stroke="none" stroke-width="1" />
<circle cx="625.26" cy="434.88" r="1.35" fill="#f23c3c" stroke="none" stroke-width="1" />
<circle cx="625.55" cy="439.16" r="1.35" fill="#f23c3c" stroke="none" stroke-width="1" />
<circle cx="626.09" cy="438.93" r="1.35" fill="#f23c3c" stroke="none" stroke-width="1" />
<circle cx="625.80" cy="426.60" r="1.35" fill="#f23c3c" stroke="none" stroke-width="1" />
<circle cx="626.29" cy="431.56" r="1.35" fill="#f23c3c" stroke="none" stroke-width="1" />
<circle cx="626.70" cy="430.76" r="1.35" fill="#f23c3c" stroke="none" stroke-width="1" />
<circle cx="626.79" cy="427.62" r="1.35" fill="#f23c3c" stroke="none" stroke-width="1" />
<circle cx="627.20" cy="435.61" r="1.35" fill="#f23c3c" stroke="none" stroke-width="1" />
<circle cx="627.50" cy="437.76" r="1.35" fill="#f23c3c" stroke="none" stroke-width="1" />
<circle cx="627.78" cy="435.96" r="1.35" fill="#f23c3c" stroke="none" stroke-width="1" />
<circle cx="628.82" cy="436.95" r="1.35" fill="#f23c3c" stroke="none" stroke-width="1" />
<circle cx="628.52" cy="432.05" r="1.35" fill="#f23c3c" stroke="none" stroke-width="1" />
<circle cx="629.24" cy="434.87" r="1.35" fill="#f23c3c" stroke="none" stroke-width="1" />
<circle cx="628.96" cy="429.14" r="1.35" fill="#f23c3c" stroke="none" stroke-width="1" />
<circle cx="629.57" cy="431.46" r="1.35" fill="#f23c3c" stroke="none" stroke-width="1" />
<circle cx="629.65" cy="428.61" r="1.35" fill="#f23c3c" stroke="none" stroke-width="1" />
<circle cx="630.22" cy="423.87" r="1.35" fill="#f23c3c" stroke="none" stroke-width="1" />
<circle cx="630.88" cy="418.93" r="1.35" fill="#f23c3c" stroke="none" stroke-width="1" />
<circle cx="631.27" cy="417.38" r="1.35" fill="#f23c3c" stroke="none" stroke-width="1" />
<circle cx="631.29" cy="425.11" r="1.35" fill="#f23c3c" stroke="none" stroke-width="1" />
<circle cx="631.52" cy="423.91" r="1.35" fill="#f23c3c" stroke="none" stroke-width="1" />
<circle cx="631.72" cy="427.52" r="1.35" fill="#f23c3c" stroke="none" stroke-width="1" />
<circle cx="632.13" cy="417.84" r="1.35" fill="#f23c3c" stroke="none" stroke-width="1" />
<circle cx="632.71" cy="413.93" r="1.35" fill="#f23c3c" stroke="none" stroke-width="1" />
<circle cx="632.25" cy="426.01" r="1.35" fill="#f23c3c" stroke="none" stroke-width="1" />
<circle cx="632.91" cy="416.97" r="1.35" fill="#f23c3c" stroke="none" stroke-width="1" />
<circle cx="633.05" cy="422.86" r="1.35" fill="#f23c3c" stroke="none" stroke-width="1" />
<circle cx="633.88" cy="421.04" r="1.35" fill="#f23c3c" stroke="none" stroke-width="1" />
<circle cx="633.61" cy="417.91" r="1.35" fill="#f23c3c" stroke="none" stroke-width="1" />
<circle cx="634.47" cy="420.71" r="1.35" fill="#f23c3c" stroke="none" stroke-width="1" />
<circle cx="634.27" cy="411.50" r="1.35" fill="#f23c3c" stroke="none" stroke-width="1" />
<circle cx="634.61" cy="426.05" r="1.35" fill="#f23c3c" stroke="none" stroke-width="1" />
<circle cx="635.59" cy="420.02" r="1.35" fill="#f23c3c" stroke="none" stroke-width="1" />
<circle cx="635.79" cy="415.40" r="1.35" fill="#f23c3c" stroke="none" stroke-width="1" />
<circle cx="635.61" cy="420.76" r="1.35" fill="#f23c3c" stroke="none" stroke-width="1" />
<circle cx="635.70" cy="410.59" r="1.35" fill="#f23c3c" stroke="none" stroke-width="1" />
<circle cx="636.23" cy="422.54" r="1.35" fill="#f23c3c" stroke="none" stroke-width="1" />
<circle cx="636.94" cy="411.24" r="1.35" fill="#f23c3c" stroke="none" stroke-width="1" />
<circle cx="637.10" cy="420.88" r="1.35" fill="#f23c3c" stroke="none" stroke-width="1" />
<circle cx="637.18" cy="411.46" r="1.35" fill="#f23c3c" stroke="none" stroke-width="1" />
<circle cx="637.88" cy="406.49" r="1.35" fill="#f23c3c" stroke="none" stroke-width="1" />
<circle cx="638.41" cy="394.31" r="1.35" fill="#f23c3c" stroke="none" stroke-width="1" />
<circle cx="638.08" cy="401.83" r="1.35" fill="#f23c3c" stroke="none" stroke-width="1" />
<circle cx="638.67" cy="397.83" r="1.35" fill="#f23c3c" stroke="none" stroke-width="1" />
<circle cx="638.80" cy="408.52" r="1.35" fill="#f23c3c" stroke="none" stroke-width="1" />
<circle cx="639.61" cy="394.09" r="1.35" fill="#f23c3c" stroke="none" stroke-width="1" />
<circle cx="639.67" cy="410.58" r="1.35" fill="#f23c3c" stroke="none" stroke-width="1" />
<circle cx="639.79" cy="410.69" r="1.35" fill="#f23c3c" stroke="none" stroke-width="1" />
<circle cx="639.85" cy="417.97" r="1.35" fill="#f23c3c" stroke="none" stroke-width="1" />
<circle cx="640.77" cy="407.55" r="1.35" fill="#f23c3c" stroke="none" stroke-width="1" />
<circle cx="640.83" cy="401.90" r="1.35" fill="#f23c3c" stroke="none" stroke-width="1" />
<circle cx="641.26" cy="413.87" r="1.35" fill="#f23c3c" stroke="none" stroke-width="1" />
<circle cx="641.49" cy="412.26" r="1.35" fill="#f23c3c" stroke="none" stroke-width="1" />
<circle cx="641.96" cy="413.17" r="1.35" fill="#f23c3c" stroke="none" stroke-width="1" />
<circle cx="641.73" cy="412.57" r="1.35" fill="#f23c3c" stroke="none" stroke-width="1" />
<circle cx="642.28" cy="414.70" r="1.35" fill="#f23c3c" stroke="none" stroke-width="1" />
<circle cx="642.90" cy="420.29" r="1.35" fill="#f23c3c" stroke="none" stroke-width="1" />
<circle cx="643.60" cy="402.04" r="1.35" fill="#f23c3c" stroke="none" stroke-width="1" />
<circle cx="643.53" cy="425.35" r="1.35" fill="#f23c3c" stroke="none" stroke-width="1" />
<circle cx="643.74" cy="418.75" r="1.35" fill="#f23c3c" stroke="none" stroke-width="1" />
<circle cx="643.91" cy="410.74" r="1.35" fill="#f23c3c" stroke="none" stroke-width="1" />
<circle cx="644.22" cy="406.91" r="1.35" fill="#f23c3c" stroke="none" stroke-width="1" />
<circle cx="644.65" cy="415.69" r="1.35" fill="#f23c3c" stroke="none" stroke-width="1" />
<circle cx="644.82" cy="416.87" r="1.35" fill="#f23c3c" stroke="none" stroke-width="1" />
<circle cx="645.38" cy="415.41" r="1.35" fill="#f23c3c" stroke="none" stroke-width="1" />
<circle cx="645.67" cy="418.19" r="1.35" fill="#f23c3c" stroke="none" stroke-width="1" />
<circle cx="646.50" cy="411.68" r="1.35" fill="#f23c3c" stroke="none" stroke-width="1" />
<circle cx="646.27" cy="421.23" r="1.35" fill="#f23c3c" stroke="none" stroke-width="1" />
<circle cx="646.90" cy="425.25" r="1.35" fill="#f23c3c" stroke="none" stroke-width="1" />
<circle cx="646.82" cy="422.90" r="1.35" fill="#f23c3c" stroke="none" stroke-width="1" />
<circle cx="647.50" cy="420.32" r="1.35" fill="#f23c3c" stroke="none" stroke-width="1" />
<circle cx="648.20" cy="414.39" r="1.35" fill="#f23c3c" stroke="none" stroke-width="1" />
<circle cx="647.73" cy="413.25" r="1.35" fill="#f23c3c" stroke="none" stroke-width="1" />
<circle cx="647.90" cy="426.31" r="1.35" fill="#f23c3c" stroke="none" stroke-width="1" />
<circle cx="648.80" cy="433.61" r="1.35" fill="#f23c3c" stroke="none" stroke-width="1" />
<circle cx="648.85" cy="434.11" r="1.35" fill="#f23c3c" stroke="none" stroke-width="1" />
<circle cx="649.09" cy="415.01" r="1.35" fill="#f23c3c" stroke="none" stroke-width="1" />
<circle cx="649.59" cy="430.59" r="1.35" fill="#f23c3c" stroke="none" stroke-width="1" />
<circle cx="649.86" cy="426.91" r="1.35" fill="#f23c3c" stroke="none" stroke-width="1" />
<circle cx="650.43" cy="420.10" r="1.35" fill="#f23c3c" stroke="none" stroke-width="1" />
<circle cx="650.53" cy="435.48" r="1.35" fill="#f23c3c" stroke="none" stroke-width="1" />
<circle cx="650.59" cy="434.03" r="1.35" fill="#f23c3c" stroke="none" stroke-width="1" />
<circle cx="650.77" cy="437.24" r="1.35" fill="#f23c3c" stroke="none" stroke-width="1" />
<circle cx="650.93" cy="441.07" r="1.35" fill="#f23c3c" stroke="none" stroke-width="1" />
<circle cx="651.41" cy="432.60" r="1.35" fill="#f23c3c" stroke="none" stroke-width="1" />
<circle cx="652.29" cy="432.58" r="1.35" fill="#f23c3c" stroke="none" stroke-width="1" />
<circle cx="651.95" cy="448.30" r="1.35" fill="#f23c3c" stroke="none" stroke-width="1" />
<circle cx="652.65" cy="435.67" r="1.35" fill="#f23c3c" stroke="none" stroke-width="1" />
<circle cx="653.28" cy="442.76" r="1.35" fill="#f23c3c" stroke="none" stroke-width="1" />
<circle cx="653.43" cy="442.05" r="1.35" fill="#f23c3c" stroke="none" stroke-width="1" />
<circle cx="653.99" cy="443.27" r="1.35" fill="#f23c3c" stroke="none" stroke-width="1" />
<circle cx="654.10" cy="451.24" r="1.35" fill="#f23c3c" stroke="none" stroke-width="1" />
<circle cx="654.63" cy="448.04" r="1.35" fill="#f23c3c" stroke="none" stroke-width="1" />
<circle cx="654.39" cy="452.18" r="1.35" fill="#f23c3c" stroke="none" stroke-width="1" />
<circle cx="654.64" cy="441.19" r="1.35" fill="#f23c3c" stroke="none" stroke-width="1" />
<circle cx="655.68" cy="441.51" r="1.35" fill="#f23c3c" stroke="none" stroke-width="1" />
<circle cx="655.58" cy="451.40" r="1.35" fill="#f23c3c" stroke="none" stroke-width="1" />
<circle cx="655.83" cy="457.63" r="1.35" fill="#f23c3c" stroke="none" stroke-width="1" />
<circle cx="655.98" cy="449.84" r="1.35" fill="#f23c3c" stroke="none" stroke-width="1" />
<circle cx="656.86" cy="456.25" r="1.35" fill="#f23c3c" stroke="none" stroke-width="1" />
<circle cx="656.89" cy="450.43" r="1.35" fill="#f23c3c" stroke="none" stroke-width="1" />
<circle cx="657.21" cy="451.04" r="1.35" fill="#f23c3c" stroke="none" stroke-width="1" />
<circle cx="657.23" cy="453.48" r="1.35" fill="#f23c3c" stroke="none" stroke-width="1" />
<circle cx="657.73" cy="461.88" r="1.35" fill="#f23c3c" stroke="none" stroke-width="1" />
<circle cx="657.92" cy="465.05" r="1.35" fill="#f23c3c" stroke="none" stroke-width="1" />
<circle cx="658.32" cy="465.08" r="1.35" fill="#f23c3c" stroke="none" stroke-width="1" />
<circle cx="658.75" cy="464.42" r="1.35" fill="#f23c3c" stroke="none" stroke-width="1" />
<circle cx="658.85" cy="468.10" r="1.35" fill="#f23c3c" stroke="none" stroke-width="1" />
<circle cx="659.08" cy="462.83" r="1.35" fill="#f23c3c" stroke="none" stroke-width="1" />
<circle cx="659.82" cy="465.58" r="1.35" fill="#f23c3c" stroke="none" stroke-width="1" />
<circle cx="659.67" cy="468.65" r="1.35" fill="#f23c3c" stroke="none" stroke-width="1" />
<circle cx="660.61" cy="470.70" r="1.35" fill="#f23c3c" stroke="none" stroke-width="1" />
<circle cx="660.96" cy="468.85" r="1.35" fill="#f23c3c" stroke="none" stroke-width="1" />
<circle cx="660.52" cy="467.94" r="1.35" fill="#f23c3c" stroke="none" stroke-width="1" />
<circle cx="661.62" cy="477.41" r="1.35" fill="#f23c3c" stroke="none" stroke-width="1" />
<circle cx="661.30" cy="472.78" r="1.35" fill="#f23c3c" stroke="none" stroke-width="1" />
<circle cx="662.17" cy="474.94" r="1.35" fill="#f23c3c" stroke="none" stroke-width="1" />
<circle cx="662.00" cy="476.79" r="1.35" fill="#f23c3c" stroke="none" stroke-width="1" />
<circle cx="662.66" cy="476.60" r="1.35" fill="#f23c3c" stroke="none" stroke-width="1" />
<circle cx="662.51" cy="476.27" r="1.35" fill="#f23c3c" stroke="none" stroke-width="1" />
<circle cx="663.26" cy="473.16" r="1.35" fill="#f23c3c" stroke="none" stroke-width="1" />
<circle cx="663.44" cy="477.89" r="1.35" fill="#f23c3c" stroke="none" stroke-width="1" />
<circle cx="664.14" cy="479.61" r="1.35" fill="#f23c3c" stroke="none" stroke-width="1" />
<circle cx="664.25" cy="481.90" r="1.35" fill="#f23c3c" stroke="none" stroke-width="1" />
<circle cx="664.13" cy="478.40" r="1.35" fill="#f23c3c" stroke="none" stroke-width="1" />
<circle cx="664.77" cy="482.08" r="1.35" fill="#f23c3c" stroke="none" stroke-width="1" />
<circle cx="664.83" cy="481.38" r="1.35" fill="#f23c3c" stroke="none" stroke-width="1" />
<circle cx="665.37" cy="480.36" r="1.35" fill="#f23c3c" stroke="none" stroke-width="1" />
<circle cx="666.04" cy="482.15" r="1.35" fill="#f23c3c" stroke="none" stroke-width="1" />
<circle cx="666.36" cy="483.47" r="1.35" fill="#f23c3c" stroke="none" stroke-width="1" />
<circle cx="666.31" cy="483.56" r="1.35" fill="#f23c3c" stroke="none" stroke-width="1" />
<circle cx="666.38" cy="482.13" r="1.35" fill="#f23c3c" stroke="none" stroke-width="1" />
<circle cx="666.92" cy="484.20" r="1.35" fill="#f23c3c" stroke="none" stroke-width="1" />
<circle cx="667.76" cy="484.17" r="1.35" fill="#f23c3c" stroke="none" stroke-width="1" />
<circle cx="667.50" cy="484.29" r="1.35" fill="#f23c3c" stroke="none" stroke-width="1" />
<circle cx="667.48" cy="485.94" r="1.35" fill="#f23c3c" stroke="none" stroke-width="1" />
<circle cx="667.81" cy="485.22" r="1.35" fill="#f23c3c" stroke="none" stroke-width="1" />
<circle cx="668.18" cy="486.56" r="1.35" fill="#f23c3c" stroke="none" stroke-width="1" />
<circle cx="669.09" cy="484.66" r="1.35" fill="#f23c3c" stroke="none" stroke-width="1" />
<circle cx="669.03" cy="485.99" r="1.35" fill="#f23c3c" stroke="none" stroke-width="1" />
<circle cx="669.25" cy="489.74" r="1.35" fill="#f23c3c" stroke="none" stroke-width="1" />
<circle cx="669.85" cy="487.69" r="1.35" fill="#f23c3c" stroke="none" stroke-width="1" />
<circle cx="670.32" cy="486.00" r="1.35" fill="#f23c3c" stroke="none" stroke-width="1" />
<circle cx="670.35" cy="488.24" r="1.35" fill="#f23c3c" stroke="none" stroke-width="1" />
<circle cx="670.50" cy="488.80" r="1.35" fill="#f23c3c" stroke="none" stroke-width="1" />
<circle cx="671.08" cy="487.00" r="1.35" fill="#f23c3c" stroke="none" stroke-width="1" />
<circle cx="671.55" cy="490.20" r="1.35" fill="#f23c3c" stroke="none" stroke-width="1" />
<circle cx="671.23" cy="488.79" r="1.35" fill="#f23c3c" stroke="none" stroke-width="1" />
<circle cx="671.61" cy="488.26" r="1.35" fill="#f23c3c" stroke="none" stroke-width="1" />
<circle cx="672.81" cy="488.10" r="1.35" fill="#f23c3c" stroke="none" stroke-width="1" />
<circle cx="672.72" cy="490.87" r="1.35" fill="#f23c3c" stroke="none" stroke-width="1" />
<circle cx="673.02" cy="491.10" r="1.35" fill="#f23c3c" stroke="none" stroke-width="1" />
<circle cx="672.88" cy="487.77" r="1.35" fill="#f23c3c" stroke="none" stroke-width="1" />
<circle cx="673.30" cy="490.97" r="1.35" fill="#f23c3c" stroke="none" stroke-width="1" />
<circle cx="673.81" cy="490.19" r="1.35" fill="#f23c3c" stroke="none" stroke-width="1" />
<circle cx="674.52" cy="486.99" r="1.35" fill="#f23c3c" stroke="none" stroke-width="1" />
<circle cx="674.53" cy="490.93" r="1.35" fill="#f23c3c" stroke="none" stroke-width="1" />
<circle cx="674.40" cy="491.10" r="1.35" fill="#f23c3c" stroke="none" stroke-width="1" />
<circle cx="675.54" cy="486.92" r="1.35" fill="#f23c3c" stroke="none" stroke-width="1" />
<circle cx="675.87" cy="489.32" r="1.35" fill="#f23c3c" stroke="none" stroke-width="1" />
<circle cx="676.00" cy="490.25" r="1.35" fill="#f23c3c" stroke="none" stroke-width="1" />
<circle cx="675.81" cy="487.24" r="1.35" fill="#f23c3c" stroke="none" stroke-width="1" />
<circle cx="676.24" cy="490.95" r="1.35" fill="#f23c3c" stroke="none" stroke-width="1" />
<circle cx="676.66" cy="489.09" r="1.35" fill="#f23c3c" stroke="none" stroke-width="1" />
<circle cx="677.08" cy="490.96" r="1.35" fill="#f23c3c" stroke="none" stroke-width="1" />
<circle cx="677.83" cy="491.10" r="1.35" fill="#f23c3c" stroke="none" stroke-width="1" />
<circle cx="677.33" cy="490.28" r="1.35" fill="#f23c3c" stroke="none" stroke-width="1" />
<circle cx="677.81" cy="490.01" r="1.35" fill="#f23c3c" stroke="none" stroke-width="1" />
<circle cx="678.31" cy="489.54" r="1.35" fill="#f23c3c" stroke="none" stroke-width="1" />
<circle cx="678.48" cy="489.68" r="1.35" fill="#f23c3c" stroke="none" stroke-width="1" />
<circle cx="678.81" cy="491.10" r="1.35" fill="#f23c3c" stroke="none" stroke-width="1" />
<circle cx="678.87" cy="491.10" r="1.35" fill="#f23c3c" stroke="none" stroke-width="1" />
<circle cx="679.59" cy="488.81" r="1.35" fill="#f23c3c" stroke="none" stroke-width="1" />
<circle cx="679.81" cy="490.49" r="1.35" fill="#f23c3c" stroke="none" stroke-width="1" />
<circle cx="680.25" cy="491.10" r="1.35" fill="#f23c3c" stroke="none" stroke-width="1" />
<circle cx="680.77" cy="489.58" r="1.35" fill="#f23c3c" stroke="none" stroke-width="1" />
<circle cx="680.77" cy="489.52" r="1.35" fill="#f23c3c" stroke="none" stroke-width="1" />
<circle cx="681.13" cy="489.66" r="1.35" fill="#f23c3c" stroke="none" stroke-width="1" />
<circle cx="681.55" cy="491.10" r="1.35" fill="#f23c3c" stroke="none" stroke-width="1" />
<circle cx="681.68" cy="491.10" r="1.35" fill="#f23c3c" stroke="none" stroke-width="1" />
<circle cx="682.16" cy="490.31" r="1.35" fill="#f23c3c" stroke="none" stroke-width="1" />
<circle cx="681.97" cy="489.75" r="1.35" fill="#f23c3c" stroke="none" stroke-width="1" />
<circle cx="682.52" cy="491.10" r="1.35" fill="#f23c3c" stroke="none" stroke-width="1" />
<path d="M584.19,483.07 L584.50,482.68 L584.81,482.27 L585.12,481.85 L585.43,481.42 L585.74,480.98 L586.05,480.52 L586.37,480.06 L586.68,479.58 L586.99,479.09 L587.30,478.59 L587.61,478.08 L587.92,477.56 L588.23,477.03 L588.55,476.50 L588.86,475.95 L589.17,475.40 L589.48,474.84 L589.79,474.27 L590.10,473.70 L590.41,473.12 L590.73,472.54 L591.04,471.96 L591.35,471.37 L591.66,470.78 L591.97,470.19 L592.28,469.61 L592.59,469.02 L592.91,468.44 L593.22,467.85 L593.53,467.28 L593.84,466.71 L594.15,466.14 L594.46,465.59 L594.77,465.04 L595.09,464.50 L595.40,463.97 L595.71,463.46 L596.02,462.96 L596.33,462.47 L596.64,462.00 L596.95,461.54 L597.27,461.10 L597.58,460.68 L597.89,460.28 L598.20,459.90 L598.51,459.54 L598.82,459.20 L599.13,458.88 L599.45,458.59 L599.76,458.32 L600.07,458.07 L600.38,457.85 L600.69,457.66 L601.00,457.49 L601.31,457.35 L601.63,457.24 L601.94,457.15 L602.25,457.09 L602.56,457.06 L602.87,457.05 L603.18,457.08 L603.49,457.13 L603.81,457.22 L604.12,457.33 L604.43,457.48 L604.74,457.65 L605.05,457.85 L605.36,458.08 L605.67,458.33 L605.99,458.62 L606.30,458.93 L606.61,459.26 L606.92,459.62 L607.23,460.00 L607.54,460.40 L607.85,460.83 L608.17,461.27 L608.48,461.74 L608.79,462.22 L609.10,462.72 L609.41,463.24 L609.72,463.77 L610.03,464.31 L610.35,464.87 L610.66,465.44 L610.97,466.02 L611.28,466.60 L611.59,467.19 L611.90,467.79 L612.21,468.40 L612.53,469.01 L612.84,469.62 L613.15,470.23 L613.46,470.84 L613.77,471.46 L614.08,472.07 L614.39,472.67 L614.71,473.28 L615.02,473.88 L615.33,474.47 L615.64,475.06 L615.95,475.64 L616.26,476.21 L616.57,476.78 L616.89,477.33 L617.20,477.88 L617.51,478.41 L617.82,478.93 L618.13,479.45 L618.44,479.95 L618.75,480.44 L619.07,480.91 L619.38,481.37 L619.69,481.82 L620.00,482.26 L620.31,482.69 L620.62,483.10 L620.93,483.49 L621.25,483.88 L621.56,484.25 L621.87,484.61 L622.18,484.95 L622.49,485.28 L622.80,485.60 L623.11,485.91 L623.43,486.20 L623.74,486.48 L624.05,486.75 L624.36,487.00 L624.67,487.25 L624.98,487.48 L625.29,487.70 L625.61,487.91 L625.92,488.11 L626.23,488.30 L626.54,488.49 L626.85,488.66 L627.16,488.82 L627.47,488.97 L627.79,489.12 L628.10,489.25 L628.41,489.38 L628.72,489.50 L629.03,489.62 L629.34,489.72 L629.65,489.82 L629.97,489.92 L630.28,490.01 L630.59,490.09 L630.90,490.16 L631.21,490.24 L631.52,490.30 L631.83,490.37 L632.15,490.42 L632.46,490.48 L632.77,490.53 L633.08,490.58 L633.39,490.62 L633.70,490.66 L634.01,490.70 L634.33,490.73 L634.64,490.76 L634.95,490.79 L635.26,490.82 L635.57,490.84 L635.88,490.87 L636.19,490.89 L636.51,490.91 L636.82,490.92 L637.13,490.94 L637.44,490.96 L637.75,490.97 L638.06,490.98 L638.37,490.99 L638.69,491.00 L639.00,491.01 L639.31,491.02 L639.62,491.03 L639.93,491.04 L640.24,491.04 L640.55,491.05 L640.87,491.05 L641.18,491.06 L641.49,491.06 L641.80,491.07 L642.11,491.07 L642.42,491.07 L642.73,491.08 L643.05,491.08 L643.36,491.08 L643.67,491.08 L643.98,491.08 L644.29,491.09 L644.60,491.09 L644.91,491.09 L645.23,491.09 L645.54,491.09 L645.85,491.09 L646.16,491.09 L646.47,491.09 L646.78,491.09 L647.09,491.10 L647.41,491.10 L647.72,491.10 L648.03,491.10 L648.34,491.10 L648.65,491.10 L648.96,491.10 L649.27,491.10 L649.59,491.10 L649.90,491.10 L650.21,491.10 L650.52,491.10 L650.83,491.10 L651.14,491.10 L651.45,491.10 L651.77,491.10 L652.08,491.10 L652.39,491.10" fill="none" stroke="#d01c1c" stroke-width="1.4"/>
<path d="M590.31,491.09 L590.59,491.09 L590.87,491.09 L591.16,491.09 L591.44,491.09 L591.72,491.09 L592.01,491.08 L592.29,491.08 L592.57,491.08 L592.86,491.07 L593.14,491.07 L593.42,491.06 L593.71,491.06 L593.99,491.05 L594.28,491.04 L594.56,491.03 L594.84,491.02 L595.13,491.01 L595.41,490.99 L595.69,490.98 L595.98,490.96 L596.26,490.94 L596.54,490.91 L596.83,490.89 L597.11,490.85 L597.39,490.82 L597.68,490.78 L597.96,490.74 L598.24,490.69 L598.53,490.64 L598.81,490.58 L599.09,490.51 L599.38,490.44 L599.66,490.35 L599.94,490.26 L600.23,490.16 L600.51,490.05 L600.80,489.93 L601.08,489.80 L601.36,489.65 L601.65,489.50 L601.93,489.32 L602.21,489.13 L602.50,488.93 L602.78,488.71 L603.06,488.47 L603.35,488.21 L603.63,487.93 L603.91,487.63 L604.20,487.31 L604.48,486.97 L604.76,486.60 L605.05,486.21 L605.33,485.79 L605.61,485.35 L605.90,484.89 L606.18,484.39 L606.47,483.87 L606.75,483.33 L607.03,482.76 L607.32,482.16 L607.60,481.53 L607.88,480.88 L608.17,480.21 L608.45,479.51 L608.73,478.78 L609.02,478.04 L609.30,477.27 L609.58,476.49 L609.87,475.68 L610.15,474.86 L610.43,474.03 L610.72,473.18 L611.00,472.33 L611.28,471.47 L611.57,470.61 L611.85,469.74 L612.13,468.88 L612.42,468.03 L612.70,467.18 L612.99,466.35 L613.27,465.53 L613.55,464.73 L613.84,463.95 L614.12,463.20 L614.40,462.48 L614.69,461.79 L614.97,461.14 L615.25,460.53 L615.54,459.95 L615.82,459.43 L616.10,458.95 L616.39,458.52 L616.67,458.14 L616.95,457.82 L617.24,457.55 L617.52,457.34 L617.80,457.18 L618.09,457.09 L618.37,457.05 L618.65,457.08 L618.94,457.16 L619.22,457.30 L619.51,457.50 L619.79,457.76 L620.07,458.08 L620.36,458.45 L620.64,458.87 L620.92,459.34 L621.21,459.86 L621.49,460.42 L621.77,461.03 L622.06,461.67 L622.34,462.35 L622.62,463.07 L622.91,463.82 L623.19,464.59 L623.47,465.38 L623.76,466.20 L624.04,467.03 L624.32,467.88 L624.61,468.73 L624.89,469.59 L625.17,470.45 L625.46,471.32 L625.74,472.18 L626.03,473.03 L626.31,473.88 L626.59,474.71 L626.88,475.54 L627.16,476.34 L627.44,477.13 L627.73,477.90 L628.01,478.65 L628.29,479.38 L628.58,480.08 L628.86,480.76 L629.14,481.42 L629.43,482.05 L629.71,482.65 L629.99,483.23 L630.28,483.78 L630.56,484.30 L630.84,484.80 L631.13,485.27 L631.41,485.72 L631.69,486.14 L631.98,486.53 L632.26,486.90 L632.55,487.25 L632.83,487.57 L633.11,487.88 L633.40,488.16 L633.68,488.42 L633.96,488.67 L634.25,488.89 L634.53,489.10 L634.81,489.29 L635.10,489.47 L635.38,489.63 L635.66,489.77 L635.95,489.91 L636.23,490.03 L636.51,490.15 L636.80,490.25 L637.08,490.34 L637.36,490.42 L637.65,490.50 L637.93,490.57 L638.21,490.63 L638.50,490.68 L638.78,490.73 L639.07,490.77 L639.35,490.81 L639.63,490.85 L639.92,490.88 L640.20,490.91 L640.48,490.93 L640.77,490.95 L641.05,490.97 L641.33,490.99 L641.62,491.00 L641.90,491.02 L642.18,491.03 L642.47,491.04 L642.75,491.05 L643.03,491.05 L643.32,491.06 L643.60,491.07 L643.88,491.07 L644.17,491.08 L644.45,491.08 L644.74,491.08 L645.02,491.08 L645.30,491.09 L645.59,491.09 L645.87,491.09 L646.15,491.09 L646.44,491.09 L646.72,491.09 L647.00,491.10 L647.29,491.10 L647.57,491.10 L647.85,491.10 L648.14,491.10 L648.42,491.10 L648.70,491.10 L648.99,491.10 L649.27,491.10 L649.55,491.10 L649.84,491.10 L650.12,491.10 L650.40,491.10 L650.69,491.10 L650.97,491.10 L651.26,491.10 L651.54,491.10 L651.82,491.10 L652.11,491.10 L652.39,491.10" fill="none" stroke="#d01c1c" stroke-width="1.4"/>
<path d="M607.14,490.94 L607.44,490.92 L607.73,490.90 L608.03,490.88 L608.32,490.86 L608.62,490.83 L608.92,490.80 L609.21,490.76 L609.51,490.73 L609.81,490.69 L610.10,490.64 L610.40,490.59 L610.70,490.54 L610.99,490.48 L611.29,490.42 L611.59,490.35 L611.88,490.27 L612.18,490.19 L612.48,490.10 L612.77,490.00 L613.07,489.90 L613.36,489.78 L613.66,489.66 L613.96,489.52 L614.25,489.38 L614.55,489.22 L614.85,489.05 L615.14,488.87 L615.44,488.68 L615.74,488.47 L616.03,488.24 L616.33,488.00 L616.63,487.74 L616.92,487.46 L617.22,487.17 L617.51,486.85 L617.81,486.52 L618.11,486.16 L618.40,485.78 L618.70,485.38 L619.00,484.95 L619.29,484.49 L619.59,484.01 L619.89,483.50 L620.18,482.97 L620.48,482.40 L620.78,481.81 L621.07,481.18 L621.37,480.52 L621.67,479.83 L621.96,479.11 L622.26,478.35 L622.55,477.56 L622.85,476.73 L623.15,475.87 L623.44,474.97 L623.74,474.04 L624.04,473.07 L624.33,472.06 L624.63,471.02 L624.93,469.94 L625.22,468.83 L625.52,467.68 L625.82,466.49 L626.11,465.28 L626.41,464.02 L626.70,462.74 L627.00,461.43 L627.30,460.08 L627.59,458.71 L627.89,457.30 L628.19,455.88 L628.48,454.43 L628.78,452.95 L629.08,451.46 L629.37,449.95 L629.67,448.43 L629.97,446.89 L630.26,445.34 L630.56,443.79 L630.86,442.23 L631.15,440.67 L631.45,439.11 L631.74,437.56 L632.04,436.02 L632.34,434.48 L632.63,432.97 L632.93,431.47 L633.23,429.99 L633.52,428.54 L633.82,427.12 L634.12,425.73 L634.41,424.38 L634.71,423.07 L635.01,421.80 L635.30,420.58 L635.60,419.40 L635.90,418.28 L636.19,417.22 L636.49,416.22 L636.78,415.27 L637.08,414.39 L637.38,413.58 L637.67,412.84 L637.97,412.17 L638.27,411.57 L638.56,411.05 L638.86,410.60 L639.16,410.24 L639.45,409.95 L639.75,409.74 L640.05,409.61 L640.34,409.56 L640.64,409.58 L640.93,409.64 L641.23,409.75 L641.53,409.89 L641.82,410.08 L642.12,410.32 L642.42,410.59 L642.71,410.90 L643.01,411.26 L643.31,411.66 L643.60,412.09 L643.90,412.57 L644.20,413.08 L644.49,413.63 L644.79,414.22 L645.09,414.84 L645.38,415.50 L645.68,416.20 L645.97,416.92 L646.27,417.68 L646.57,418.47 L646.86,419.28 L647.16,420.13 L647.46,421.00 L647.75,421.90 L648.05,422.82 L648.35,423.77 L648.64,424.74 L648.94,425.73 L649.24,426.74 L649.53,427.76 L649.83,428.80 L650.13,429.86 L650.42,430.93 L650.72,432.02 L651.01,433.11 L651.31,434.22 L651.61,435.33 L651.90,436.45 L652.20,437.58 L652.50,438.71 L652.79,439.84 L653.09,440.98 L653.39,442.12 L653.68,443.25 L653.98,444.39 L654.28,445.52 L654.57,446.65 L654.87,447.77 L655.16,448.89 L655.46,450.00 L655.76,451.10 L656.05,452.19 L656.35,453.27 L656.65,454.35 L656.94,455.41 L657.24,456.45 L657.54,457.49 L657.83,458.51 L658.13,459.52 L658.43,460.51 L658.72,461.49 L659.02,462.45 L659.32,463.39 L659.61,464.32 L659.91,465.23 L660.20,466.12 L660.50,467.00 L660.80,467.85 L661.09,468.69 L661.39,469.51 L661.69,470.31 L661.98,471.09 L662.28,471.85 L662.58,472.59 L662.87,473.31 L663.17,474.02 L663.47,474.70 L663.76,475.37 L664.06,476.01 L664.36,476.64 L664.65,477.25 L664.95,477.84 L665.24,478.41 L665.54,478.97 L665.84,479.50 L666.13,480.02 L666.43,480.52 L666.73,481.00 L667.02,481.47 L667.32,481.92 L667.62,482.35 L667.91,482.77 L668.21,483.17 L668.51,483.55 L668.80,483.93 L669.10,484.28 L669.39,484.62 L669.69,484.95 L669.99,485.27 L670.28,485.57 L670.58,485.86 L670.88,486.13 L671.17,486.40 L671.47,486.65 L671.77,486.89 L672.06,487.12" fill="none" stroke="#d01c1c" stroke-width="1.4"/>
<path d="M584.19,480.53 L584.50,480.06 L584.81,479.58 L585.12,479.09 L585.42,478.60 L585.73,478.09 L586.04,477.58 L586.35,477.06 L586.66,476.54 L586.97,476.00 L587.28,475.46 L587.59,474.92 L587.90,474.36 L588.21,473.81 L588.52,473.25 L588.83,472.68 L589.14,472.11 L589.45,471.54 L589.76,470.97 L590.07,470.39 L590.38,469.82 L590.69,469.25 L591.00,468.69 L591.31,468.15 L591.62,467.61 L591.93,467.08 L592.24,466.56 L592.55,466.05 L592.86,465.55 L593.17,465.06 L593.48,464.57 L593.79,464.09 L594.10,463.62 L594.41,463.15 L594.72,462.70 L595.03,462.24 L595.34,461.79 L595.65,461.35 L595.96,460.92 L596.27,460.50 L596.58,460.11 L596.89,459.74 L597.19,459.39 L597.50,459.06 L597.81,458.74 L598.12,458.44 L598.43,458.14 L598.74,457.86 L599.05,457.58 L599.36,457.30 L599.67,457.03 L599.98,456.76 L600.29,456.48 L600.60,456.19 L600.91,455.90 L601.22,455.60 L601.53,455.31 L601.84,455.03 L602.15,454.76 L602.46,454.49 L602.77,454.23 L603.08,453.98 L603.39,453.74 L603.70,453.50 L604.01,453.26 L604.32,453.03 L604.63,452.79 L604.94,452.56 L605.25,452.32 L605.56,452.07 L605.87,451.76 L606.18,451.38 L606.49,450.94 L606.80,450.46 L607.11,449.92 L607.42,449.36 L607.73,448.75 L608.04,448.13 L608.35,447.49 L608.66,446.84 L608.97,446.19 L609.27,445.55 L609.58,444.92 L609.89,444.31 L610.20,443.73 L610.51,443.15 L610.82,442.58 L611.13,442.01 L611.44,441.44 L611.75,440.87 L612.06,440.30 L612.37,439.74 L612.68,439.18 L612.99,438.63 L613.30,438.08 L613.61,437.54 L613.92,437.00 L614.23,436.47 L614.54,435.95 L614.85,435.43 L615.16,434.92 L615.47,434.43 L615.78,433.95 L616.09,433.50 L616.40,433.07 L616.71,432.68 L617.02,432.32 L617.33,432.00 L617.64,431.73 L617.95,431.50 L618.26,431.32 L618.57,431.18 L618.88,431.10 L619.19,431.07 L619.50,431.07 L619.81,431.10 L620.12,431.14 L620.43,431.21 L620.74,431.29 L621.04,431.38 L621.35,431.49 L621.66,431.61 L621.97,431.73 L622.28,431.86 L622.59,431.99 L622.90,432.12 L623.21,432.24 L623.52,432.35 L623.83,432.46 L624.14,432.54 L624.45,432.62 L624.76,432.67 L625.07,432.70 L625.38,432.71 L625.69,432.69 L626.00,432.63 L626.31,432.53 L626.62,432.40 L626.93,432.21 L627.24,431.98 L627.55,431.70 L627.86,431.37 L628.17,430.99 L628.48,430.55 L628.79,430.05 L629.10,429.50 L629.41,428.91 L629.72,428.33 L630.03,427.75 L630.34,427.18 L630.65,426.60 L630.96,426.01 L631.27,425.40 L631.58,424.78 L631.89,424.14 L632.20,423.47 L632.51,422.77 L632.82,422.04 L633.12,421.27 L633.43,420.46 L633.74,419.60 L634.05,418.71 L634.36,417.82 L634.67,416.93 L634.98,416.06 L635.29,415.20 L635.60,414.38 L635.91,413.59 L636.22,412.84 L636.53,412.14 L636.84,411.49 L637.15,410.91 L637.46,410.39 L637.77,409.96 L638.08,409.61 L638.39,409.33 L638.70,409.13 L639.01,408.99 L639.32,408.91 L639.63,408.89 L639.94,408.92 L640.25,408.99 L640.56,409.10 L640.87,409.24 L641.18,409.43 L641.49,409.65 L641.80,409.91 L642.11,410.21 L642.42,410.55 L642.73,410.93 L643.04,411.35 L643.35,411.81 L643.66,412.32 L643.97,412.86 L644.28,413.44 L644.59,414.06 L644.89,414.72 L645.20,415.42 L645.51,416.15 L645.82,416.93 L646.13,417.73 L646.44,418.58 L646.75,419.46 L647.06,420.37 L647.37,421.31 L647.68,422.28 L647.99,423.28 L648.30,424.30 L648.61,425.34 L648.92,426.41 L649.23,427.50 L649.54,428.60 L649.85,429.73 L650.16,430.87 L650.47,432.02 L650.78,433.19 L651.09,434.37 L651.40,435.57 L651.71,436.77 L652.02,437.98 L652.33,439.20 L652.64,440.42 L652.95,441.65 L653.26,442.88 L653.57,444.11 L653.88,445.35 L654.19,446.58 L654.50,447.81 L654.81,449.04 L655.12,450.27 L655.43,451.51 L655.74,452.75 L656.05,453.99 L656.36,455.23 L656.67,456.47 L656.97,457.70 L657.28,458.92 L657.59,460.12 L657.90,461.31 L658.21,462.49 L658.52,463.65 L658.83,464.78 L659.14,465.89 L659.45,466.98 L659.76,468.03 L660.07,469.06 L660.38,470.05 L660.69,471.02 L661.00,471.94 L661.31,472.83 L661.62,473.67 L661.93,474.49 L662.24,475.28 L662.55,476.04 L662.86,476.78 L663.17,477.49 L663.48,478.17 L663.79,478.83 L664.10,479.47 L664.41,480.08 L664.72,480.66 L665.03,481.23 L665.34,481.77 L665.65,482.29 L665.96,482.78 L666.27,483.26 L666.58,483.72 L666.89,484.15 L667.20,484.57 L667.51,484.97 L667.82,485.35 L668.13,485.72 L668.44,486.06 L668.74,486.40 L669.05,486.72 L669.36,487.02 L669.67,487.31 L669.98,487.59 L670.29,487.86 L670.60,488.11 L670.91,488.35 L671.22,488.58 L671.53,488.80 L671.84,489.00 L672.15,489.20 L672.46,489.38 L672.77,489.55 L673.08,489.71 L673.39,489.86 L673.70,490.00 L674.01,490.13 L674.32,490.25 L674.63,490.36 L674.94,490.47 L675.25,490.56 L675.56,490.65 L675.87,490.73 L676.18,490.81 L676.49,490.87 L676.80,490.93 L677.11,490.99 L677.42,491.04 L677.73,491.08 L678.04,491.12 L678.35,491.16 L678.66,491.18 L678.97,491.21 L679.28,491.23 L679.59,491.25 L679.90,491.26 L680.21,491.27 L680.52,491.27 L680.82,491.28 L681.13,491.27 L681.44,491.27 L681.75,491.26 L682.06,491.26 L682.37,491.25 L682.68,491.23 L682.99,491.22" fill="none" stroke="#000" stroke-width="1.6" stroke-linejoin="round"/>
<text x="602.40" y="478.00" font-size="14.5" text-anchor="middle" fill="#000" >*</text>
</svg>
</body></html>
